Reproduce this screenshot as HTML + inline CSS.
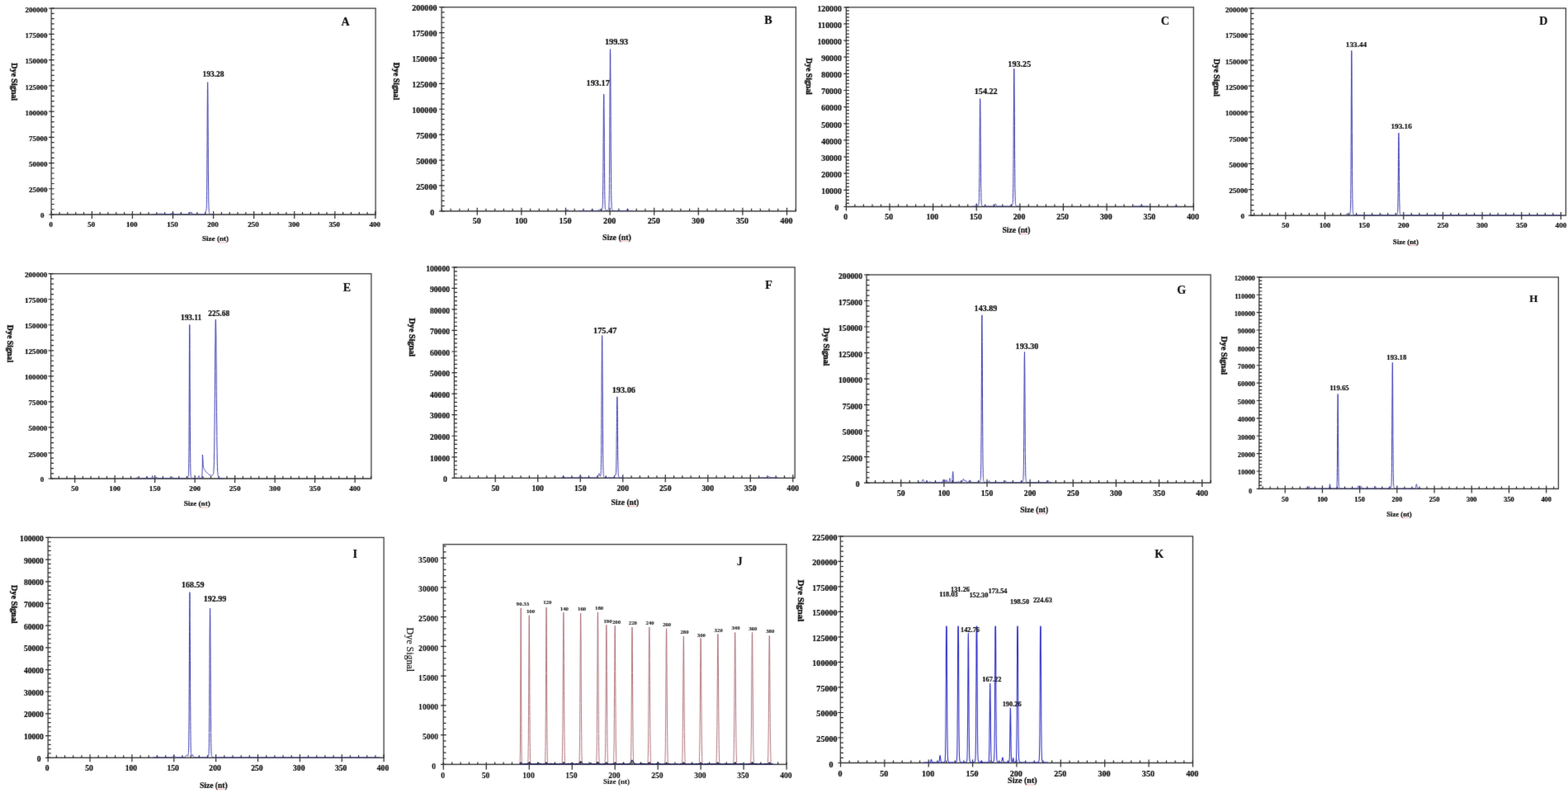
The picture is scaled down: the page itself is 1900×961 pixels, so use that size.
<!DOCTYPE html>
<html><head><meta charset="utf-8"><title>Electropherograms</title>
<style>html,body{margin:0;padding:0;background:#fff;width:1900px;height:961px;overflow:hidden;}svg{display:block;}</style></head>
<body><svg width="1900" height="961" viewBox="0 0 1900 961">
<defs><filter id="bl" x="0" y="0" width="1900" height="961" filterUnits="userSpaceOnUse"><feConvolveMatrix order="3" kernelMatrix="0.0219 0.0437 0.0219 0.0437 0.7375 0.0437 0.0219 0.0437 0.0219" divisor="1" preserveAlpha="false" edgeMode="duplicate"/></filter></defs>
<rect width="1900" height="961" fill="#fff"/>
<g filter="url(#bl)">
<g id="pA"><rect x="62.2" y="10.1" width="392.9" height="249.9" fill="none" stroke="#3a3a3a" stroke-width="1.3"/>
<path d="M62.3 256V265M72.11 257V260M81.93 257V260M91.74 257V260M101.56 257V260M111.38 256V265M121.19 257V260M131 257V260M140.82 257V260M150.63 257V260M160.45 256V265M170.26 257V260M180.08 257V260M189.89 257V260M199.71 257V260M209.52 256V265M219.34 257V260M229.15 257V260M238.97 257V260M248.78 257V260M258.6 256V265M268.41 257V260M278.23 257V260M288.04 257V260M297.86 257V260M307.67 256V265M317.49 257V260M327.31 257V260M337.12 257V260M346.94 257V260M356.75 256V265M366.56 257V260M376.38 257V260M386.19 257V260M396.01 257V260M405.82 256V265M415.64 257V260M425.45 257V260M435.27 257V260M445.08 257V260M454.9 256V265M59.2 260H65.7M62.2 253.75H65.7M62.2 247.5H65.7M62.2 241.26H65.7M62.2 235.01H65.7M59.2 228.76H65.7M62.2 222.51H65.7M62.2 216.27H65.7M62.2 210.02H65.7M62.2 203.77H65.7M59.2 197.53H65.7M62.2 191.28H65.7M62.2 185.03H65.7M62.2 178.78H65.7M62.2 172.53H65.7M59.2 166.29H65.7M62.2 160.04H65.7M62.2 153.79H65.7M62.2 147.55H65.7M62.2 141.3H65.7M59.2 135.05H65.7M62.2 128.8H65.7M62.2 122.56H65.7M62.2 116.31H65.7M62.2 110.06H65.7M59.2 103.81H65.7M62.2 97.56H65.7M62.2 91.32H65.7M62.2 85.07H65.7M62.2 78.82H65.7M59.2 72.58H65.7M62.2 66.33H65.7M62.2 60.08H65.7M62.2 53.83H65.7M62.2 47.59H65.7M59.2 41.34H65.7M62.2 35.09H65.7M62.2 28.84H65.7M62.2 22.59H65.7M62.2 16.35H65.7M59.2 10.1H65.7" stroke="#262626" stroke-width="1.2" fill="none"/>
<g font-family='"Liberation Serif", serif' font-weight="bold" font-size="9.0" fill="#111" stroke="#111" stroke-width="0.22"><text x="61.7" y="275.01" text-anchor="middle">0</text><text x="110.78" y="275.01" text-anchor="middle">50</text><text x="159.85" y="275.01" text-anchor="middle">100</text><text x="208.92" y="275.01" text-anchor="middle">150</text><text x="258" y="275.01" text-anchor="middle">200</text><text x="307.07" y="275.01" text-anchor="middle">250</text><text x="356.15" y="275.01" text-anchor="middle">300</text><text x="405.22" y="275.01" text-anchor="middle">350</text><text x="454.3" y="275.01" text-anchor="middle">400</text><text x="53.5" y="264.31" text-anchor="end" font-size="9.0">0</text><text x="57.6" y="233.48" text-anchor="end" font-size="9.0">25000</text><text x="57.6" y="202.24" text-anchor="end" font-size="9.0">50000</text><text x="57.6" y="171" text-anchor="end" font-size="9.0">75000</text><text x="57.6" y="139.76" text-anchor="end" font-size="9.0">100000</text><text x="57.6" y="108.53" text-anchor="end" font-size="9.0">125000</text><text x="57.6" y="77.29" text-anchor="end" font-size="9.0">150000</text><text x="57.6" y="46.05" text-anchor="end" font-size="9.0">175000</text><text x="57.6" y="14.81" text-anchor="end" font-size="9.0">200000</text></g>
<path d="M184.6 259.6L185.0 259.6L185.1 259.6L185.5 259.6L185.5 259.6L186.0 259.6L186.4 259.6L186.5 259.6L186.9 259.6L187.0 259.6L187.3 259.6L187.4 259.6L187.7 259.6L187.9 259.6L188.2 259.6L188.4 259.6L188.6 259.6L188.9 259.6L189.1 259.6L189.4 259.5L189.5 259.5L189.9 259.5L189.9 259.5L190.4 259.5L190.8 259.4L190.9 259.4L191.3 259.4L191.4 259.4L191.7 259.4L191.9 259.3L192.2 259.3L192.3 259.3L192.6 259.3L192.8 259.2L193.0 259.2L193.3 259.2L193.5 259.2L193.8 259.2L193.9 259.2L194.3 259.2L194.4 259.2L194.8 259.2L195.2 259.2L195.3 259.2L195.7 259.2L195.8 259.2L196.1 259.2L196.3 259.2L196.6 259.2L196.8 259.2L197.0 259.3L197.3 259.3L197.5 259.3L197.7 259.3L197.9 259.4L198.2 259.4L198.3 259.4L198.7 259.4L198.8 259.4L199.2 259.5L199.7 259.5L199.7 259.5L200.1 259.5L200.2 259.5L200.5 259.6L200.7 259.6L201.0 259.6L201.2 259.6L201.4 259.6L201.7 259.6L201.9 259.6L202.2 259.6L202.3 259.6L202.7 259.6L202.8 259.6L203.0 259.6L203.1 259.6L203.1 259.6L203.2 259.6L203.2 259.6L203.3 259.6L203.4 259.6L203.6 259.6L203.6 259.6L203.7 259.6L203.8 259.6L203.9 259.6L204.0 259.6L204.1 259.6L204.1 259.6L204.1 259.6L204.3 259.6L204.4 259.6L204.5 259.6L204.5 259.6L204.6 259.6L204.7 259.6L204.9 259.6L205.0 259.6L205.0 259.6L205.1 259.6L205.1 259.6L205.2 259.6L205.3 259.6L205.4 259.6L205.4 259.6L205.6 259.6L205.6 259.6L205.7 259.6L205.8 259.5L205.8 259.5L205.9 259.5L206.0 259.5L206.1 259.5L206.1 259.5L206.1 259.4L206.2 259.4L206.3 259.4L206.3 259.4L206.3 259.4L206.3 259.3L206.4 259.3L206.4 259.3L206.5 259.2L206.5 259.2L206.6 259.2L206.6 259.1L206.6 259.1L206.7 259.1L206.7 259.1L206.7 259.1L206.8 259.0L206.9 259.0L206.9 258.9L207.0 258.9L207.0 258.9L207.1 258.8L207.1 258.8L207.1 258.8L207.1 258.8L207.2 258.7L207.2 258.7L207.2 258.7L207.3 258.7L207.3 258.7L207.4 258.6L207.4 258.6L207.5 258.6L207.6 258.6L207.6 258.6L207.6 258.6L207.7 258.6L207.7 258.6L207.8 258.6L207.8 258.6L207.8 258.7L207.9 258.7L207.9 258.7L207.9 258.7L208.0 258.7L208.0 258.7L208.1 258.7L208.1 258.7L208.2 258.8L208.2 258.8L208.3 258.8L208.3 258.8L208.4 258.8L208.4 258.8L208.4 258.8L208.5 258.8L208.5 258.8L208.5 258.8L208.5 258.7L208.6 258.7L208.6 258.7L208.6 258.7L208.7 258.6L208.7 258.6L208.8 258.5L208.9 258.5L208.9 258.4L208.9 258.4L209.0 258.4L209.0 258.3L209.0 258.3L209.1 258.2L209.1 258.2L209.2 258.1L209.2 258.1L209.3 258.1L209.3 258.0L209.3 258.0L209.4 258.0L209.4 258.0L209.4 258.0L209.5 258.0L209.6 258.0L209.6 258.0L209.6 258.0L209.7 258.0L209.7 258.1L209.8 258.1L209.8 258.2L209.8 258.2L209.9 258.3L209.9 258.3L210.0 258.4L210.0 258.5L210.0 258.5L210.1 258.5L210.1 258.7L210.2 258.7L210.2 258.8L210.2 258.8L210.3 258.9L210.3 258.9L210.3 259.0L210.4 259.1L210.4 259.1L210.5 259.2L210.5 259.2L210.6 259.3L210.6 259.3L210.7 259.4L210.7 259.4L210.7 259.4L210.8 259.4L210.8 259.5L210.9 259.5L210.9 259.5L210.9 259.5L211.0 259.5L211.0 259.5L211.0 259.5L211.1 259.6L211.1 259.6L211.1 259.6L211.2 259.6L211.2 259.6L211.3 259.6L211.3 259.6L211.4 259.6L211.4 259.6L211.4 259.6L211.5 259.6L211.5 259.6L211.6 259.6L211.6 259.6L211.6 259.6L211.6 259.6L211.7 259.6L211.7 259.6L211.8 259.6L211.8 259.6L211.9 259.6L211.9 259.6L212.0 259.6L212.0 259.6L212.0 259.6L212.0 259.6L212.1 259.6L212.2 259.6L212.2 259.6L212.3 259.6L212.3 259.6L212.4 259.6L212.4 259.6L212.5 259.6L212.5 259.6L212.6 259.6L212.6 259.6L212.7 259.6L212.8 259.6L212.9 259.6L212.9 259.6L213.0 259.6L213.0 259.6L213.2 259.6L213.5 259.6L213.7 259.6L213.9 259.6L214.0 259.6L214.3 259.6L214.4 259.6L214.6 259.6L214.9 259.6L215.2 259.6L215.4 259.6L215.5 259.6L215.8 259.6L215.9 259.6L216.1 259.5L216.4 259.5L216.7 259.5L216.9 259.5L217.0 259.5L217.3 259.4L217.4 259.4L217.6 259.4L217.9 259.4L218.2 259.3L218.4 259.3L218.5 259.3L218.8 259.3L218.8 259.3L219.0 259.3L219.3 259.3L219.6 259.3L219.8 259.3L219.9 259.3L220.2 259.3L220.3 259.3L220.5 259.3L220.8 259.4L221.1 259.4L221.3 259.4L221.4 259.4L221.7 259.5L221.8 259.5L222.0 259.5L222.3 259.5L222.6 259.5L222.8 259.6L222.9 259.6L223.2 259.6L223.3 259.6L223.5 259.6L223.8 259.6L224.1 259.6L224.2 259.6L224.3 259.6L224.6 259.6L224.7 259.6L224.9 259.6L225.2 259.6L225.5 259.6L225.7 259.6L225.8 259.6L226.1 259.6L226.2 259.6L226.4 259.6L226.7 259.6L226.7 259.6L226.8 259.6L226.9 259.6L227.0 259.6L227.0 259.6L227.0 259.6L227.1 259.6L227.2 259.6L227.2 259.6L227.3 259.6L227.3 259.6L227.4 259.6L227.5 259.6L227.6 259.6L227.6 259.6L227.7 259.6L227.7 259.6L227.8 259.6L227.8 259.6L227.9 259.6L227.9 259.6L228.0 259.6L228.1 259.6L228.2 259.6L228.2 259.6L228.3 259.6L228.4 259.6L228.5 259.6L228.5 259.6L228.5 259.5L228.6 259.5L228.7 259.5L228.7 259.5L228.7 259.5L228.7 259.4L228.8 259.4L228.8 259.4L228.8 259.4L228.9 259.3L228.9 259.3L229.0 259.2L229.0 259.2L229.1 259.1L229.1 259.1L229.1 259.1L229.2 259.0L229.2 259.0L229.2 258.9L229.3 258.8L229.3 258.7L229.3 258.6L229.4 258.6L229.4 258.6L229.4 258.4L229.4 258.3L229.5 258.2L229.5 258.1L229.6 257.9L229.6 257.9L229.6 257.8L229.7 257.7L229.7 257.7L229.8 257.5L229.8 257.5L229.9 257.4L229.9 257.3L229.9 257.3L230.0 257.2L230.0 257.2L230.0 257.1L230.1 257.1L230.1 257.1L230.2 257.1L230.2 257.1L230.2 257.1L230.2 257.1L230.3 257.2L230.3 257.2L230.4 257.3L230.4 257.3L230.5 257.5L230.5 257.5L230.5 257.5L230.6 257.6L230.6 257.7L230.6 257.7L230.7 257.8L230.7 257.8L230.8 258.0L230.8 258.0L230.8 258.1L230.8 258.1L230.9 258.2L230.9 258.3L231.0 258.3L231.0 258.3L231.0 258.4L231.1 258.4L231.1 258.4L231.1 258.4L231.2 258.4L231.2 258.4L231.3 258.3L231.3 258.3L231.4 258.3L231.4 258.2L231.5 258.1L231.5 258.1L231.5 258.0L231.6 258.0L231.6 257.9L231.6 257.8L231.7 257.8L231.7 257.7L231.7 257.7L231.8 257.6L231.8 257.5L231.9 257.5L231.9 257.4L232.0 257.4L232.0 257.4L232.1 257.4L232.1 257.4L232.2 257.4L232.2 257.4L232.3 257.4L232.3 257.5L232.3 257.6L232.4 257.6L232.4 257.7L232.5 257.7L232.5 257.9L232.5 257.9L232.6 258.0L232.6 258.1L232.6 258.1L232.7 258.3L232.7 258.3L232.8 258.5L232.8 258.5L232.9 258.7L232.9 258.7L233.0 258.8L233.0 258.9L233.1 259.0L233.1 259.0L233.1 259.0L233.1 259.1L233.2 259.2L233.2 259.2L233.2 259.3L233.3 259.3L233.3 259.4L233.4 259.4L233.4 259.4L233.5 259.5L233.5 259.5L233.6 259.5L233.6 259.5L233.6 259.5L233.7 259.6L233.8 259.6L233.9 259.6L234.0 259.6L234.0 259.6L234.1 259.6L234.1 259.6L234.2 259.6L234.3 259.6L234.4 259.6L234.5 259.6L234.6 259.6L234.6 259.6L234.7 259.6L234.7 259.6L234.8 259.6L234.9 259.6L235.0 259.6L235.0 259.6L235.1 259.6L235.2 259.6L235.3 259.6L235.4 259.6L235.5 259.6L235.5 259.6L235.5 259.6L236.0 259.6L236.5 259.6L237.0 259.6L237.5 259.6L238.0 259.6L238.5 259.6L239.0 259.6L239.5 259.6L240.0 259.6L240.4 259.6L240.9 259.6L241.4 259.6L241.9 259.6L242.4 259.6L242.9 259.6L243.4 259.6L243.9 259.6L244.4 259.6L244.9 259.6L245.3 259.6L245.8 259.6L246.3 259.6L246.5 259.6L246.6 259.6L246.7 259.6L246.7 259.6L246.8 259.6L246.8 259.6L246.9 259.6L246.9 259.6L247.0 259.6L247.1 259.6L247.2 259.6L247.2 259.6L247.3 259.6L247.4 259.6L247.5 259.6L247.5 259.6L247.6 259.6L247.7 259.6L247.8 259.5L247.8 259.5L247.8 259.5L247.9 259.5L248.0 259.5L248.0 259.4L248.1 259.4L248.2 259.3L248.3 259.2L248.3 259.2L248.3 259.1L248.4 258.9L248.5 258.8L248.5 258.7L248.6 258.6L248.6 258.4L248.6 258.3L248.7 258.2L248.7 258.1L248.8 257.9L248.8 257.8L248.8 257.5L248.9 257.5L248.9 257.2L248.9 257.2L249.0 256.9L249.0 256.9L249.1 256.6L249.1 256.6L249.2 256.3L249.2 256.3L249.2 256.1L249.2 256.0L249.3 256.0L249.3 255.9L249.3 255.8L249.4 255.8L249.4 255.7L249.4 255.7L249.5 255.6L249.5 255.6L249.6 255.6L249.6 255.6L249.6 255.6L249.7 255.6L249.7 255.6L249.7 255.6L249.8 255.5L249.8 255.5L249.8 255.5L249.9 255.3L249.9 255.3L250.0 255.0L250.0 255.0L250.0 254.5L250.0 254.5L250.1 253.7L250.1 253.6L250.2 252.5L250.2 252.2L250.3 250.9L250.3 250.2L250.3 248.6L250.4 247.5L250.4 245.5L250.4 243.8L250.5 241.6L250.5 238.9L250.6 236.5L250.6 232.8L250.6 230.3L250.7 225.1L250.7 222.8L250.7 217.0L250.8 215.9L250.8 213.9L250.8 205.2L250.8 203.8L250.9 193.1L250.9 192.4L251.0 180.2L251.0 179.8L251.1 167.2L251.1 165.8L251.1 154.1L251.2 151.6L251.2 141.2L251.2 137.9L251.2 137.1L251.3 129.2L251.3 125.4L251.4 118.7L251.4 114.7L251.4 110.0L251.5 106.6L251.5 103.8L251.6 101.4L251.6 100.4L251.6 99.7L251.7 99.9L251.7 101.4L251.7 102.4L251.8 106.6L251.8 107.7L251.9 114.7L251.9 115.6L251.9 125.4L252.0 125.5L252.0 137.1L252.0 138.0L252.1 149.8L252.1 151.7L252.2 162.9L252.2 165.9L252.2 171.6L252.2 175.9L252.3 179.9L252.3 193.1L252.4 205.3L252.5 216.0L252.6 225.2L252.7 232.9L252.7 236.7L252.7 239.2L252.8 244.1L252.9 247.9L253.0 250.8L253.1 252.9L253.1 254.5L253.2 255.3L253.2 255.6L253.3 256.4L253.4 257.0L253.5 257.4L253.5 257.7L253.6 258.0L253.7 258.1L253.7 258.2L253.8 258.3L253.9 258.5L253.9 258.6L254.0 258.7L254.1 258.8L254.2 258.9L254.2 258.9L254.3 259.0L254.3 259.1L254.4 259.1L254.5 259.2L254.6 259.2L254.7 259.3L254.7 259.3L254.7 259.3L255.2 259.5L255.7 259.6L256.1 259.6L256.6 259.6L257.1 259.6L257.6 259.6L258.1 259.6L258.6 259.6L259.1 259.6" fill="none" stroke="#3a3ab0" stroke-width="1" stroke-linejoin="round"/>
<path d="M62.2 260H455.1" stroke="#3a3a3a" stroke-width="1.3" opacity="0.5"/>
<g font-family='"Liberation Serif", serif' font-weight="bold" font-size="9.5" fill="#111" stroke="#111" stroke-width="0.22"><text x="258.5" y="93.18" text-anchor="middle">193.28</text></g>
<text x="418.5" y="31.12" text-anchor="middle" font-family='"Liberation Serif", serif' font-weight="bold" font-size="14" fill="#111" stroke="#111" stroke-width="0.22">A</text>
<text transform="translate(14.1,99.1) rotate(90)" text-anchor="middle" font-family='"Liberation Serif", serif' font-weight="bold" font-size="10.0" fill="#111" stroke="#111" stroke-width="0.42">Dye Signal</text>
<text x="261" y="292.32" text-anchor="middle" font-family='"Liberation Serif", serif' font-weight="bold" font-size="9.1" fill="#111" stroke="#111" stroke-width="0.22">Size (nt)</text>
<polyline points="264.1,293.4 265.3,294.6 266.5,293.4 267.7,294.6 268.9,293.4 270.1,294.6 271.3,293.4 272.5,294.6 273.7,293.4" fill="none" stroke="#e05a5a" stroke-width="0.8" opacity="0.6"/></g>
<g id="pB"><rect x="535.1" y="8.7" width="429.3" height="247.1" fill="none" stroke="#3a3a3a" stroke-width="1.3"/>
<path d="M535.36 252.8V255.8M546.09 252.8V255.8M556.81 252.8V255.8M567.53 252.8V255.8M578.25 251.8V260.8M588.97 252.8V255.8M599.69 252.8V255.8M610.41 252.8V255.8M621.14 252.8V255.8M631.86 251.8V260.8M642.58 252.8V255.8M653.3 252.8V255.8M664.02 252.8V255.8M674.74 252.8V255.8M685.46 251.8V260.8M696.19 252.8V255.8M706.91 252.8V255.8M717.63 252.8V255.8M728.35 252.8V255.8M739.07 251.8V260.8M749.79 252.8V255.8M760.51 252.8V255.8M771.24 252.8V255.8M781.96 252.8V255.8M792.68 251.8V260.8M803.4 252.8V255.8M814.12 252.8V255.8M824.84 252.8V255.8M835.56 252.8V255.8M846.29 251.8V260.8M857.01 252.8V255.8M867.73 252.8V255.8M878.45 252.8V255.8M889.17 252.8V255.8M899.89 251.8V260.8M910.61 252.8V255.8M921.34 252.8V255.8M932.06 252.8V255.8M942.78 252.8V255.8M953.5 251.8V260.8M964.22 252.8V255.8M532.1 255.8H538.6M535.1 249.62H538.6M535.1 243.45H538.6M535.1 237.27H538.6M535.1 231.09H538.6M532.1 224.91H538.6M535.1 218.74H538.6M535.1 212.56H538.6M535.1 206.38H538.6M535.1 200.2H538.6M532.1 194.03H538.6M535.1 187.85H538.6M535.1 181.67H538.6M535.1 175.49H538.6M535.1 169.31H538.6M532.1 163.14H538.6M535.1 156.96H538.6M535.1 150.78H538.6M535.1 144.61H538.6M535.1 138.43H538.6M532.1 132.25H538.6M535.1 126.07H538.6M535.1 119.9H538.6M535.1 113.72H538.6M535.1 107.54H538.6M532.1 101.36H538.6M535.1 95.19H538.6M535.1 89.01H538.6M535.1 82.83H538.6M535.1 76.65H538.6M532.1 70.47H538.6M535.1 64.3H538.6M535.1 58.12H538.6M535.1 51.94H538.6M535.1 45.77H538.6M532.1 39.59H538.6M535.1 33.41H538.6M535.1 27.23H538.6M535.1 21.06H538.6M535.1 14.88H538.6M532.1 8.7H538.6" stroke="#262626" stroke-width="1.2" fill="none"/>
<g font-family='"Liberation Serif", serif' font-weight="bold" font-size="10.1" fill="#111" stroke="#111" stroke-width="0.22"><text x="577.85" y="271.38" text-anchor="middle">50</text><text x="631.46" y="271.38" text-anchor="middle">100</text><text x="685.06" y="271.38" text-anchor="middle">150</text><text x="738.67" y="271.38" text-anchor="middle">200</text><text x="792.28" y="271.38" text-anchor="middle">250</text><text x="845.89" y="271.38" text-anchor="middle">300</text><text x="899.49" y="271.38" text-anchor="middle">350</text><text x="953.1" y="271.38" text-anchor="middle">400</text><text x="526.2" y="261.28" text-anchor="end" font-size="10.1">0</text><text x="529.5" y="229.7" text-anchor="end" font-size="10.1">25000</text><text x="529.5" y="198.81" text-anchor="end" font-size="10.1">50000</text><text x="529.5" y="167.92" text-anchor="end" font-size="10.1">75000</text><text x="529.5" y="137.03" text-anchor="end" font-size="10.1">100000</text><text x="529.5" y="106.15" text-anchor="end" font-size="10.1">125000</text><text x="529.5" y="75.26" text-anchor="end" font-size="10.1">150000</text><text x="529.5" y="44.37" text-anchor="end" font-size="10.1">175000</text><text x="529.5" y="13.48" text-anchor="end" font-size="10.1">200000</text></g>
<path d="M686.2 255.1L686.3 255.0L686.5 255.0L686.5 254.9L686.6 254.9L686.7 254.8L686.9 254.7L687.0 254.6L687.1 254.6L687.2 254.6L687.3 254.5L687.5 254.5L687.6 254.5L687.8 254.5L687.9 254.5L688.0 254.6L688.1 254.6L688.2 254.6L688.3 254.7L688.5 254.8L688.6 254.9L688.7 254.9L688.8 255.0L688.9 255.0L689.1 255.1M701.0 255.4L701.5 255.4L702.1 255.4L702.6 255.4L703.2 255.4L703.7 255.4L704.2 255.4L704.8 255.4L705.3 255.4L705.8 255.4L706.4 255.4L706.9 255.4L707.4 255.4L708.0 255.4L708.5 255.4L709.1 255.4L709.6 255.4L710.1 255.4L710.7 255.4L711.2 255.4L711.7 255.4L712.0 255.4L712.1 255.4L712.3 255.4L712.3 255.4L712.4 255.4L712.6 255.4L712.7 255.4L712.8 255.4L712.9 255.4L713.0 255.4L713.1 255.4L713.3 255.4L713.3 255.4L713.4 255.4L713.6 255.4L713.7 255.4L713.9 255.4L713.9 255.4L714.0 255.4L714.2 255.4L714.3 255.4L714.4 255.4L714.4 255.4L714.6 255.4L714.7 255.4L714.9 255.4L714.9 255.4L715.0 255.4L715.2 255.4L715.3 255.4L715.5 255.3L715.5 255.3L715.6 255.3L715.7 255.2L715.9 255.2L716.0 255.1L716.0 255.1L716.2 255.0L716.3 254.9L716.5 254.8L716.6 254.8L716.6 254.7L716.8 254.6L716.9 254.5L717.0 254.4L717.1 254.4L717.2 254.3L717.3 254.3L717.5 254.2L717.6 254.2L717.8 254.2L717.9 254.3L718.1 254.3L718.2 254.4L718.2 254.4L718.4 254.5L718.5 254.6L718.6 254.7L718.7 254.8L718.8 254.8L718.9 254.9L719.1 255.0L719.2 255.1L719.2 255.1L719.4 255.2L719.5 255.2L719.7 255.3L719.8 255.3L719.8 255.3L719.9 255.4L720.1 255.4L720.2 255.4L720.3 255.4L720.4 255.4L720.5 255.4L720.6 255.4L720.7 255.4L720.7 255.4L720.8 255.4L720.8 255.4L720.9 255.4L721.0 255.4L721.0 255.4L721.1 255.4L721.1 255.4L721.2 255.4L721.3 255.4L721.4 255.4L721.4 255.4L721.4 255.4L721.5 255.4L721.6 255.4L721.7 255.4L721.7 255.4L721.8 255.4L721.9 255.4L721.9 255.4L722.0 255.4L722.0 255.4L722.1 255.4L722.2 255.4L722.3 255.4L722.3 255.4L722.4 255.4L722.4 255.4L722.5 255.4L722.5 255.4L722.6 255.4L722.7 255.4L722.7 255.4L722.8 255.4L722.9 255.4L723.0 255.4L723.0 255.4L723.0 255.4L723.1 255.4L723.2 255.4L723.3 255.4L723.3 255.4L723.5 255.4L723.5 255.4L723.6 255.4L723.7 255.4L723.9 255.3L724.0 255.3L724.1 255.3L724.2 255.3L724.3 255.2L724.5 255.1L724.6 255.1L724.6 255.0L724.8 254.9L724.9 254.8L725.0 254.7L725.1 254.6L725.2 254.6L725.3 254.4L725.5 254.3L725.6 254.2L725.7 254.2L725.8 254.1L725.9 254.0L726.1 254.0L726.2 254.0L726.4 254.0L726.5 254.0L726.6 254.1L726.7 254.2L726.8 254.2L726.9 254.3L727.1 254.4L727.2 254.6L727.3 254.6L727.4 254.7L727.5 254.8L727.7 254.9L727.8 255.0L727.8 255.0L727.9 255.0L728.1 255.1L728.2 255.1L728.4 255.1L728.4 255.1L728.5 255.1L728.5 255.0L728.6 255.0L728.6 255.0L728.7 255.0L728.7 255.0L728.8 254.9L728.8 254.9L728.9 254.9L728.9 254.9L729.0 254.8L729.0 254.8L729.0 254.7L729.1 254.7L729.1 254.7L729.2 254.6L729.2 254.5L729.3 254.5L729.4 254.4L729.4 254.4L729.4 254.3L729.5 254.2L729.5 254.1L729.5 254.1L729.6 253.9L729.7 253.8L729.7 253.7L729.8 253.4L729.8 253.3L729.9 253.1L730.0 252.6L730.0 252.5L730.0 252.4L730.0 251.8L730.1 250.9L730.1 250.9L730.2 249.5L730.3 248.1L730.3 247.6L730.4 245.1L730.4 243.5L730.4 241.7L730.5 239.1L730.5 237.3L730.5 236.0L730.6 231.8L730.7 225.0L730.7 224.7L730.8 216.9L730.8 209.4L730.9 207.4L730.9 196.7L731.0 190.1L731.0 184.9L731.0 183.0L731.1 172.6L731.1 168.4L731.2 160.0L731.3 147.8L731.3 146.8L731.3 136.8L731.4 128.5L731.4 127.4L731.5 120.2L731.6 117.0L731.6 116.7L731.6 115.7L731.7 114.1L731.7 114.3L731.8 115.7L731.8 120.2L731.9 121.1L731.9 127.3L732.0 136.8L732.1 147.8L732.1 150.6L732.2 160.0L732.2 172.6L732.3 184.9L732.4 196.6L732.5 207.4L732.6 216.8L732.6 223.2L732.7 225.0L732.7 231.8L732.8 237.4L732.9 241.7L733.0 245.1L733.1 247.6L733.1 249.5L733.2 250.0L733.2 250.9L733.3 251.9L733.4 252.6L733.5 253.1L733.6 253.5L733.6 253.7L733.7 253.9L733.7 253.9L733.8 254.1L733.9 254.3L734.0 254.4L734.1 254.5L734.1 254.6L734.2 254.7L734.2 254.7L734.3 254.8L734.4 254.8L734.5 254.9L734.5 255.0L734.6 255.0L734.7 255.1L734.8 255.1L734.8 255.1L734.9 255.2L735.3 255.3L735.9 255.2L736.3 255.1L736.4 255.0L736.4 255.0L736.5 254.9L736.5 254.9L736.6 254.8L736.7 254.7L736.8 254.6L736.9 254.5L736.9 254.4L737.0 254.4L737.0 254.3L737.1 254.1L737.2 254.0L737.3 253.8L737.4 253.6L737.5 253.4L737.5 253.3L737.5 253.1L737.6 252.7L737.7 252.2L737.8 251.5L737.9 250.5L737.9 249.1L738.0 247.8L738.0 247.2L738.1 244.6L738.2 241.1L738.3 236.5L738.4 230.4L738.4 222.7L738.5 213.3L738.5 210.8L738.6 202.0L738.7 188.9L738.8 173.9L738.8 157.8L738.9 140.7L739.0 123.3L739.1 110.2L739.1 106.3L739.2 91.1L739.3 77.9L739.3 68.0L739.4 61.8L739.5 59.6L739.6 61.8L739.6 63.3L739.7 68.0L739.7 78.1L739.8 91.1L739.9 106.3L740.0 123.3L740.1 140.7L740.1 155.1L740.2 157.8L740.2 174.1L740.3 188.9L740.4 202.1L740.5 213.3L740.6 222.7L740.6 230.4L740.7 232.8L740.7 236.5L740.8 241.1L740.9 244.6L741.0 247.2L741.1 249.1L741.1 250.5L741.2 251.4L741.2 251.5L741.3 252.2L741.4 252.7L741.5 253.1L741.6 253.4L741.6 253.6L741.7 253.8L741.8 253.9L741.8 254.0L741.9 254.1L742.0 254.3L742.0 254.4L742.1 254.5L742.2 254.6L742.3 254.7L742.3 254.7L742.4 254.8L742.5 254.9L742.5 255.0L742.6 255.0L742.7 255.1L742.8 255.1L743.4 255.3L743.9 255.4L744.4 255.4L745.0 255.4L745.5 255.4L746.0 255.4L746.6 255.4L747.1 255.4L747.6 255.4L748.2 255.4L748.7 255.4L749.3 255.4L749.8 255.4L750.3 255.4L750.9 255.4L751.4 255.4L751.9 255.4L752.5 255.4L753.0 255.4L753.5 255.4L754.1 255.4L754.6 255.4L755.2 255.4L755.7 255.4L756.2 255.4L756.8 255.4L756.8 255.4L756.8 255.4L756.9 255.4L757.0 255.4L757.1 255.4L757.2 255.4L757.3 255.4L757.3 255.4L757.4 255.4L757.5 255.4L757.6 255.4L757.7 255.4L757.8 255.4L757.8 255.4L757.9 255.4L758.0 255.4L758.1 255.4L758.2 255.4L758.3 255.4L758.4 255.4L758.4 255.4L758.5 255.4L758.6 255.4L758.7 255.4L758.8 255.4L758.9 255.3L758.9 255.3L759.0 255.3L759.1 255.2L759.2 255.2L759.3 255.1L759.4 255.0L759.4 254.9L759.5 254.8L759.5 254.7L759.6 254.5L759.7 254.3L759.8 254.1L759.9 253.9L760.0 253.9L760.0 253.8L760.1 253.6L760.2 253.4L760.3 253.3L760.4 253.3L760.5 253.2L760.6 253.3L760.7 253.3L760.8 253.4L760.9 253.6L761.0 253.8L761.1 253.9L761.1 253.9L761.2 254.1L761.3 254.3L761.4 254.5L761.5 254.7L761.6 254.8L761.6 254.9L761.7 255.0L761.8 255.1L761.9 255.2L762.0 255.2L762.1 255.3L762.1 255.3L762.2 255.3L762.3 255.4L762.3 255.4L762.4 255.4L762.5 255.4L762.6 255.4L762.7 255.4L762.7 255.4L762.8 255.4L762.9 255.4L763.0 255.4L763.1 255.4L763.2 255.4L763.2 255.4L763.3 255.4L763.4 255.4L763.5 255.4L763.6 255.4L763.7 255.4L763.7 255.4L763.8 255.4L763.9 255.4L764.0 255.4L764.1 255.4L764.2 255.4L764.3 255.4L764.3 255.4L764.8 255.4L765.3 255.4L765.9 255.4L766.4 255.4" fill="none" stroke="#3a3ab0" stroke-width="1" stroke-linejoin="round"/>
<path d="M535.1 255.8H964.4" stroke="#3a3a3a" stroke-width="1.3" opacity="0.5"/>
<g font-family='"Liberation Serif", serif' font-weight="bold" font-size="10.3" fill="#111" stroke="#111" stroke-width="0.22"><text x="724.7" y="103.95" text-anchor="middle">193.17</text><text x="747.1" y="54.35" text-anchor="middle">199.93</text></g>
<text x="931" y="28.62" text-anchor="middle" font-family='"Liberation Serif", serif' font-weight="bold" font-size="14" fill="#111" stroke="#111" stroke-width="0.22">B</text>
<text transform="translate(476.6,98.5) rotate(90)" text-anchor="middle" font-family='"Liberation Serif", serif' font-weight="bold" font-size="9.9" fill="#111" stroke="#111" stroke-width="0.42">Dye Signal</text>
<text x="747.4" y="290.52" text-anchor="middle" font-family='"Liberation Serif", serif' font-weight="bold" font-size="9.9" fill="#111" stroke="#111" stroke-width="0.22">Size (nt)</text>
<polyline points="750.8,291.6 752.0,292.8 753.2,291.6 754.4,292.8 755.6,291.6 756.8,292.8 758.0,291.6 759.2,292.8 760.4,291.6 761.6,292.8" fill="none" stroke="#e05a5a" stroke-width="0.8" opacity="0.6"/></g>
<g id="pC"><rect x="1025.4" y="8.8" width="420.9" height="241.7" fill="none" stroke="#3a3a3a" stroke-width="1.3"/>
<path d="M1025.4 246.5V255.5M1035.92 247.5V250.5M1046.45 247.5V250.5M1056.97 247.5V250.5M1067.49 247.5V250.5M1078.01 246.5V255.5M1088.54 247.5V250.5M1099.06 247.5V250.5M1109.58 247.5V250.5M1120.1 247.5V250.5M1130.62 246.5V255.5M1141.15 247.5V250.5M1151.67 247.5V250.5M1162.19 247.5V250.5M1172.72 247.5V250.5M1183.24 246.5V255.5M1193.76 247.5V250.5M1204.28 247.5V250.5M1214.81 247.5V250.5M1225.33 247.5V250.5M1235.85 246.5V255.5M1246.37 247.5V250.5M1256.89 247.5V250.5M1267.42 247.5V250.5M1277.94 247.5V250.5M1288.46 246.5V255.5M1298.99 247.5V250.5M1309.51 247.5V250.5M1320.03 247.5V250.5M1330.55 247.5V250.5M1341.08 246.5V255.5M1351.6 247.5V250.5M1362.12 247.5V250.5M1372.64 247.5V250.5M1383.16 247.5V250.5M1393.69 246.5V255.5M1404.21 247.5V250.5M1414.73 247.5V250.5M1425.26 247.5V250.5M1435.78 247.5V250.5M1446.3 246.5V255.5M1022.4 250.5H1028.9M1025.4 246.47H1028.9M1025.4 242.44H1028.9M1025.4 238.41H1028.9M1025.4 234.39H1028.9M1022.4 230.36H1028.9M1025.4 226.33H1028.9M1025.4 222.3H1028.9M1025.4 218.27H1028.9M1025.4 214.25H1028.9M1022.4 210.22H1028.9M1025.4 206.19H1028.9M1025.4 202.16H1028.9M1025.4 198.13H1028.9M1025.4 194.1H1028.9M1022.4 190.07H1028.9M1025.4 186.05H1028.9M1025.4 182.02H1028.9M1025.4 177.99H1028.9M1025.4 173.96H1028.9M1022.4 169.93H1028.9M1025.4 165.91H1028.9M1025.4 161.88H1028.9M1025.4 157.85H1028.9M1025.4 153.82H1028.9M1022.4 149.79H1028.9M1025.4 145.76H1028.9M1025.4 141.74H1028.9M1025.4 137.71H1028.9M1025.4 133.68H1028.9M1022.4 129.65H1028.9M1025.4 125.62H1028.9M1025.4 121.59H1028.9M1025.4 117.56H1028.9M1025.4 113.54H1028.9M1022.4 109.51H1028.9M1025.4 105.48H1028.9M1025.4 101.45H1028.9M1025.4 97.42H1028.9M1025.4 93.4H1028.9M1022.4 89.37H1028.9M1025.4 85.34H1028.9M1025.4 81.31H1028.9M1025.4 77.28H1028.9M1025.4 73.25H1028.9M1022.4 69.22H1028.9M1025.4 65.2H1028.9M1025.4 61.17H1028.9M1025.4 57.14H1028.9M1025.4 53.11H1028.9M1022.4 49.08H1028.9M1025.4 45.06H1028.9M1025.4 41.03H1028.9M1025.4 37H1028.9M1025.4 32.97H1028.9M1022.4 28.94H1028.9M1025.4 24.91H1028.9M1025.4 20.88H1028.9M1025.4 16.86H1028.9M1025.4 12.83H1028.9M1022.4 8.8H1028.9" stroke="#262626" stroke-width="1.2" fill="none"/>
<g font-family='"Liberation Serif", serif' font-weight="bold" font-size="9.8" fill="#111" stroke="#111" stroke-width="0.22"><text x="1024.6" y="265.68" text-anchor="middle">0</text><text x="1077.21" y="265.68" text-anchor="middle">50</text><text x="1129.83" y="265.68" text-anchor="middle">100</text><text x="1182.44" y="265.68" text-anchor="middle">150</text><text x="1235.05" y="265.68" text-anchor="middle">200</text><text x="1287.66" y="265.68" text-anchor="middle">250</text><text x="1340.28" y="265.68" text-anchor="middle">300</text><text x="1392.89" y="265.68" text-anchor="middle">350</text><text x="1445.5" y="265.68" text-anchor="middle">400</text><text x="1016.3" y="255.08" text-anchor="end" font-size="9.8">0</text><text x="1019.8" y="235.14" text-anchor="end" font-size="9.8">10000</text><text x="1019.8" y="215" text-anchor="end" font-size="9.8">20000</text><text x="1019.8" y="194.86" text-anchor="end" font-size="9.8">30000</text><text x="1019.8" y="174.72" text-anchor="end" font-size="9.8">40000</text><text x="1019.8" y="154.57" text-anchor="end" font-size="9.8">50000</text><text x="1019.8" y="134.43" text-anchor="end" font-size="9.8">60000</text><text x="1019.8" y="114.29" text-anchor="end" font-size="9.8">70000</text><text x="1019.8" y="94.15" text-anchor="end" font-size="9.8">80000</text><text x="1019.8" y="74.01" text-anchor="end" font-size="9.8">90000</text><text x="1019.8" y="53.87" text-anchor="end" font-size="9.8">100000</text><text x="1019.8" y="33.72" text-anchor="end" font-size="9.8">110000</text><text x="1019.8" y="13.58" text-anchor="end" font-size="9.8">120000</text></g>
<path d="M1177.8 250.1L1178.0 250.1L1178.0 250.1L1178.1 250.1L1178.3 250.1L1178.4 250.1L1178.5 250.1L1178.5 250.1L1178.7 250.1L1178.8 250.1L1179.0 250.1L1179.0 250.1L1179.1 250.1L1179.3 250.1L1179.4 250.1L1179.5 250.1L1179.6 250.1L1179.7 250.1L1179.8 250.1L1180.0 250.1L1180.1 250.1L1180.1 250.1L1180.3 250.1L1180.4 250.1L1180.5 250.1L1180.6 250.1L1180.7 250.1L1180.8 250.0L1181.0 250.0L1181.1 250.0L1181.1 249.9L1181.2 249.9L1181.4 249.8L1181.5 249.7L1181.7 249.6L1181.7 249.6L1181.8 249.5L1182.0 249.3L1182.1 249.1L1182.2 249.0L1182.2 249.0L1182.4 248.8L1182.5 248.6L1182.7 248.5L1182.7 248.4L1182.8 248.3L1183.0 248.2L1183.1 248.1L1183.2 248.1L1183.4 248.1L1183.5 248.2L1183.7 248.3L1183.8 248.4L1183.8 248.4L1183.9 248.5L1184.1 248.7L1184.2 248.8L1184.3 248.9L1184.4 248.9L1184.5 249.1L1184.5 249.1L1184.6 249.1L1184.7 249.1L1184.7 249.2L1184.8 249.2L1184.8 249.2L1184.8 249.2L1184.8 249.2L1184.9 249.2L1184.9 249.2L1185.0 249.2L1185.1 249.2L1185.1 249.2L1185.2 249.2L1185.2 249.1L1185.2 249.1L1185.3 249.1L1185.3 249.0L1185.4 249.0L1185.4 249.0L1185.5 248.9L1185.5 248.9L1185.6 248.8L1185.6 248.7L1185.7 248.6L1185.7 248.5L1185.8 248.3L1185.8 248.2L1185.9 248.0L1185.9 247.9L1185.9 247.6L1186.0 247.4L1186.0 246.8L1186.1 246.5L1186.1 245.9L1186.2 244.6L1186.2 244.4L1186.3 242.9L1186.4 240.7L1186.4 240.5L1186.4 239.7L1186.4 237.5L1186.5 234.8L1186.5 233.4L1186.6 228.3L1186.6 225.6L1186.7 222.1L1186.8 214.6L1186.8 212.7L1186.9 205.8L1186.9 197.4L1186.9 196.1L1186.9 195.9L1187.0 185.0L1187.1 176.5L1187.1 173.7L1187.2 162.0L1187.2 156.2L1187.3 150.9L1187.3 140.6L1187.4 138.0L1187.4 131.9L1187.4 129.0L1187.5 125.2L1187.5 125.0L1187.6 121.1L1187.6 119.7L1187.7 119.6L1187.7 121.0L1187.8 123.1L1187.8 125.2L1187.9 131.8L1187.9 134.6L1188.0 139.8L1188.0 140.6L1188.1 150.8L1188.1 151.9L1188.1 162.0L1188.2 172.0L1188.2 173.7L1188.3 185.0L1188.4 191.9L1188.4 195.8L1188.5 205.8L1188.5 209.4L1188.5 209.9L1188.5 214.5L1188.6 222.1L1188.6 223.1L1188.7 228.3L1188.8 233.1L1188.8 233.4L1188.9 237.4L1188.9 240.6L1189.0 242.9L1189.1 244.7L1189.2 245.9L1189.3 246.8L1189.3 247.5L1189.4 248.0L1189.5 248.3L1189.6 248.5L1189.6 248.6L1189.7 248.8L1189.7 248.9L1189.8 249.1L1189.9 249.2L1190.0 249.3L1190.1 249.4L1190.1 249.4L1190.2 249.5L1190.2 249.5L1190.3 249.6L1190.4 249.7L1190.5 249.7L1190.6 249.8L1190.6 249.8L1190.6 249.8L1190.7 249.9L1190.8 249.9L1191.1 250.0L1191.7 250.1L1192.2 250.1L1192.7 250.1L1193.2 250.1L1193.8 250.1L1194.3 250.1L1194.8 250.1L1195.3 250.1L1195.9 250.1L1196.4 250.1L1196.9 250.1L1197.4 250.1L1198.0 250.1L1198.5 250.1L1199.0 250.1L1199.5 250.1L1200.1 250.1L1200.6 250.1L1201.1 250.1L1201.7 250.1L1202.2 250.1L1202.7 250.1L1202.7 250.1L1202.8 250.1L1202.9 250.1L1203.0 250.1L1203.1 250.1L1203.2 250.1L1203.2 250.1L1203.3 250.1L1203.4 250.1L1203.5 250.1L1203.5 250.1L1203.6 250.1L1203.7 250.1L1203.8 250.1L1203.8 250.1L1203.9 250.1L1204.0 250.1L1204.1 250.1L1204.2 250.1L1204.3 250.1L1204.3 250.1L1204.4 250.1L1204.5 250.1L1204.6 250.1L1204.7 250.0L1204.8 250.0L1204.8 250.0L1204.9 249.9L1205.0 249.9L1205.1 249.8L1205.2 249.6L1205.3 249.5L1205.3 249.3L1205.3 249.3L1205.4 249.1L1205.5 248.9L1205.6 248.6L1205.7 248.4L1205.8 248.1L1205.9 248.0L1205.9 247.9L1206.0 247.6L1206.1 247.4L1206.2 247.3L1206.3 247.2L1206.4 247.1L1206.5 247.2L1206.6 247.3L1206.7 247.4L1206.8 247.6L1206.9 247.9L1206.9 248.0L1207.0 248.1L1207.0 248.4L1207.1 248.6L1207.2 248.9L1207.3 249.1L1207.4 249.3L1207.4 249.3L1207.5 249.5L1207.6 249.6L1207.7 249.8L1207.8 249.9L1207.9 249.9L1208.0 250.0L1208.0 250.0L1208.1 250.0L1208.2 250.1L1208.3 250.1L1208.4 250.1L1208.5 250.1L1208.5 250.1L1208.6 250.1L1208.7 250.1L1208.8 250.1L1208.8 250.1L1208.9 250.1L1209.0 250.1L1209.0 250.1L1209.1 250.1L1209.2 250.1L1209.3 250.1L1209.4 250.1L1209.5 250.1L1209.5 250.1L1209.6 250.1L1209.7 250.1L1209.8 250.1L1209.9 250.1L1210.0 250.1L1210.1 250.1L1210.1 250.1L1210.6 250.1L1211.1 250.1L1211.6 250.1L1212.2 250.1L1212.7 250.1L1213.2 250.1L1213.8 250.1L1214.3 250.1L1214.8 250.1L1215.3 250.1L1215.9 250.1L1216.4 250.1L1216.9 250.1L1217.4 250.1L1218.0 250.1L1218.5 250.1L1219.0 250.1L1219.5 250.1L1220.1 250.1L1220.6 250.1L1221.1 250.1L1221.6 250.1L1221.6 250.1L1221.7 250.1L1221.8 250.1L1221.9 250.1L1222.0 250.1L1222.1 250.1L1222.2 250.1L1222.2 250.1L1222.3 250.1L1222.4 250.1L1222.5 250.1L1222.6 250.1L1222.7 250.1L1222.7 250.1L1222.8 250.1L1222.9 250.1L1223.0 250.1L1223.1 250.1L1223.1 250.1L1223.2 250.1L1223.2 250.1L1223.3 250.1L1223.4 250.1L1223.5 250.1L1223.6 250.1L1223.7 250.0L1223.7 250.0L1223.8 250.0L1223.9 250.0L1224.0 249.9L1224.1 249.8L1224.2 249.7L1224.3 249.7L1224.3 249.6L1224.4 249.5L1224.5 249.4L1224.6 249.2L1224.7 249.0L1224.8 248.9L1224.8 248.8L1224.9 248.7L1224.9 248.5L1225.0 248.4L1225.1 248.3L1225.2 248.2L1225.3 248.2L1225.4 248.1L1225.5 248.2L1225.6 248.2L1225.7 248.2L1225.7 248.3L1225.7 248.3L1225.8 248.4L1225.8 248.4L1225.9 248.4L1225.9 248.4L1225.9 248.5L1226.0 248.5L1226.0 248.5L1226.1 248.6L1226.1 248.6L1226.1 248.6L1226.2 248.7L1226.2 248.7L1226.3 248.7L1226.3 248.7L1226.4 248.7L1226.4 248.7L1226.4 248.7L1226.5 248.6L1226.5 248.6L1226.5 248.6L1226.6 248.6L1226.6 248.5L1226.7 248.5L1226.7 248.4L1226.7 248.3L1226.8 248.2L1226.8 248.1L1226.9 248.0L1226.9 247.9L1226.9 247.7L1226.9 247.7L1227.0 247.3L1227.0 247.3L1227.1 246.7L1227.1 246.5L1227.2 245.9L1227.2 245.5L1227.3 244.7L1227.3 243.9L1227.4 243.1L1227.4 241.5L1227.4 240.9L1227.5 238.1L1227.5 237.9L1227.6 233.9L1227.6 233.5L1227.7 228.8L1227.7 227.1L1227.8 222.2L1227.8 218.8L1227.8 214.2L1227.9 208.4L1227.9 204.5L1228.0 198.7L1228.0 195.7L1228.0 193.4L1228.1 181.0L1228.1 180.6L1228.2 166.8L1228.2 164.6L1228.2 152.3L1228.3 147.3L1228.3 137.4L1228.4 130.0L1228.4 123.0L1228.5 113.9L1228.5 110.0L1228.5 109.0L1228.5 100.2L1228.6 98.8L1228.6 90.3L1228.6 90.1L1228.7 85.0L1228.7 84.3L1228.8 83.2L1228.8 83.5L1228.9 85.0L1228.9 87.6L1229.0 90.3L1229.0 95.2L1229.0 96.4L1229.0 98.9L1229.1 110.0L1229.2 123.2L1229.3 137.4L1229.4 152.3L1229.4 166.8L1229.5 180.8L1229.5 182.7L1229.6 193.4L1229.7 204.7L1229.8 214.2L1229.8 222.2L1229.9 228.8L1230.0 234.0L1230.1 236.8L1230.1 237.9L1230.2 240.9L1230.2 243.1L1230.3 244.8L1230.4 245.9L1230.5 246.8L1230.6 247.4L1230.6 247.5L1230.7 247.8L1230.7 248.1L1230.8 248.4L1230.9 248.6L1231.0 248.8L1231.1 248.9L1231.1 249.0L1231.1 249.0L1231.2 249.2L1231.3 249.3L1231.4 249.4L1231.5 249.4L1231.5 249.5L1231.6 249.6L1231.6 249.6L1231.7 249.7L1231.8 249.7L1231.9 249.8L1231.9 249.8L1232.2 249.9L1232.7 250.1L1233.2 250.1L1233.7 250.1L1234.3 250.1L1234.8 250.1L1235.3 250.1L1235.8 250.1L1236.4 250.1M1372.1 250.1L1372.6 250.1L1373.2 250.1L1373.7 250.1L1374.2 250.1L1374.7 250.1L1375.3 250.1L1375.8 250.1L1376.3 250.1L1376.9 250.1L1377.4 250.1L1377.6 250.1L1377.8 250.1L1377.9 250.1L1377.9 250.1L1378.1 250.1L1378.2 250.1L1378.3 250.1L1378.4 250.1L1378.5 250.1L1378.6 250.1L1378.8 250.1L1378.9 250.1L1379.0 250.1L1379.0 250.1L1379.2 250.1L1379.3 250.1L1379.5 250.1L1379.5 250.1L1379.6 250.1L1379.8 250.1L1379.9 250.1L1380.0 250.1L1380.0 250.1L1380.2 250.1L1380.3 250.1L1380.5 250.1L1380.5 250.1L1380.6 250.1L1380.8 250.0L1380.9 250.0L1381.0 250.0L1381.1 249.9L1381.2 249.9L1381.3 249.8L1381.5 249.7L1381.6 249.6L1381.6 249.6L1381.7 249.5L1381.9 249.3L1382.0 249.1L1382.1 249.0L1382.2 249.0L1382.3 248.8L1382.5 248.6L1382.6 248.5L1382.6 248.4L1382.7 248.3L1382.9 248.2L1383.0 248.2L1383.2 248.1L1383.3 248.2L1383.4 248.2L1383.6 248.3L1383.7 248.4L1383.7 248.5L1383.9 248.6L1384.0 248.8L1384.2 249.0L1384.2 249.0L1384.3 249.1L1384.4 249.3L1384.6 249.5L1384.7 249.6L1384.7 249.6L1384.9 249.7L1385.0 249.8L1385.2 249.9L1385.3 249.9L1385.3 250.0L1385.4 250.0L1385.6 250.0L1385.7 250.1L1385.8 250.1L1385.9 250.1L1386.0 250.1L1386.1 250.1L1386.3 250.1L1386.3 250.1L1386.4 250.1L1386.6 250.1L1386.7 250.1L1386.8 250.1L1386.9 250.1L1387.0 250.1L1387.1 250.1L1387.3 250.1L1387.4 250.1L1387.4 250.1L1387.6 250.1L1387.7 250.1L1387.9 250.1L1387.9 250.1L1388.0 250.1L1388.1 250.1L1388.3 250.1L1388.4 250.1L1388.4 250.1L1388.6 250.1L1388.7 250.1L1389.0 250.1L1389.5 250.1L1390.0 250.1L1390.5 250.1L1391.1 250.1L1391.6 250.1L1392.1 250.1M1423.7 249.8L1423.8 249.7L1424.0 249.6L1424.1 249.5L1424.2 249.5L1424.3 249.4L1424.4 249.3L1424.5 249.2L1424.7 249.1L1424.7 249.1L1424.8 249.1L1425.0 249.0L1425.1 249.0L1425.3 248.9L1425.4 249.0L1425.5 249.0L1425.7 249.1L1425.8 249.1L1425.8 249.1L1426.0 249.2L1426.1 249.3L1426.2 249.4L1426.3 249.5L1426.4 249.5L1426.5 249.6L1426.7 249.7L1426.8 249.8" fill="none" stroke="#3a3ab0" stroke-width="1" stroke-linejoin="round"/>
<path d="M1025.4 250.5H1446.3" stroke="#3a3a3a" stroke-width="1.3" opacity="0.5"/>
<g font-family='"Liberation Serif", serif' font-weight="bold" font-size="10.2" fill="#111" stroke="#111" stroke-width="0.22"><text x="1194.7" y="114.22" text-anchor="middle">154.22</text><text x="1235.3" y="80.82" text-anchor="middle">193.25</text></g>
<text x="1411.8" y="30.42" text-anchor="middle" font-family='"Liberation Serif", serif' font-weight="bold" font-size="14" fill="#111" stroke="#111" stroke-width="0.22">C</text>
<text transform="translate(977.2,92.5) rotate(90)" text-anchor="middle" font-family='"Liberation Serif", serif' font-weight="bold" font-size="9.7" fill="#111" stroke="#111" stroke-width="0.42">Dye Signal</text>
<text x="1231.5" y="281.77" text-anchor="middle" font-family='"Liberation Serif", serif' font-weight="bold" font-size="9.7" fill="#111" stroke="#111" stroke-width="0.22">Size (nt)</text>
<polyline points="1234.8,282.9 1236.0,284.1 1237.2,282.9 1238.4,284.1 1239.6,282.9 1240.8,284.1 1242.0,282.9 1243.2,284.1 1244.4,282.9" fill="none" stroke="#e05a5a" stroke-width="0.8" opacity="0.6"/></g>
<g id="pD"><rect x="1515.8" y="10" width="381.6" height="251.1" fill="none" stroke="#3a3a3a" stroke-width="1.3"/>
<path d="M1519.67 258.1V261.1M1529.21 258.1V261.1M1538.74 258.1V261.1M1548.27 258.1V261.1M1557.8 257.1V266.1M1567.33 258.1V261.1M1576.86 258.1V261.1M1586.39 258.1V261.1M1595.93 258.1V261.1M1605.46 257.1V266.1M1614.99 258.1V261.1M1624.52 258.1V261.1M1634.05 258.1V261.1M1643.58 258.1V261.1M1653.11 257.1V266.1M1662.65 258.1V261.1M1672.18 258.1V261.1M1681.71 258.1V261.1M1691.24 258.1V261.1M1700.77 257.1V266.1M1710.3 258.1V261.1M1719.83 258.1V261.1M1729.37 258.1V261.1M1738.9 258.1V261.1M1748.43 257.1V266.1M1757.96 258.1V261.1M1767.49 258.1V261.1M1777.02 258.1V261.1M1786.55 258.1V261.1M1796.09 257.1V266.1M1805.62 258.1V261.1M1815.15 258.1V261.1M1824.68 258.1V261.1M1834.21 258.1V261.1M1843.74 257.1V266.1M1853.27 258.1V261.1M1862.81 258.1V261.1M1872.34 258.1V261.1M1881.87 258.1V261.1M1891.4 257.1V266.1M1512.8 261.1H1519.3M1515.8 254.82H1519.3M1515.8 248.55H1519.3M1515.8 242.27H1519.3M1515.8 235.99H1519.3M1512.8 229.71H1519.3M1515.8 223.44H1519.3M1515.8 217.16H1519.3M1515.8 210.88H1519.3M1515.8 204.6H1519.3M1512.8 198.33H1519.3M1515.8 192.05H1519.3M1515.8 185.77H1519.3M1515.8 179.49H1519.3M1515.8 173.22H1519.3M1512.8 166.94H1519.3M1515.8 160.66H1519.3M1515.8 154.38H1519.3M1515.8 148.11H1519.3M1515.8 141.83H1519.3M1512.8 135.55H1519.3M1515.8 129.27H1519.3M1515.8 123H1519.3M1515.8 116.72H1519.3M1515.8 110.44H1519.3M1512.8 104.16H1519.3M1515.8 97.89H1519.3M1515.8 91.61H1519.3M1515.8 85.33H1519.3M1515.8 79.05H1519.3M1512.8 72.78H1519.3M1515.8 66.5H1519.3M1515.8 60.22H1519.3M1515.8 53.94H1519.3M1515.8 47.66H1519.3M1512.8 41.39H1519.3M1515.8 35.11H1519.3M1515.8 28.83H1519.3M1515.8 22.56H1519.3M1515.8 16.28H1519.3M1512.8 10H1519.3" stroke="#262626" stroke-width="1.2" fill="none"/>
<g font-family='"Liberation Serif", serif' font-weight="bold" font-size="9.1" fill="#111" stroke="#111" stroke-width="0.22"><text x="1557.8" y="276.15" text-anchor="middle">50</text><text x="1605.46" y="276.15" text-anchor="middle">100</text><text x="1653.11" y="276.15" text-anchor="middle">150</text><text x="1700.77" y="276.15" text-anchor="middle">200</text><text x="1748.43" y="276.15" text-anchor="middle">250</text><text x="1796.09" y="276.15" text-anchor="middle">300</text><text x="1843.74" y="276.15" text-anchor="middle">350</text><text x="1891.4" y="276.15" text-anchor="middle">400</text><text x="1508" y="265.35" text-anchor="end" font-size="9.1">0</text><text x="1512" y="234.46" text-anchor="end" font-size="9.1">25000</text><text x="1512" y="203.07" text-anchor="end" font-size="9.1">50000</text><text x="1512" y="171.69" text-anchor="end" font-size="9.1">75000</text><text x="1512" y="140.3" text-anchor="end" font-size="9.1">100000</text><text x="1512" y="108.91" text-anchor="end" font-size="9.1">125000</text><text x="1512" y="77.52" text-anchor="end" font-size="9.1">150000</text><text x="1512" y="46.14" text-anchor="end" font-size="9.1">175000</text><text x="1512" y="14.75" text-anchor="end" font-size="9.1">200000</text></g>
<path d="M1630.2 260.7L1630.2 260.7L1630.3 260.7L1630.3 260.7L1630.4 260.7L1630.5 260.7L1630.6 260.7L1630.7 260.6L1630.7 260.6L1630.8 260.6L1630.9 260.6L1630.9 260.5L1631.0 260.4L1631.1 260.3L1631.2 260.2L1631.2 260.2L1631.3 260.1L1631.4 260.0L1631.5 259.8L1631.5 259.6L1631.6 259.5L1631.7 259.4L1631.7 259.3L1631.8 259.2L1631.9 259.0L1632.0 258.9L1632.1 258.9L1632.1 258.9L1632.2 258.9L1632.3 258.9L1632.4 259.0L1632.5 259.2L1632.6 259.3L1632.6 259.4L1632.7 259.5L1632.7 259.6L1632.8 259.8L1632.9 260.0L1633.0 260.1L1633.1 260.2L1633.1 260.2L1633.2 260.3L1633.3 260.4L1633.3 260.5L1633.4 260.6L1633.5 260.6L1633.6 260.6L1633.6 260.6L1633.7 260.6L1633.8 260.7L1633.9 260.7L1633.9 260.7L1634.0 260.7L1634.1 260.7L1634.1 260.7L1634.2 260.6L1634.3 260.6L1634.4 260.6L1634.5 260.6L1634.5 260.6L1634.5 260.6L1634.6 260.5L1634.7 260.5L1634.8 260.4L1634.9 260.4L1634.9 260.4L1635.0 260.3L1635.0 260.3L1635.0 260.3L1635.1 260.2L1635.1 260.2L1635.1 260.2L1635.1 260.2L1635.2 260.1L1635.2 260.1L1635.3 260.0L1635.3 260.0L1635.4 259.9L1635.4 259.8L1635.4 259.8L1635.5 259.7L1635.5 259.7L1635.5 259.7L1635.6 259.6L1635.7 259.4L1635.7 259.3L1635.8 259.1L1635.9 258.9L1635.9 258.6L1636.0 258.6L1636.0 258.3L1636.1 257.9L1636.2 257.4L1636.2 256.7L1636.3 255.7L1636.4 254.3L1636.4 253.0L1636.5 252.4L1636.5 249.7L1636.6 246.1L1636.7 241.4L1636.7 235.2L1636.8 227.4L1636.9 217.9L1636.9 215.3L1637.0 206.3L1637.0 193.0L1637.1 177.7L1637.2 161.3L1637.3 144.0L1637.3 126.2L1637.4 112.9L1637.4 108.9L1637.5 93.4L1637.6 80.0L1637.6 69.9L1637.7 63.6L1637.8 61.4L1637.8 63.6L1637.9 65.1L1637.9 69.9L1638.0 80.2L1638.1 93.4L1638.1 108.9L1638.2 126.2L1638.3 143.9L1638.3 158.6L1638.4 161.3L1638.4 177.9L1638.5 193.0L1638.6 205.3L1638.6 206.4L1638.6 217.9L1638.7 224.6L1638.7 227.4L1638.8 235.2L1638.8 237.7L1638.8 238.1L1638.9 241.4L1638.9 246.1L1639.0 247.0L1639.0 249.7L1639.1 252.3L1639.1 252.4L1639.2 254.3L1639.2 255.4L1639.2 255.7L1639.3 256.6L1639.3 256.7L1639.3 257.1L1639.4 257.4L1639.4 257.9L1639.5 258.1L1639.5 258.3L1639.6 258.6L1639.6 258.6L1639.7 258.9L1639.7 259.0L1639.7 259.1L1639.8 259.2L1639.8 259.3L1639.9 259.3L1639.9 259.4L1640.0 259.6L1640.0 259.6L1640.0 259.7L1640.1 259.8L1640.1 259.8L1640.2 259.9L1640.2 260.0L1640.2 260.0L1640.2 260.0L1640.3 260.1L1640.4 260.1L1640.4 260.2L1640.5 260.2L1640.5 260.3L1640.5 260.3L1640.6 260.3L1640.6 260.4L1640.7 260.4L1640.8 260.4L1640.9 260.5L1641.0 260.6L1641.1 260.6L1641.2 260.6L1641.3 260.6L1641.4 260.6L1641.5 260.6L1641.7 260.6L1641.7 260.6L1641.8 260.6L1641.9 260.6L1642.0 260.5L1642.2 260.5L1642.2 260.5L1642.3 260.4L1642.4 260.3L1642.6 260.2L1642.6 260.2L1642.7 260.2L1642.8 260.1L1642.9 260.0L1643.1 259.9L1643.1 259.9L1643.2 259.8L1643.3 259.8L1643.5 259.8L1643.6 259.7L1643.7 259.8L1643.8 259.8L1644.0 259.8L1644.1 259.9L1644.1 259.9L1644.2 260.0L1644.4 260.1L1644.5 260.2L1644.5 260.2L1644.6 260.2L1644.7 260.3L1644.9 260.4L1645.0 260.5L1645.0 260.5L1645.1 260.5L1645.3 260.6L1645.4 260.6L1645.5 260.6L1645.5 260.7L1645.6 260.7L1645.8 260.7L1645.9 260.7L1646.0 260.7L1646.0 260.7L1646.2 260.7L1646.3 260.7L1646.4 260.7L1646.4 260.7L1646.5 260.7L1646.7 260.7L1646.8 260.7L1646.9 260.7L1646.9 260.7L1647.1 260.7L1647.2 260.7L1647.3 260.7L1647.4 260.7L1647.4 260.7L1647.6 260.7L1647.7 260.7L1647.8 260.7L1647.9 260.7L1648.0 260.7L1648.1 260.7L1648.2 260.7L1648.3 260.7L1648.3 260.7L1648.5 260.7L1648.6 260.7L1648.8 260.7L1649.3 260.7L1649.8 260.7L1650.3 260.7L1650.7 260.7L1651.2 260.7L1651.7 260.7L1652.2 260.7L1652.6 260.7L1653.1 260.7L1653.6 260.7L1654.1 260.7L1654.5 260.7L1655.0 260.7L1655.5 260.7L1656.0 260.7L1656.5 260.7L1656.9 260.7L1657.4 260.7L1657.9 260.7L1658.4 260.8L1658.8 260.8L1659.3 260.8L1659.8 260.8L1660.3 260.8L1660.7 260.8L1661.2 260.8L1661.7 260.8L1662.2 260.8L1662.6 260.7L1663.1 260.7L1663.6 260.7L1664.1 260.7L1664.6 260.7L1665.0 260.7L1665.5 260.7L1666.0 260.7L1666.5 260.7L1666.9 260.7L1667.4 260.7L1667.9 260.7L1668.4 260.7L1668.8 260.7L1669.3 260.7L1669.8 260.7L1670.1 260.7L1670.2 260.7L1670.3 260.7L1670.3 260.7L1670.4 260.7L1670.5 260.7L1670.6 260.7L1670.7 260.7L1670.7 260.7L1670.8 260.7L1670.9 260.7L1671.0 260.7L1671.1 260.7L1671.2 260.7L1671.2 260.7L1671.3 260.7L1671.4 260.7L1671.5 260.7L1671.6 260.7L1671.7 260.7L1671.7 260.7L1671.8 260.7L1671.9 260.7L1672.0 260.7L1672.1 260.7L1672.2 260.7L1672.2 260.7L1672.3 260.7L1672.4 260.7L1672.5 260.7L1672.6 260.6L1672.7 260.6L1672.7 260.6L1672.8 260.5L1673.0 260.5L1673.1 260.4L1673.1 260.4L1673.2 260.3L1673.3 260.2L1673.4 260.2L1673.5 260.1L1673.6 260.0L1673.6 260.0L1673.7 259.9L1673.8 259.8L1673.9 259.8L1674.0 259.8L1674.1 259.7L1674.2 259.8L1674.3 259.8L1674.4 259.8L1674.5 259.9L1674.6 260.0L1674.6 260.0L1674.7 260.1L1674.8 260.2L1674.9 260.2L1675.0 260.3L1675.0 260.4L1675.1 260.4L1675.2 260.5L1675.3 260.5L1675.4 260.6L1675.5 260.6L1675.5 260.6L1675.6 260.7L1675.7 260.7L1675.8 260.7L1675.9 260.7L1676.0 260.7L1676.0 260.7L1676.1 260.7L1676.2 260.7L1676.3 260.7L1676.5 260.7L1676.5 260.7L1676.6 260.7L1676.7 260.7L1676.8 260.7L1676.9 260.7L1676.9 260.7L1677.0 260.7L1677.1 260.7L1677.2 260.7L1677.3 260.7L1677.4 260.7L1677.4 260.7L1677.5 260.7L1677.6 260.7L1677.7 260.7L1677.8 260.7L1677.9 260.7L1677.9 260.7L1678.0 260.7L1678.1 260.7L1678.4 260.7L1678.8 260.7L1679.3 260.7L1679.8 260.7L1680.3 260.7L1680.8 260.7L1681.2 260.7L1681.7 260.7L1682.2 260.7L1682.7 260.7L1683.1 260.7L1683.6 260.7L1684.1 260.7L1684.6 260.7L1685.0 260.7L1685.5 260.7L1686.0 260.7L1686.5 260.7L1687.0 260.7L1687.4 260.7L1687.9 260.7L1688.4 260.7L1688.9 260.7L1689.3 260.7L1689.8 260.7L1690.3 260.7L1690.8 260.7L1691.2 260.7L1691.7 260.6L1692.0 260.6L1692.1 260.5L1692.2 260.5L1692.2 260.5L1692.2 260.5L1692.3 260.4L1692.4 260.4L1692.5 260.3L1692.5 260.3L1692.6 260.2L1692.7 260.2L1692.7 260.2L1692.7 260.1L1692.8 260.0L1692.9 259.9L1693.0 259.8L1693.0 259.7L1693.1 259.5L1693.1 259.5L1693.2 259.3L1693.3 259.1L1693.3 258.7L1693.4 258.2L1693.5 257.5L1693.5 256.6L1693.6 255.2L1693.7 253.4L1693.8 251.1L1693.8 248.0L1693.9 244.1L1694.0 239.3L1694.1 233.6L1694.1 230.1L1694.1 226.9L1694.2 219.3L1694.3 211.1L1694.4 202.4L1694.4 193.5L1694.5 184.9L1694.6 177.2L1694.6 176.6L1694.6 170.5L1694.7 165.5L1694.8 162.3L1694.9 161.2L1694.9 162.3L1695.0 165.5L1695.1 168.4L1695.1 170.6L1695.2 177.2L1695.2 185.1L1695.3 193.5L1695.4 202.4L1695.4 211.1L1695.5 219.4L1695.5 220.5L1695.6 226.9L1695.7 233.6L1695.7 239.3L1695.8 244.1L1695.9 248.0L1696.0 251.1L1696.0 252.8L1696.0 253.4L1696.1 255.2L1696.2 256.6L1696.2 257.5L1696.3 258.2L1696.4 258.7L1696.5 259.1L1696.5 259.1L1696.5 259.3L1696.6 259.5L1696.7 259.7L1696.8 259.8L1696.8 259.9L1696.9 260.0L1697.0 260.1L1697.0 260.1L1697.0 260.2L1697.1 260.2L1697.2 260.3L1697.3 260.3L1697.3 260.4L1697.4 260.4L1697.4 260.4L1697.5 260.5L1697.6 260.5L1697.6 260.5L1697.7 260.6L1697.9 260.6L1698.4 260.7L1698.9 260.7L1699.3 260.7L1699.8 260.7L1700.3 260.7L1700.8 260.7L1701.2 260.7L1701.7 260.7L1702.2 260.7L1702.7 260.7L1703.2 260.7L1703.6 260.7L1704.1 260.8L1704.6 260.8L1705.1 260.8L1705.5 260.8L1706.0 260.8L1706.5 260.8L1707.0 260.8L1707.4 260.8L1707.9 260.8L1708.4 260.8L1708.9 260.8L1709.3 260.8L1709.8 260.8L1710.3 260.8L1710.8 260.8L1711.3 260.8L1711.7 260.8L1712.2 260.8L1712.7 260.8L1713.2 260.8L1713.6 260.8L1714.1 260.8L1714.6 260.8L1715.1 260.8L1715.5 260.8L1716.0 260.8L1716.5 260.8L1717.0 260.8L1717.5 260.8L1717.9 260.8L1718.4 260.8L1718.9 260.8L1719.4 260.8L1719.8 260.8L1720.3 260.8L1720.8 260.8L1721.3 260.8L1721.7 260.8L1722.2 260.8L1722.7 260.8L1723.2 260.8L1723.6 260.8L1724.1 260.8L1724.6 260.8L1725.1 260.8L1725.6 260.8L1726.0 260.8L1726.5 260.8L1727.0 260.8L1727.5 260.8L1727.9 260.8L1728.4 260.8L1728.9 260.8L1729.4 260.8L1729.8 260.8L1730.3 260.8L1730.8 260.8L1731.3 260.8L1731.7 260.8L1732.2 260.8L1732.7 260.8L1733.2 260.8L1733.7 260.8L1734.1 260.8L1734.6 260.8L1735.1 260.8L1735.6 260.8L1736.0 260.8L1736.5 260.8L1737.0 260.8L1737.5 260.8L1737.9 260.8L1738.4 260.8L1738.9 260.8L1739.4 260.8L1739.9 260.8L1740.3 260.8L1740.8 260.8L1741.3 260.8L1741.8 260.8L1742.2 260.8L1742.7 260.8L1743.2 260.8L1743.7 260.8L1744.1 260.8L1744.6 260.8L1745.1 260.8L1745.6 260.8L1746.0 260.8L1746.5 260.8L1747.0 260.8L1747.5 260.8L1748.0 260.8L1748.4 260.8L1748.9 260.8L1749.4 260.8L1749.9 260.8L1750.3 260.8L1750.8 260.8L1751.3 260.8L1751.8 260.8L1752.2 260.8L1752.7 260.8L1753.2 260.8L1753.7 260.8L1754.1 260.8L1754.6 260.8L1755.1 260.8L1755.6 260.8L1756.1 260.8L1756.5 260.8L1757.0 260.8L1757.5 260.8L1758.0 260.8L1758.4 260.8L1758.9 260.8L1759.4 260.8L1759.9 260.8L1760.3 260.8L1760.8 260.8L1761.3 260.8L1761.8 260.8L1762.2 260.8L1762.7 260.8L1763.2 260.8L1763.7 260.8L1764.2 260.8L1764.6 260.8L1765.1 260.8L1765.6 260.8L1766.1 260.8L1766.5 260.8L1767.0 260.8L1767.5 260.8L1768.0 260.8L1768.4 260.8L1768.9 260.8L1769.4 260.8L1769.9 260.8L1770.4 260.8L1770.8 260.8L1771.3 260.8L1771.8 260.8L1772.3 260.8L1772.7 260.8L1773.2 260.8L1773.7 260.8L1774.2 260.8L1774.6 260.8L1775.1 260.8L1775.6 260.8L1776.1 260.8L1776.5 260.8L1777.0 260.8L1777.5 260.8L1778.0 260.8L1778.5 260.8L1778.9 260.8L1779.4 260.8L1779.9 260.8L1780.4 260.8L1780.8 260.8L1781.3 260.8L1781.8 260.8L1782.3 260.8L1782.7 260.8L1783.2 260.8L1783.7 260.8L1784.2 260.8L1784.6 260.8L1785.1 260.8L1785.6 260.8L1786.1 260.8L1786.6 260.8L1787.0 260.8L1787.5 260.8L1788.0 260.8L1788.5 260.8L1788.9 260.8L1789.4 260.8L1789.9 260.8L1790.4 260.8L1790.8 260.8L1791.3 260.8L1791.8 260.8L1792.3 260.8L1792.7 260.8L1793.2 260.8L1793.7 260.8L1794.2 260.8L1794.7 260.8L1795.1 260.8L1795.6 260.8L1796.1 260.8L1796.6 260.8L1797.0 260.8L1797.5 260.8L1798.0 260.8L1798.5 260.8L1798.9 260.8L1799.4 260.8L1799.9 260.8L1800.4 260.8L1800.9 260.8L1801.3 260.8L1801.8 260.8L1802.3 260.8L1802.8 260.8L1803.2 260.8L1803.7 260.8L1804.2 260.8L1804.7 260.8L1805.1 260.8L1805.6 260.8L1806.1 260.8L1806.6 260.8L1807.0 260.8L1807.5 260.8L1808.0 260.8L1808.5 260.8L1809.0 260.8L1809.4 260.8L1809.9 260.8L1810.4 260.8L1810.9 260.8L1811.3 260.8L1811.8 260.8L1812.3 260.8L1812.8 260.8L1813.2 260.8L1813.7 260.8L1814.2 260.8L1814.7 260.8L1815.1 260.8L1815.6 260.8L1816.1 260.8L1816.6 260.8L1817.1 260.8L1817.5 260.8L1818.0 260.8L1818.5 260.8L1819.0 260.8L1819.4 260.8L1819.9 260.8L1820.4 260.8L1820.9 260.8L1821.3 260.8L1821.8 260.8L1822.3 260.8L1822.8 260.8L1823.3 260.8L1823.7 260.8L1824.2 260.8L1824.7 260.8L1825.2 260.8L1825.6 260.8L1826.1 260.8L1826.6 260.8L1827.1 260.8L1827.5 260.8L1828.0 260.8L1828.5 260.8L1829.0 260.8L1829.4 260.8L1829.9 260.8L1830.4 260.8L1830.9 260.8L1831.4 260.8L1831.8 260.8L1832.3 260.8L1832.8 260.8L1833.3 260.8L1833.7 260.8L1834.2 260.8L1834.7 260.8L1835.2 260.8L1835.6 260.8L1836.1 260.8L1836.6 260.8L1837.1 260.8L1837.5 260.8L1838.0 260.8L1838.5 260.8L1839.0 260.8L1839.5 260.8L1839.9 260.8L1840.4 260.8L1840.9 260.8L1841.4 260.8L1841.8 260.8L1842.3 260.8L1842.8 260.8L1843.3 260.8L1843.7 260.8L1844.2 260.8L1844.7 260.8L1845.2 260.8L1845.6 260.8L1846.1 260.8L1846.6 260.8L1847.1 260.8L1847.6 260.8L1848.0 260.8L1848.5 260.8L1849.0 260.8L1849.5 260.8L1849.9 260.8L1850.4 260.8L1850.9 260.8L1851.4 260.8L1851.8 260.8L1852.3 260.8L1852.8 260.8L1853.3 260.8L1853.8 260.8L1854.2 260.8L1854.7 260.8L1855.2 260.8L1855.7 260.8L1856.1 260.8L1856.6 260.8L1857.1 260.8L1857.6 260.8L1858.0 260.8L1858.5 260.8L1859.0 260.8L1859.5 260.8L1859.9 260.8L1860.4 260.8L1860.9 260.8L1861.4 260.8L1861.9 260.8L1862.3 260.8L1862.8 260.8L1863.3 260.8L1863.8 260.8L1864.2 260.8L1864.7 260.8L1865.2 260.8L1865.7 260.8L1866.1 260.8L1866.6 260.8L1867.1 260.8L1867.6 260.8L1868.0 260.8L1868.5 260.8L1869.0 260.8L1869.5 260.8L1870.0 260.8L1870.4 260.8L1870.9 260.8L1871.4 260.8L1871.9 260.8L1872.3 260.8L1872.8 260.8L1873.3 260.8L1873.8 260.8L1874.2 260.8L1874.7 260.8L1875.2 260.8L1875.7 260.8L1876.1 260.8L1876.6 260.8L1877.1 260.8L1877.6 260.8L1878.1 260.8L1878.5 260.8L1879.0 260.8L1879.5 260.8L1880.0 260.8L1880.4 260.8L1880.9 260.8L1881.4 260.8L1881.9 260.8L1882.3 260.8L1882.8 260.8L1883.3 260.8L1883.8 260.8L1884.3 260.8L1884.7 260.8L1885.2 260.8L1885.7 260.8L1886.2 260.8L1886.6 260.8L1887.1 260.8L1887.6 260.8L1888.1 260.8L1888.5 260.8L1889.0 260.8L1889.5 260.8L1890.0 260.8L1890.4 260.8L1890.9 260.8L1891.4 260.8L1891.9 260.8" fill="none" stroke="#3a3ab0" stroke-width="1" stroke-linejoin="round"/>
<path d="M1515.8 261.1H1897.4" stroke="#3a3a3a" stroke-width="1.3" opacity="0.5"/>
<g font-family='"Liberation Serif", serif' font-weight="bold" font-size="9.2" fill="#111" stroke="#111" stroke-width="0.22"><text x="1643.5" y="56.78" text-anchor="middle">133.44</text><text x="1698.1" y="155.98" text-anchor="middle">193.16</text></g>
<text x="1870.4" y="29.92" text-anchor="middle" font-family='"Liberation Serif", serif' font-weight="bold" font-size="14" fill="#111" stroke="#111" stroke-width="0.22">D</text>
<text transform="translate(1471.1,94.1) rotate(90)" text-anchor="middle" font-family='"Liberation Serif", serif' font-weight="bold" font-size="10.0" fill="#111" stroke="#111" stroke-width="0.42">Dye Signal</text>
<text x="1703.4" y="295.67" text-anchor="middle" font-family='"Liberation Serif", serif' font-weight="bold" font-size="8.9" fill="#111" stroke="#111" stroke-width="0.22">Size (nt)</text>
<polyline points="1706.5,296.8 1707.7,298.0 1708.9,296.8 1710.1,298.0 1711.3,296.8 1712.5,298.0 1713.7,296.8 1714.9,298.0 1716.1,296.8" fill="none" stroke="#e05a5a" stroke-width="0.8" opacity="0.6"/></g>
<g id="pE"><rect x="61.6" y="331.7" width="388.3" height="248.3" fill="none" stroke="#3a3a3a" stroke-width="1.3"/>
<path d="M61.61 577V580M71.31 577V580M81 577V580M90.7 576V585M100.4 577V580M110.09 577V580M119.79 577V580M129.49 577V580M139.19 576V585M148.88 577V580M158.58 577V580M168.28 577V580M177.97 577V580M187.67 576V585M197.37 577V580M207.07 577V580M216.76 577V580M226.46 577V580M236.16 576V585M245.85 577V580M255.55 577V580M265.25 577V580M274.95 577V580M284.64 576V585M294.34 577V580M304.04 577V580M313.73 577V580M323.43 577V580M333.13 576V585M342.83 577V580M352.52 577V580M362.22 577V580M371.92 577V580M381.61 576V585M391.31 577V580M401.01 577V580M410.71 577V580M420.4 577V580M430.1 576V585M439.8 577V580M449.49 577V580M58.6 580H65.1M61.6 573.79H65.1M61.6 567.59H65.1M61.6 561.38H65.1M61.6 555.17H65.1M58.6 548.96H65.1M61.6 542.75H65.1M61.6 536.55H65.1M61.6 530.34H65.1M61.6 524.13H65.1M58.6 517.92H65.1M61.6 511.72H65.1M61.6 505.51H65.1M61.6 499.3H65.1M61.6 493.1H65.1M58.6 486.89H65.1M61.6 480.68H65.1M61.6 474.47H65.1M61.6 468.26H65.1M61.6 462.06H65.1M58.6 455.85H65.1M61.6 449.64H65.1M61.6 443.44H65.1M61.6 437.23H65.1M61.6 431.02H65.1M58.6 424.81H65.1M61.6 418.61H65.1M61.6 412.4H65.1M61.6 406.19H65.1M61.6 399.98H65.1M58.6 393.77H65.1M61.6 387.57H65.1M61.6 381.36H65.1M61.6 375.15H65.1M61.6 368.94H65.1M58.6 362.74H65.1M61.6 356.53H65.1M61.6 350.32H65.1M61.6 344.12H65.1M61.6 337.91H65.1M58.6 331.7H65.1" stroke="#262626" stroke-width="1.2" fill="none"/>
<g font-family='"Liberation Serif", serif' font-weight="bold" font-size="9.1" fill="#111" stroke="#111" stroke-width="0.22"><text x="90.7" y="594.75" text-anchor="middle">50</text><text x="139.19" y="594.75" text-anchor="middle">100</text><text x="187.67" y="594.75" text-anchor="middle">150</text><text x="236.16" y="594.75" text-anchor="middle">200</text><text x="284.64" y="594.75" text-anchor="middle">250</text><text x="333.13" y="594.75" text-anchor="middle">300</text><text x="381.61" y="594.75" text-anchor="middle">350</text><text x="430.1" y="594.75" text-anchor="middle">400</text><text x="53.3" y="584.25" text-anchor="end" font-size="9.1">0</text><text x="57.3" y="553.51" text-anchor="end" font-size="9.1">25000</text><text x="57.3" y="522.47" text-anchor="end" font-size="9.1">50000</text><text x="57.3" y="491.44" text-anchor="end" font-size="9.1">75000</text><text x="57.3" y="460.4" text-anchor="end" font-size="9.1">100000</text><text x="57.3" y="429.36" text-anchor="end" font-size="9.1">125000</text><text x="57.3" y="398.32" text-anchor="end" font-size="9.1">150000</text><text x="57.3" y="367.29" text-anchor="end" font-size="9.1">175000</text><text x="57.3" y="336.25" text-anchor="end" font-size="9.1">200000</text></g>
<path d="M163.3 579.6L163.4 579.6L163.5 579.6L163.6 579.6L163.7 579.6L163.9 579.6L163.9 579.6L164.0 579.6L164.1 579.6L164.2 579.6L164.4 579.6L164.4 579.5L164.5 579.5L164.6 579.5L164.8 579.4L164.9 579.4L164.9 579.4L165.0 579.3L165.2 579.2L165.3 579.2L165.4 579.1L165.4 579.1L165.6 579.0L165.7 578.9L165.8 578.8L165.9 578.8L165.9 578.8L166.1 578.7L166.2 578.7L166.3 578.7L166.5 578.7L166.6 578.7L166.7 578.8L166.8 578.8L166.9 578.8L167.0 578.9L167.1 579.0L167.3 579.1L167.3 579.1L167.4 579.2L167.5 579.2L167.6 579.3L167.8 579.4L167.8 579.4L167.9 579.4L168.0 579.5L168.2 579.5L168.3 579.5L168.3 579.6L168.4 579.6L168.6 579.6L168.7 579.6L168.8 579.6L168.8 579.6L169.0 579.6L169.1 579.6L169.2 579.6L169.2 579.6L169.3 579.6L169.5 579.6L169.6 579.6L169.7 579.6L169.7 579.6L169.9 579.6L170.0 579.6L170.1 579.6L170.2 579.6L170.3 579.6L170.4 579.6L170.5 579.6L170.7 579.6L170.7 579.6L170.8 579.6L170.9 579.6L171.1 579.6L171.2 579.6L171.2 579.6L171.3 579.6L171.4 579.6L171.7 579.6L172.2 579.6L172.6 579.6L173.1 579.6L173.6 579.6L174.1 579.6L174.6 579.6L174.6 579.6L174.7 579.6L174.7 579.6L174.8 579.6L174.9 579.6L175.0 579.6L175.1 579.6L175.1 579.6L175.2 579.6L175.3 579.6L175.4 579.6L175.4 579.6L175.5 579.6L175.6 579.6L175.6 579.6L175.7 579.6L175.8 579.6L175.9 579.6L176.0 579.6L176.0 579.6L176.1 579.6L176.1 579.6L176.2 579.6L176.3 579.6L176.4 579.6L176.5 579.5L176.5 579.5L176.6 579.5L176.7 579.5L176.8 579.4L176.8 579.3L176.9 579.2L177.0 579.2L177.0 579.1L177.1 579.0L177.2 578.9L177.3 578.7L177.4 578.6L177.5 578.4L177.5 578.3L177.5 578.2L177.6 578.1L177.7 578.0L177.8 577.9L177.9 577.8L178.0 577.8L178.1 577.8L178.1 577.9L178.2 578.0L178.3 578.1L178.4 578.2L178.5 578.3L178.5 578.4L178.6 578.6L178.7 578.7L178.8 578.9L178.8 579.0L178.9 579.1L178.9 579.2L179.0 579.2L179.1 579.3L179.2 579.4L179.3 579.5L179.4 579.5L179.4 579.5L179.5 579.5L179.5 579.6L179.6 579.6L179.7 579.6L179.8 579.6L179.9 579.6L179.9 579.6L180.0 579.6L180.1 579.6L180.2 579.6L180.2 579.6L180.3 579.6L180.4 579.6L180.4 579.6L180.5 579.6L180.6 579.6L180.7 579.6L180.8 579.6L180.9 579.6L180.9 579.6L180.9 579.6L181.0 579.6L181.1 579.6L181.2 579.6L181.3 579.6L181.4 579.6L181.4 579.6L181.9 579.6L182.3 579.6L182.4 579.6L182.4 579.6L182.5 579.6L182.6 579.6L182.6 579.6L182.7 579.6L182.7 579.6L182.8 579.6L182.8 579.6L182.9 579.6L182.9 579.6L183.0 579.6L183.1 579.6L183.1 579.6L183.2 579.6L183.2 579.6L183.3 579.6L183.3 579.6L183.4 579.6L183.4 579.6L183.5 579.6L183.5 579.6L183.6 579.5L183.7 579.5L183.7 579.5L183.8 579.4L183.8 579.4L183.8 579.3L183.9 579.3L184.0 579.1L184.0 579.0L184.1 578.8L184.2 578.6L184.2 578.4L184.3 578.1L184.3 578.1L184.3 577.8L184.4 577.6L184.5 577.3L184.5 577.0L184.6 576.8L184.6 576.7L184.7 576.6L184.8 576.5L184.8 576.6L184.9 576.7L184.9 576.8L185.0 577.0L185.1 577.3L185.1 577.6L185.2 577.8L185.2 578.1L185.3 578.1L185.3 578.4L185.4 578.6L185.4 578.8L185.5 579.0L185.6 579.1L185.6 579.3L185.7 579.3L185.7 579.4L185.7 579.4L185.8 579.5L185.9 579.5L185.9 579.5L186.0 579.6L186.0 579.6L186.1 579.6L186.2 579.6L186.2 579.6L186.2 579.6L186.2 579.6L186.3 579.6L186.3 579.6L186.4 579.6L186.4 579.6L186.4 579.6L186.5 579.6L186.5 579.6L186.5 579.6L186.6 579.6L186.6 579.6L186.6 579.6L186.7 579.6L186.7 579.6L186.7 579.6L186.7 579.6L186.8 579.6L186.8 579.6L186.8 579.6L186.9 579.6L186.9 579.6L187.0 579.6L187.0 579.6L187.0 579.6L187.1 579.6L187.1 579.6L187.1 579.6L187.2 579.6L187.2 579.6L187.3 579.6L187.3 579.6L187.4 579.6L187.5 579.6L187.6 579.6L187.7 579.6L187.7 579.6L187.8 579.6L187.9 579.6L188.0 579.6L188.0 579.6L188.1 579.6L188.2 579.6L188.2 579.5L188.3 579.5L188.4 579.5L188.5 579.4L188.6 579.3L188.6 579.3L188.7 579.2L188.7 579.1L188.8 579.0L188.9 578.9L189.0 578.8L189.1 578.6L189.1 578.6L189.2 578.5L189.3 578.4L189.3 578.3L189.4 578.2L189.5 578.2L189.6 578.2L189.7 578.2L189.8 578.2L189.9 578.3L190.0 578.4L190.0 578.5L190.1 578.6L190.1 578.6L190.2 578.8L190.3 578.9L190.4 579.0L190.5 579.1L190.6 579.2L190.6 579.3L190.7 579.3L190.7 579.4L190.8 579.5L190.9 579.5L191.0 579.5L191.1 579.6L191.1 579.6L191.2 579.6L191.3 579.6L191.4 579.6L191.4 579.6L191.5 579.6L191.6 579.6L191.6 579.6L191.7 579.6L191.8 579.6L191.9 579.6L192.0 579.6L192.0 579.6L192.1 579.6L192.1 579.6L192.2 579.6L192.3 579.6L192.4 579.6L192.5 579.6L192.5 579.6L192.6 579.6L192.7 579.6L192.8 579.6L192.8 579.6L192.9 579.6L193.0 579.6L193.0 579.6L193.5 579.6L194.0 579.6L194.5 579.6L194.9 579.6L195.4 579.6L195.9 579.6L196.4 579.6L196.9 579.6L197.4 579.6L197.9 579.6L198.3 579.6L198.8 579.6L199.3 579.6L199.8 579.6L200.3 579.6L200.8 579.6L201.2 579.6L201.7 579.6L202.2 579.6L202.7 579.6L203.2 579.6L203.7 579.6L204.2 579.6L204.6 579.6L205.1 579.6L205.6 579.6L205.6 579.6L205.7 579.6L205.8 579.6L205.9 579.6L206.0 579.6L206.0 579.6L206.1 579.6L206.1 579.6L206.2 579.6L206.3 579.6L206.4 579.6L206.5 579.6L206.6 579.6L206.6 579.6L206.6 579.6L206.7 579.6L206.8 579.6L206.9 579.6L207.0 579.6L207.1 579.6L207.1 579.6L207.2 579.6L207.3 579.6L207.3 579.6L207.4 579.6L207.5 579.6L207.6 579.6L207.6 579.5L207.7 579.5L207.8 579.5L207.9 579.4L208.0 579.3L208.0 579.3L208.0 579.2L208.1 579.1L208.2 579.0L208.3 578.9L208.4 578.8L208.5 578.6L208.5 578.6L208.6 578.5L208.7 578.4L208.7 578.3L208.8 578.2L208.9 578.2L209.0 578.2L209.1 578.2L209.2 578.2L209.3 578.3L209.4 578.4L209.4 578.5L209.5 578.6L209.5 578.6L209.6 578.8L209.7 578.9L209.8 579.0L209.9 579.1L210.0 579.2L210.0 579.3L210.1 579.3L210.1 579.4L210.2 579.5L210.3 579.5L210.4 579.5L210.5 579.6L210.5 579.6L210.6 579.6L210.7 579.6L210.8 579.6L210.8 579.6L210.9 579.6L210.9 579.6L211.0 579.6L211.1 579.6L211.2 579.6L211.3 579.6L211.4 579.6L211.4 579.6L211.4 579.6L211.5 579.6L211.6 579.6L211.7 579.6L211.8 579.6L211.9 579.6L211.9 579.6L212.0 579.6L212.1 579.6L212.1 579.6L212.2 579.6L212.3 579.6L212.4 579.6L212.4 579.6L212.9 579.6L213.4 579.6L213.9 579.6L214.3 579.6L214.8 579.6L215.3 579.6L215.8 579.6L216.3 579.6L216.8 579.6L217.2 579.6L217.7 579.6L218.2 579.6L218.7 579.6L219.2 579.6L219.7 579.6L220.2 579.6L220.6 579.6L221.1 579.6L221.6 579.6L222.1 579.6L222.6 579.6L223.1 579.6L223.6 579.6L224.0 579.6L224.5 579.6L225.0 579.6L225.5 579.6L226.0 579.6L226.5 579.6L226.9 579.4L227.2 579.3L227.3 579.2L227.3 579.2L227.4 579.1L227.4 579.1L227.5 579.0L227.5 579.0L227.6 578.9L227.7 578.8L227.7 578.7L227.8 578.5L227.9 578.4L227.9 578.3L227.9 578.3L228.0 578.1L228.1 577.9L228.1 577.7L228.2 577.4L228.3 577.0L228.3 576.5L228.4 575.9L228.4 575.6L228.4 574.9L228.5 573.6L228.6 571.8L228.6 569.4L228.7 566.0L228.8 561.5L228.8 555.8L228.9 551.2L228.9 548.5L229.0 539.6L229.0 529.0L229.1 516.4L229.2 502.1L229.2 486.8L229.3 470.4L229.4 454.0L229.4 452.8L229.4 438.2L229.5 423.4L229.6 410.9L229.6 401.5L229.7 395.5L229.8 393.5L229.8 395.6L229.9 398.0L229.9 401.5L230.0 410.9L230.0 423.4L230.1 438.2L230.1 454.0L230.2 470.6L230.3 486.8L230.3 500.6L230.3 502.1L230.4 516.4L230.5 529.0L230.5 539.6L230.6 548.6L230.7 555.8L230.7 561.5L230.8 566.0L230.8 567.1L230.9 569.4L230.9 571.8L231.0 573.6L231.1 574.9L231.1 575.9L231.2 576.5L231.3 577.0L231.3 577.3L231.3 577.4L231.4 577.7L231.5 577.9L231.5 578.1L231.6 578.3L231.7 578.4L231.7 578.5L231.8 578.7L231.8 578.7L231.9 578.8L231.9 578.9L232.0 579.0L232.0 579.0L232.1 579.1L232.2 579.2L232.2 579.2L232.3 579.3L232.3 579.3L232.8 579.5L233.2 579.6L233.7 579.6L234.2 579.6L234.7 579.6L235.2 579.6L235.7 579.6L236.2 579.6L236.6 579.6L237.1 579.6L237.6 579.6L237.6 579.6L237.7 579.6L237.8 579.6L237.9 579.6L238.0 579.6L238.0 579.6L238.1 579.6L238.1 579.6L238.2 579.6L238.3 579.6L238.4 579.6L238.5 579.6L238.6 579.6L238.6 579.6L238.6 579.6L238.7 579.6L238.8 579.6L238.9 579.6L239.0 579.6L239.1 579.6L239.1 579.6L239.2 579.6L239.3 579.6L239.3 579.5L239.4 579.5L239.5 579.5L239.6 579.5L239.6 579.4L239.7 579.3L239.8 579.3L239.9 579.1L240.0 579.0L240.0 578.8L240.0 578.8L240.1 578.6L240.2 578.4L240.3 578.1L240.4 577.8L240.5 577.6L240.5 577.4L240.6 577.3L240.7 577.0L240.7 576.8L240.8 576.7L240.9 576.6L241.0 576.5L241.1 576.6L241.2 576.7L241.3 576.8L241.4 577.0L241.4 577.3L241.5 577.4L241.5 577.6L241.6 577.8L241.7 578.1L241.8 578.4L241.9 578.6L242.0 578.8L242.0 578.8L242.1 579.0L242.1 579.1L242.2 579.3L242.3 579.3L242.4 579.4L242.5 579.5L242.5 579.5L242.6 579.5L242.7 579.5L242.8 579.6L242.8 579.6L242.9 579.6L242.9 579.6L243.0 579.6L243.1 579.6L243.2 579.6L243.3 579.6L243.3 579.6L243.4 579.6L243.4 579.6L243.4 579.6L243.4 579.6L243.4 579.6L243.5 579.6L243.5 579.6L243.6 579.6L243.6 579.6L243.6 579.6L243.7 579.6L243.7 579.6L243.7 579.6L243.8 579.6L243.9 579.5L243.9 579.5L243.9 579.5L243.9 579.5L244.0 579.5L244.0 579.5L244.0 579.5L244.1 579.5L244.1 579.5L244.1 579.5L244.2 579.4L244.2 579.4L244.2 579.4L244.3 579.4L244.3 579.3L244.4 579.2L244.4 579.1L244.4 579.1L244.4 579.1L244.5 578.9L244.5 578.6L244.6 578.3L244.6 577.9L244.7 577.4L244.7 576.7L244.8 575.9L244.8 575.0L244.9 574.2L244.9 574.0L245.0 572.8L245.0 571.6L245.1 570.4L245.1 569.3L245.2 568.2L245.2 567.3L245.3 566.6L245.3 566.1L245.4 551.1L245.4 551.4L245.5 552.0L245.6 552.8L245.6 553.9L245.7 555.1L245.8 556.4L245.9 557.7L245.9 557.8L245.9 559.1L246.0 560.4L246.1 561.6L246.1 562.6L246.2 563.5L246.3 564.3L246.3 564.9L246.3 565.0L246.4 565.6L246.5 566.0L246.6 566.4L246.6 566.7L246.7 567.0L246.8 567.2L246.8 567.3L246.8 567.4L246.9 567.5L247.0 567.7L247.0 567.8L247.1 568.0L247.2 568.1L247.3 568.3L247.3 568.4L247.3 568.4L247.4 568.5L247.5 568.6L247.5 568.7L247.6 568.9L247.7 569.0L247.7 569.1L247.8 569.2L247.8 569.2L247.9 569.3L248.0 569.4L248.0 569.5L248.1 569.6L248.3 569.9L248.8 570.6L249.2 571.2L249.7 571.8L250.2 572.4L250.7 572.9L251.2 573.3L251.7 573.8L252.2 574.2L252.6 574.5L253.1 574.9L253.6 575.2L254.1 575.5L254.6 575.8L255.1 576.0L255.6 576.2L256.0 576.3L256.3 576.3L256.4 576.3L256.5 576.3L256.5 576.3L256.7 576.3L256.8 576.2L256.9 576.2L257.0 576.2L257.0 576.2L257.2 576.1L257.3 576.1L257.4 576.0L257.5 576.0L257.6 575.9L257.7 575.8L257.8 575.7L258.0 575.5L258.0 575.5L258.1 575.3L258.2 575.1L258.4 574.7L258.5 574.4L258.5 574.3L258.6 573.6L258.8 572.7L258.9 571.4L258.9 570.6L259.0 569.6L259.1 567.0L259.3 563.9L259.4 559.7L259.4 558.8L259.5 554.1L259.7 546.9L259.8 538.0L259.9 528.5L259.9 527.2L260.1 514.2L260.2 499.6L260.3 483.6L260.4 473.7L260.5 466.8L260.6 449.7L260.7 433.2L260.8 418.1L260.9 414.1L261.0 405.3L261.1 395.5L261.2 389.3L261.4 387.2L261.5 389.3L261.6 395.5L261.8 405.3L261.9 414.1L261.9 418.1L262.0 433.2L262.2 449.7L262.3 466.8L262.3 473.7L262.4 483.6L262.5 499.6L262.7 514.2L262.8 527.2L262.8 528.5L262.9 538.3L263.1 547.5L263.2 555.0L263.3 560.0L263.3 560.9L263.5 565.5L263.6 569.0L263.7 571.6L263.8 572.6L263.9 573.4L264.0 574.8L264.1 575.7L264.2 576.4L264.3 576.6L264.4 576.9L264.5 577.3L264.6 577.6L264.8 577.8L264.8 577.8L264.9 578.0L265.0 578.2L265.2 578.4L265.2 578.5L265.3 578.5L265.4 578.6L265.6 578.7L265.7 578.8L265.7 578.9L265.8 578.9L266.0 579.0L266.1 579.1L266.2 579.2L266.2 579.2L266.3 579.2L266.5 579.3L266.7 579.4L267.2 579.5L267.7 579.6L268.2 579.6L268.6 579.6L269.1 579.6L269.6 579.6L270.1 579.6L270.6 579.6" fill="none" stroke="#3a3ab0" stroke-width="1" stroke-linejoin="round"/>
<path d="M61.6 580H449.9" stroke="#3a3a3a" stroke-width="1.3" opacity="0.5"/>
<g font-family='"Liberation Serif", serif' font-weight="bold" font-size="9.4" fill="#111" stroke="#111" stroke-width="0.22"><text x="231.6" y="388.45" text-anchor="middle">193.11</text><text x="265.2" y="383.35" text-anchor="middle">225.68</text></g>
<text x="420.3" y="352.82" text-anchor="middle" font-family='"Liberation Serif", serif' font-weight="bold" font-size="14" fill="#111" stroke="#111" stroke-width="0.22">E</text>
<text transform="translate(9.2,416.5) rotate(90)" text-anchor="middle" font-family='"Liberation Serif", serif' font-weight="bold" font-size="9.9" fill="#111" stroke="#111" stroke-width="0.42">Dye Signal</text>
<text x="238.7" y="613.42" text-anchor="middle" font-family='"Liberation Serif", serif' font-weight="bold" font-size="9.1" fill="#111" stroke="#111" stroke-width="0.22">Size (nt)</text>
<polyline points="241.8,614.5 243.0,615.7 244.2,614.5 245.4,615.7 246.6,614.5 247.8,615.7 249.0,614.5 250.2,615.7 251.4,614.5" fill="none" stroke="#e05a5a" stroke-width="0.8" opacity="0.6"/></g>
<g id="pF"><rect x="550.45" y="323.9" width="412.75" height="255.45" fill="none" stroke="#3a3a3a" stroke-width="1.3"/>
<path d="M558.99 576.35V579.35M569.29 576.35V579.35M579.59 576.35V579.35M589.9 576.35V579.35M600.2 575.35V584.35M610.5 576.35V579.35M620.81 576.35V579.35M631.11 576.35V579.35M641.41 576.35V579.35M651.71 575.35V584.35M662.02 576.35V579.35M672.32 576.35V579.35M682.62 576.35V579.35M692.93 576.35V579.35M703.23 575.35V584.35M713.53 576.35V579.35M723.83 576.35V579.35M734.14 576.35V579.35M744.44 576.35V579.35M754.74 575.35V584.35M765.05 576.35V579.35M775.35 576.35V579.35M785.65 576.35V579.35M795.95 576.35V579.35M806.26 575.35V584.35M816.56 576.35V579.35M826.86 576.35V579.35M837.17 576.35V579.35M847.47 576.35V579.35M857.77 575.35V584.35M868.07 576.35V579.35M878.38 576.35V579.35M888.68 576.35V579.35M898.98 576.35V579.35M909.29 575.35V584.35M919.59 576.35V579.35M929.89 576.35V579.35M940.19 576.35V579.35M950.5 576.35V579.35M960.8 575.35V584.35M547.45 579.35H553.95M550.45 574.24H553.95M550.45 569.13H553.95M550.45 564.02H553.95M550.45 558.91H553.95M547.45 553.8H553.95M550.45 548.68H553.95M550.45 543.57H553.95M550.45 538.46H553.95M550.45 533.35H553.95M547.45 528.24H553.95M550.45 523.13H553.95M550.45 518.02H553.95M550.45 512.91H553.95M550.45 507.8H553.95M547.45 502.69H553.95M550.45 497.57H553.95M550.45 492.46H553.95M550.45 487.35H553.95M550.45 482.24H553.95M547.45 477.13H553.95M550.45 472.02H553.95M550.45 466.91H553.95M550.45 461.8H553.95M550.45 456.69H553.95M547.45 451.58H553.95M550.45 446.46H553.95M550.45 441.35H553.95M550.45 436.24H553.95M550.45 431.13H553.95M547.45 426.02H553.95M550.45 420.91H553.95M550.45 415.8H553.95M550.45 410.69H553.95M550.45 405.58H553.95M547.45 400.47H553.95M550.45 395.35H553.95M550.45 390.24H553.95M550.45 385.13H553.95M550.45 380.02H553.95M547.45 374.91H553.95M550.45 369.8H553.95M550.45 364.69H553.95M550.45 359.58H553.95M550.45 354.47H553.95M547.45 349.36H553.95M550.45 344.24H553.95M550.45 339.13H553.95M550.45 334.02H553.95M550.45 328.91H553.95M547.45 323.8H553.95" stroke="#262626" stroke-width="1.2" fill="none"/>
<g font-family='"Liberation Serif", serif' font-weight="bold" font-size="9.65" fill="#111" stroke="#111" stroke-width="0.22"><text x="600.2" y="595.13" text-anchor="middle">50</text><text x="651.71" y="595.13" text-anchor="middle">100</text><text x="703.23" y="595.13" text-anchor="middle">150</text><text x="754.74" y="595.13" text-anchor="middle">200</text><text x="806.26" y="595.13" text-anchor="middle">250</text><text x="857.77" y="595.13" text-anchor="middle">300</text><text x="909.29" y="595.13" text-anchor="middle">350</text><text x="960.8" y="595.13" text-anchor="middle">400</text><text x="541.9" y="584.18" text-anchor="end" font-size="9.65">0</text><text x="545" y="558.53" text-anchor="end" font-size="9.65">10000</text><text x="545" y="532.97" text-anchor="end" font-size="9.65">20000</text><text x="545" y="507.42" text-anchor="end" font-size="9.65">30000</text><text x="545" y="481.86" text-anchor="end" font-size="9.65">40000</text><text x="545" y="456.31" text-anchor="end" font-size="9.65">50000</text><text x="545" y="430.75" text-anchor="end" font-size="9.65">60000</text><text x="545" y="405.2" text-anchor="end" font-size="9.65">70000</text><text x="545" y="379.64" text-anchor="end" font-size="9.65">80000</text><text x="545" y="354.09" text-anchor="end" font-size="9.65">90000</text><text x="545" y="328.53" text-anchor="end" font-size="9.65">100000</text></g>
<path d="M680.5 579.0L680.6 579.0L680.6 579.0L680.7 579.0L680.8 578.9L680.9 578.9L681.0 578.9L681.0 578.9L681.1 578.9L681.1 578.8L681.2 578.8L681.3 578.7L681.4 578.7L681.5 578.6L681.6 578.5L681.6 578.4L681.7 578.3L681.8 578.1L681.9 578.0L682.0 577.8L682.1 577.6L682.1 577.5L682.2 577.4L682.3 577.3L682.3 577.1L682.4 577.0L682.5 577.0L682.6 577.0L682.7 577.0L682.8 577.0L682.9 577.1L683.0 577.3L683.1 577.4L683.1 577.5L683.2 577.6L683.3 577.8L683.4 578.0L683.5 578.1L683.6 578.3L683.6 578.4L683.7 578.5L683.7 578.6L683.8 578.7L683.9 578.7L684.0 578.8L684.1 578.8L684.2 578.9L684.2 578.9L684.3 578.9L684.4 578.9L684.5 578.9L684.6 579.0L684.7 579.0L684.7 579.0L684.8 579.0L684.8 579.0L684.9 579.0L685.0 579.0L685.1 579.0L685.2 579.0L685.2 579.0L685.3 579.0L685.4 579.0L685.5 579.0L685.6 579.0L685.7 579.0L685.7 579.0L685.8 579.0L685.9 579.0L686.0 579.0L686.1 579.0L686.1 579.0L686.2 579.0L686.2 579.0L686.7 579.0L687.3 579.0L687.8 579.0L688.3 579.0L688.8 579.0L689.3 579.0L689.8 579.0L690.4 579.0L690.9 579.0L691.4 579.0L691.9 579.0L692.4 579.0L692.9 579.0L693.4 579.0L694.0 579.0L694.5 579.0L695.0 579.0L695.5 579.0L696.0 579.0L696.5 579.0L697.0 579.0L697.6 579.0L697.8 579.0L697.9 579.0L698.1 579.0L698.1 579.0L698.2 579.0L698.4 579.0L698.5 579.0L698.6 579.0L698.6 579.0L698.8 579.0L698.9 579.0L699.1 579.0L699.1 579.0L699.2 579.0L699.3 579.0L699.5 579.0L699.6 579.0L699.6 579.0L699.8 579.0L699.9 579.0L700.0 579.0L700.1 579.0L700.2 579.0L700.3 578.9L700.4 578.9L700.6 578.9L700.7 578.9L700.7 578.9L700.9 578.9L701.0 578.8L701.1 578.8L701.2 578.7L701.3 578.7L701.4 578.6L701.6 578.5L701.7 578.3L701.7 578.3L701.8 578.1L702.0 577.9L702.1 577.7L702.2 577.6L702.3 577.5L702.4 577.3L702.5 577.1L702.7 576.9L702.7 576.8L702.8 576.7L703.0 576.6L703.1 576.5L703.2 576.4L703.4 576.5L703.5 576.6L703.6 576.7L703.7 576.8L703.8 576.9L703.9 577.1L704.1 577.3L704.2 577.5L704.3 577.6L704.3 577.7L704.5 577.9L704.6 578.1L704.8 578.3L704.8 578.3L704.9 578.5L705.0 578.6L705.2 578.7L705.3 578.7L705.3 578.8L705.5 578.8L705.6 578.9L705.7 578.9L705.8 578.9L705.9 578.9L706.0 578.9L706.1 578.9L706.3 579.0L706.3 579.0L706.4 579.0L706.6 579.0L706.7 579.0L706.8 579.0L706.8 579.0L707.0 579.0L707.1 579.0L707.3 579.0L707.3 579.0L707.4 579.0L707.5 579.0L707.7 579.0L707.8 579.0L707.9 579.0L708.0 579.0L708.1 579.0L708.2 579.0L708.4 579.0L708.4 579.0L708.5 579.0L708.7 579.0L708.9 579.0L709.4 579.0L709.9 579.0L710.4 579.0L711.0 579.0L711.5 579.0L712.0 579.0L712.5 579.0L713.0 579.0L713.5 579.0L714.0 579.0L714.6 579.0L715.1 579.0L715.6 579.0L716.1 579.0L716.6 579.0L717.1 579.0L717.7 579.0L718.2 579.0L718.7 579.0L719.2 579.0L719.7 579.0L720.2 579.0L720.7 579.0L721.3 579.0L721.6 579.0L721.7 579.0L721.8 579.0L721.8 579.0L721.9 579.0L722.0 579.0L722.1 579.0L722.2 579.0L722.3 579.0L722.3 579.0L722.4 579.0L722.6 579.0L722.7 579.0L722.8 579.0L722.8 579.0L722.9 579.0L723.0 579.0L723.1 578.9L723.2 578.9L723.3 578.9L723.3 578.9L723.4 578.9L723.6 578.9L723.7 578.9L723.8 578.8L723.8 578.8L723.9 578.8L724.0 578.7L724.1 578.6L724.2 578.5L724.3 578.3L724.3 578.3L724.4 578.1L724.6 577.9L724.7 577.6L724.8 577.3L724.9 577.0L724.9 576.9L725.0 576.4L725.1 576.0L725.2 575.5L725.3 575.1L725.4 574.9L725.4 574.7L725.6 574.3L725.7 574.0L725.8 573.9L725.9 573.8L726.0 573.8L726.1 574.0L726.2 574.2L726.3 574.5L726.4 574.7L726.5 574.8L726.5 575.1L726.6 575.2L726.6 575.4L726.7 575.6L726.7 575.6L726.8 575.9L726.8 575.9L726.8 576.1L726.9 576.3L726.9 576.3L726.9 576.3L727.0 576.5L727.0 576.5L727.1 576.7L727.1 576.7L727.2 576.8L727.2 576.9L727.2 576.9L727.3 576.9L727.3 577.0L727.4 577.0L727.4 577.0L727.5 577.0L727.5 576.9L727.6 576.9L727.6 576.9L727.6 576.8L727.7 576.7L727.7 576.6L727.8 576.3L727.8 576.3L727.9 575.9L727.9 575.7L727.9 575.3L728.0 575.2L728.0 574.7L728.0 574.5L728.1 573.3L728.1 573.0L728.2 571.6L728.2 570.4L728.3 569.4L728.3 566.3L728.4 562.2L728.5 560.1L728.5 559.0L728.5 556.8L728.6 551.4L728.6 550.1L728.7 541.8L728.7 539.6L728.7 532.0L728.8 524.6L728.8 520.3L728.9 507.3L728.9 506.4L729.0 492.9L729.0 490.6L729.0 485.9L729.1 477.9L729.1 464.3L729.1 462.5L729.2 447.6L729.2 443.6L729.3 434.2L729.3 425.8L729.4 422.7L729.4 413.9L729.5 413.1L729.5 409.7L729.5 408.4L729.6 406.9L729.6 406.5L729.7 408.2L729.7 408.4L729.8 413.9L729.8 416.6L729.8 422.6L729.9 431.3L729.9 434.2L730.0 447.6L730.0 450.3L730.0 451.0L730.1 462.5L730.1 471.5L730.2 477.9L730.2 492.9L730.3 507.2L730.4 520.3L730.5 531.9L730.5 539.7L730.5 541.9L730.6 550.1L730.7 556.9L730.8 562.3L730.9 566.3L730.9 569.4L731.0 571.7L731.0 572.3L731.1 573.4L731.2 574.6L731.3 575.5L731.3 576.1L731.4 576.6L731.5 576.9L731.6 577.1L731.6 577.2L731.7 577.4L731.7 577.6L731.8 577.7L731.9 577.8L732.0 578.0L732.0 578.1L732.1 578.1L732.1 578.2L732.2 578.3L732.3 578.4L732.4 578.4L732.4 578.5L732.5 578.6L732.6 578.6L732.6 578.6L732.7 578.7L733.1 578.9L733.6 579.0L734.1 579.0L734.7 579.0L735.2 579.0L735.7 579.0L736.2 579.0L736.7 579.0L737.2 579.0L737.7 579.0L738.3 579.0L738.8 579.0L739.3 579.0L739.8 579.0L740.3 579.0L740.8 579.0L741.3 579.0L741.9 579.0L741.9 579.0L741.9 579.0L742.0 579.0L742.1 579.0L742.2 579.0L742.3 579.0L742.4 579.0L742.4 579.0L742.5 579.0L742.6 579.0L742.7 579.0L742.8 579.0L742.9 579.0L742.9 579.0L743.0 579.0L743.1 579.0L743.2 579.0L743.2 579.0L743.3 578.9L743.4 578.9L743.4 578.9L743.5 578.9L743.6 578.9L743.7 578.9L743.8 578.8L743.9 578.8L743.9 578.8L744.0 578.7L744.1 578.7L744.2 578.5L744.3 578.4L744.4 578.3L744.4 578.1L744.5 578.1L744.5 577.8L744.6 577.6L744.7 577.3L744.8 577.2L744.8 577.0L744.8 576.9L744.9 576.7L744.9 576.6L745.0 576.5L745.0 576.4L745.0 576.4L745.1 576.1L745.1 576.1L745.2 575.9L745.2 575.8L745.2 575.7L745.3 575.6L745.3 575.6L745.4 575.5L745.4 575.4L745.5 575.4L745.5 575.3L745.6 575.3L745.6 575.3L745.6 575.3L745.7 575.3L745.7 575.3L745.7 575.4L745.8 575.4L745.8 575.4L745.9 575.5L745.9 575.5L745.9 575.5L746.0 575.5L746.0 575.5L746.0 575.5L746.1 575.5L746.1 575.5L746.2 575.4L746.2 575.3L746.3 575.1L746.3 574.9L746.3 574.6L746.4 574.1L746.4 573.9L746.5 572.9L746.5 572.7L746.6 571.1L746.6 571.0L746.7 568.9L746.7 568.3L746.7 566.0L746.8 564.6L746.8 562.2L746.9 559.7L746.9 557.6L747.0 553.5L747.0 552.0L747.0 548.6L747.0 545.9L747.1 545.5L747.1 538.0L747.1 537.2L747.2 529.9L747.2 527.5L747.3 521.4L747.3 517.3L747.4 512.7L747.4 507.2L747.4 504.2L747.5 497.9L747.5 496.6L747.5 496.0L747.6 490.1L747.6 490.0L747.7 485.0L747.7 484.4L747.8 481.9L747.8 481.3L747.8 480.8L747.9 481.1L747.9 481.9L748.0 483.9L748.0 485.1L748.0 487.9L748.1 489.3L748.1 490.1L748.2 496.6L748.2 497.0L748.2 504.4L748.3 506.2L748.3 512.7L748.3 516.3L748.4 521.5L748.4 526.5L748.5 530.0L748.5 536.3L748.5 538.2L748.6 539.3L748.6 545.2L748.6 545.6L748.7 552.3L748.7 552.9L748.8 557.9L748.8 559.3L748.9 562.6L748.9 564.5L748.9 566.4L749.0 568.5L749.0 569.5L749.1 571.1L749.1 571.4L749.1 571.8L749.2 573.6L749.3 574.9L749.3 575.8L749.4 576.5L749.5 577.0L749.6 577.4L749.6 577.4L749.7 577.6L749.7 577.8L749.8 578.0L749.9 578.1L750.0 578.2L750.0 578.3L750.1 578.3L750.1 578.3L750.2 578.4L750.3 578.5L750.4 578.5L750.4 578.6L750.5 578.6L750.6 578.7L750.6 578.7L750.7 578.7L750.8 578.7L750.8 578.8L750.9 578.8L751.1 578.9L751.7 579.0L752.2 579.0L752.7 579.0L753.2 579.0L753.7 579.0L754.2 579.0L754.7 579.0L755.3 579.0M921.1 579.0L921.6 579.0L922.2 579.0L922.7 579.0L923.2 579.0L923.7 579.0L924.2 579.0L924.7 579.0L924.7 579.0L924.9 579.0L925.1 579.0L925.3 579.0L925.3 579.0L925.5 579.0L925.6 579.0L925.8 579.0L925.8 579.0L926.0 579.0L926.2 579.0L926.3 579.0L926.4 579.0L926.6 579.0L926.8 579.0L926.8 579.0L926.9 579.0L927.1 579.0L927.3 579.0L927.5 579.0L927.7 579.0L927.8 579.0L927.9 579.0L928.1 579.0L928.2 579.0L928.3 579.0L928.4 579.0L928.6 578.9L928.8 578.9L928.9 578.9L929.0 578.9L929.2 578.9L929.4 578.8L929.4 578.8L929.5 578.8L929.7 578.7L929.9 578.7L929.9 578.7L930.1 578.6L930.3 578.5L930.4 578.4L930.5 578.4L930.7 578.3L930.8 578.1L930.9 578.1L931.0 578.0L931.2 577.9L931.4 577.8L931.4 577.8L931.6 577.8L931.8 577.7L932.0 577.7L932.1 577.7L932.3 577.8L932.5 577.8L932.5 577.8L932.7 577.9L932.9 578.0L933.0 578.1L933.1 578.1L933.3 578.3L933.4 578.4L933.5 578.4L933.6 578.5L933.8 578.6L934.0 578.7L934.0 578.7L934.2 578.7L934.4 578.8L934.5 578.8L934.5 578.8L934.7 578.9L934.9 578.9L935.0 578.9L935.1 578.9L935.3 578.9L935.5 579.0L935.6 579.0L935.7 579.0L935.8 579.0L936.0 579.0L936.1 579.0L936.2 579.0L936.4 579.0L936.6 579.0L936.8 579.0L937.0 579.0L937.1 579.0L937.1 579.0L937.3 579.0L937.5 579.0L937.6 579.0L937.7 579.0L937.9 579.0L938.1 579.0L938.1 579.0L938.3 579.0L938.4 579.0L938.6 579.0L938.6 579.0L938.8 579.0L939.0 579.0L939.2 579.0L939.2 579.0L939.7 579.0L940.2 579.0L940.7 579.0L941.2 579.0L941.7 579.0L942.3 579.0L942.8 579.0" fill="none" stroke="#3a3ab0" stroke-width="1" stroke-linejoin="round"/>
<path d="M550.45 579.35H963.2" stroke="#3a3a3a" stroke-width="1.3" opacity="0.5"/>
<g font-family='"Liberation Serif", serif' font-weight="bold" font-size="10.3" fill="#111" stroke="#111" stroke-width="0.22"><text x="733.2" y="403.95" text-anchor="middle">175.47</text><text x="755.8" y="475.55" text-anchor="middle">193.06</text></g>
<text x="931.6" y="350.22" text-anchor="middle" font-family='"Liberation Serif", serif' font-weight="bold" font-size="14" fill="#111" stroke="#111" stroke-width="0.22">F</text>
<text transform="translate(496.3,408.8) rotate(90)" text-anchor="middle" font-family='"Liberation Serif", serif' font-weight="bold" font-size="10.2" fill="#111" stroke="#111" stroke-width="0.42">Dye Signal</text>
<text x="757.4" y="611.95" text-anchor="middle" font-family='"Liberation Serif", serif' font-weight="bold" font-size="9.6" fill="#111" stroke="#111" stroke-width="0.22">Size (nt)</text>
<polyline points="760.7,613.0 761.9,614.2 763.1,613.0 764.3,614.2 765.5,613.0 766.7,614.2 767.9,613.0 769.1,614.2 770.3,613.0" fill="none" stroke="#e05a5a" stroke-width="0.8" opacity="0.6"/></g>
<g id="pG"><rect x="1050" y="333" width="417" height="252.1" fill="none" stroke="#3a3a3a" stroke-width="1.3"/>
<path d="M1050.11 582.1V585.1M1060.53 582.1V585.1M1070.95 582.1V585.1M1081.38 582.1V585.1M1091.8 581.1V590.1M1102.22 582.1V585.1M1112.65 582.1V585.1M1123.07 582.1V585.1M1133.49 582.1V585.1M1143.91 581.1V590.1M1154.34 582.1V585.1M1164.76 582.1V585.1M1175.18 582.1V585.1M1185.61 582.1V585.1M1196.03 581.1V590.1M1206.45 582.1V585.1M1216.87 582.1V585.1M1227.3 582.1V585.1M1237.72 582.1V585.1M1248.14 581.1V590.1M1258.57 582.1V585.1M1268.99 582.1V585.1M1279.41 582.1V585.1M1289.83 582.1V585.1M1300.26 581.1V590.1M1310.68 582.1V585.1M1321.1 582.1V585.1M1331.53 582.1V585.1M1341.95 582.1V585.1M1352.37 581.1V590.1M1362.79 582.1V585.1M1373.22 582.1V585.1M1383.64 582.1V585.1M1394.06 582.1V585.1M1404.49 581.1V590.1M1414.91 582.1V585.1M1425.33 582.1V585.1M1435.75 582.1V585.1M1446.18 582.1V585.1M1456.6 581.1V590.1M1467.02 582.1V585.1M1047 585.1H1053.5M1050 578.8H1053.5M1050 572.5H1053.5M1050 566.19H1053.5M1050 559.89H1053.5M1047 553.59H1053.5M1050 547.28H1053.5M1050 540.98H1053.5M1050 534.68H1053.5M1050 528.38H1053.5M1047 522.08H1053.5M1050 515.77H1053.5M1050 509.47H1053.5M1050 503.17H1053.5M1050 496.87H1053.5M1047 490.56H1053.5M1050 484.26H1053.5M1050 477.96H1053.5M1050 471.66H1053.5M1050 465.35H1053.5M1047 459.05H1053.5M1050 452.75H1053.5M1050 446.45H1053.5M1050 440.14H1053.5M1050 433.84H1053.5M1047 427.54H1053.5M1050 421.24H1053.5M1050 414.93H1053.5M1050 408.63H1053.5M1050 402.33H1053.5M1047 396.02H1053.5M1050 389.72H1053.5M1050 383.42H1053.5M1050 377.12H1053.5M1050 370.81H1053.5M1047 364.51H1053.5M1050 358.21H1053.5M1050 351.91H1053.5M1050 345.61H1053.5M1050 339.3H1053.5M1047 333H1053.5" stroke="#262626" stroke-width="1.2" fill="none"/>
<g font-family='"Liberation Serif", serif' font-weight="bold" font-size="9.7" fill="#111" stroke="#111" stroke-width="0.22"><text x="1091.8" y="600.65" text-anchor="middle">50</text><text x="1143.91" y="600.65" text-anchor="middle">100</text><text x="1196.03" y="600.65" text-anchor="middle">150</text><text x="1248.14" y="600.65" text-anchor="middle">200</text><text x="1300.26" y="600.65" text-anchor="middle">250</text><text x="1352.37" y="600.65" text-anchor="middle">300</text><text x="1404.49" y="600.65" text-anchor="middle">350</text><text x="1456.6" y="600.65" text-anchor="middle">400</text><text x="1041.7" y="589.95" text-anchor="end" font-size="9.7">0</text><text x="1045" y="558.84" text-anchor="end" font-size="9.7">25000</text><text x="1045" y="527.32" text-anchor="end" font-size="9.7">50000</text><text x="1045" y="495.81" text-anchor="end" font-size="9.7">75000</text><text x="1045" y="464.3" text-anchor="end" font-size="9.7">100000</text><text x="1045" y="432.79" text-anchor="end" font-size="9.7">125000</text><text x="1045" y="401.27" text-anchor="end" font-size="9.7">150000</text><text x="1045" y="369.76" text-anchor="end" font-size="9.7">175000</text><text x="1045" y="338.25" text-anchor="end" font-size="9.7">200000</text></g>
<path d="M1112.1 584.7L1112.6 584.7L1113.2 584.7L1113.7 584.7L1114.1 584.7L1114.2 584.7L1114.2 584.7L1114.3 584.7L1114.4 584.7L1114.5 584.7L1114.7 584.7L1114.7 584.7L1114.8 584.7L1114.9 584.7L1115.0 584.7L1115.1 584.7L1115.2 584.7L1115.3 584.7L1115.3 584.7L1115.4 584.7L1115.5 584.7L1115.6 584.7L1115.8 584.7L1115.8 584.7L1115.9 584.7L1116.0 584.7L1116.1 584.7L1116.2 584.7L1116.3 584.6L1116.3 584.6L1116.4 584.6L1116.5 584.5L1116.6 584.5L1116.7 584.4L1116.8 584.3L1116.8 584.3L1117.0 584.1L1117.1 584.0L1117.2 583.8L1117.3 583.5L1117.3 583.4L1117.4 583.2L1117.5 582.9L1117.6 582.6L1117.7 582.3L1117.8 582.0L1117.9 581.9L1117.9 581.7L1118.0 581.4L1118.2 581.3L1118.3 581.1L1118.4 581.1L1118.5 581.1L1118.6 581.3L1118.7 581.4L1118.8 581.7L1118.9 581.9L1118.9 582.0L1119.0 582.3L1119.1 582.6L1119.3 582.9L1119.4 583.2L1119.4 583.3L1119.4 583.4L1119.5 583.5L1119.5 583.6L1119.6 583.7L1119.6 583.8L1119.7 584.0L1119.8 584.1L1119.8 584.1L1119.9 584.2L1119.9 584.3L1119.9 584.3L1120.0 584.3L1120.0 584.4L1120.1 584.4L1120.1 584.5L1120.2 584.5L1120.2 584.5L1120.3 584.5L1120.3 584.6L1120.4 584.6L1120.5 584.6L1120.5 584.6L1120.5 584.6L1120.6 584.6L1120.6 584.7L1120.7 584.7L1120.7 584.7L1120.8 584.7L1120.8 584.7L1120.9 584.7L1120.9 584.7L1121.0 584.7L1121.0 584.7L1121.1 584.7L1121.1 584.7L1121.2 584.7L1121.2 584.7L1121.3 584.7L1121.3 584.7L1121.4 584.7L1121.4 584.6L1121.5 584.6L1121.5 584.6L1121.6 584.6L1121.6 584.6L1121.7 584.6L1121.8 584.5L1121.8 584.5L1121.8 584.5L1121.9 584.5L1121.9 584.4L1122.0 584.4L1122.0 584.3L1122.0 584.3L1122.1 584.3L1122.1 584.2L1122.2 584.1L1122.2 584.1L1122.3 584.0L1122.4 583.9L1122.4 583.8L1122.5 583.7L1122.5 583.7L1122.5 583.7L1122.6 583.6L1122.6 583.5L1122.7 583.5L1122.8 583.4L1122.9 583.3L1123.0 583.2L1123.1 583.2L1123.2 583.2L1123.3 583.3L1123.3 583.4L1123.4 583.5L1123.5 583.6L1123.6 583.7L1123.6 583.7L1123.7 583.9L1123.8 584.0L1123.9 584.1L1124.0 584.2L1124.1 584.3L1124.1 584.3L1124.2 584.4L1124.3 584.5L1124.4 584.5L1124.5 584.6L1124.6 584.6L1124.6 584.6L1124.7 584.7L1124.8 584.7L1124.9 584.7L1124.9 584.7L1125.0 584.7L1125.1 584.7L1125.2 584.7L1125.2 584.7L1125.3 584.7L1125.4 584.6L1125.5 584.6L1125.6 584.6L1125.7 584.5L1125.7 584.5L1125.8 584.5L1125.9 584.4L1126.0 584.3L1126.1 584.2L1126.2 584.2L1126.2 584.1L1126.3 584.1L1126.4 584.0L1126.4 583.9L1126.5 583.8L1126.6 583.8L1126.7 583.8L1126.7 583.7L1126.8 583.7L1126.9 583.8L1127.0 583.8L1127.1 583.8L1127.2 583.9L1127.2 583.9L1127.3 584.0L1127.4 584.1L1127.5 584.2L1127.6 584.2L1127.7 584.3L1127.8 584.4L1127.9 584.5L1127.9 584.5L1128.0 584.6L1128.1 584.6L1128.2 584.7L1128.3 584.7L1128.3 584.7L1128.4 584.7L1128.5 584.7L1128.6 584.7L1128.7 584.7L1128.8 584.7L1128.8 584.7L1128.9 584.7L1129.0 584.7L1129.1 584.7L1129.2 584.7L1129.3 584.7L1129.3 584.7L1129.4 584.7L1129.4 584.7L1129.5 584.7L1129.6 584.7L1129.7 584.7L1129.8 584.7L1129.8 584.7L1129.9 584.7L1130.0 584.7L1130.1 584.7L1130.2 584.7L1130.3 584.7L1130.4 584.7L1130.4 584.7L1130.5 584.7L1130.9 584.7L1131.4 584.7L1131.9 584.7L1132.4 584.7L1133.0 584.7L1133.5 584.7L1134.0 584.7L1134.5 584.7L1135.1 584.7L1135.6 584.7L1136.1 584.7L1136.6 584.7L1137.1 584.7L1137.7 584.7L1138.2 584.7L1138.7 584.7L1139.2 584.7L1139.7 584.7L1139.7 584.7L1139.8 584.7L1139.9 584.7L1140.0 584.7L1140.0 584.7L1140.1 584.7L1140.2 584.7L1140.3 584.7L1140.3 584.7L1140.4 584.7L1140.5 584.7L1140.6 584.7L1140.7 584.7L1140.7 584.7L1140.8 584.7L1140.8 584.7L1140.9 584.7L1141.0 584.7L1141.0 584.7L1141.1 584.7L1141.2 584.7L1141.3 584.7L1141.3 584.6L1141.4 584.6L1141.4 584.6L1141.5 584.5L1141.6 584.5L1141.7 584.4L1141.8 584.2L1141.8 584.1L1141.9 583.9L1142.0 583.7L1142.1 583.5L1142.1 583.2L1142.2 583.0L1142.3 582.7L1142.4 582.5L1142.4 582.4L1142.5 582.2L1142.5 582.0L1142.6 581.8L1142.7 581.7L1142.8 581.7L1142.8 581.7L1142.9 581.8L1142.9 581.8L1143.0 582.0L1143.1 582.2L1143.2 582.4L1143.2 582.7L1143.3 582.9L1143.4 583.2L1143.5 583.4L1143.5 583.6L1143.6 583.8L1143.7 583.9L1143.8 583.9L1143.9 584.0L1143.9 584.0L1143.9 583.9L1144.0 583.9L1144.1 583.8L1144.2 583.6L1144.3 583.4L1144.3 583.2L1144.4 582.9L1144.4 582.8L1144.5 582.6L1144.6 582.4L1144.6 582.2L1144.7 582.0L1144.8 581.8L1144.9 581.7L1145.0 581.7L1145.0 581.7L1145.1 581.8L1145.2 582.0L1145.3 582.2L1145.3 582.4L1145.4 582.6L1145.5 582.8L1145.5 582.9L1145.6 583.2L1145.7 583.4L1145.7 583.6L1145.8 583.8L1145.9 583.9L1146.0 583.9L1146.0 584.0L1146.1 584.0L1146.1 583.9L1146.2 583.9L1146.3 583.8L1146.4 583.6L1146.4 583.4L1146.5 583.2L1146.6 582.9L1146.7 582.7L1146.8 582.4L1146.8 582.2L1146.9 582.0L1147.0 581.8L1147.0 581.8L1147.1 581.7L1147.1 581.7L1147.2 581.7L1147.3 581.8L1147.4 582.0L1147.5 582.2L1147.5 582.4L1147.6 582.5L1147.6 582.7L1147.7 583.0L1147.8 583.2L1147.8 583.5L1147.9 583.7L1148.0 583.9L1148.1 584.1L1148.2 584.2L1148.2 584.2L1148.2 584.3L1148.2 584.3L1148.3 584.4L1148.3 584.4L1148.4 584.5L1148.4 584.5L1148.4 584.5L1148.5 584.6L1148.5 584.6L1148.6 584.6L1148.6 584.6L1148.6 584.6L1148.6 584.6L1148.6 584.6L1148.7 584.6L1148.7 584.6L1148.8 584.7L1148.9 584.7L1148.9 584.7L1148.9 584.7L1148.9 584.7L1149.0 584.7L1149.0 584.7L1149.1 584.7L1149.1 584.7L1149.1 584.7L1149.1 584.7L1149.2 584.7L1149.2 584.7L1149.3 584.7L1149.3 584.7L1149.3 584.6L1149.3 584.6L1149.4 584.6L1149.4 584.6L1149.4 584.6L1149.5 584.6L1149.6 584.6L1149.6 584.6L1149.6 584.5L1149.6 584.5L1149.7 584.4L1149.7 584.4L1149.8 584.4L1149.8 584.4L1149.8 584.3L1149.8 584.2L1149.9 584.2L1149.9 584.1L1150.0 583.9L1150.0 583.9L1150.0 583.7L1150.1 583.6L1150.1 583.6L1150.1 583.4L1150.1 583.3L1150.2 583.1L1150.2 583.0L1150.3 582.6L1150.3 582.2L1150.4 581.9L1150.4 581.7L1150.5 581.3L1150.5 580.8L1150.6 580.4L1150.7 580.1L1150.7 580.1L1150.8 579.8L1150.8 579.6L1150.9 579.6L1151.0 579.6L1151.0 579.7L1151.0 579.8L1151.1 580.1L1151.2 580.4L1151.2 580.6L1151.2 580.8L1151.3 581.2L1151.3 581.3L1151.4 581.7L1151.5 582.2L1151.5 582.6L1151.6 583.0L1151.6 583.1L1151.7 583.3L1151.7 583.6L1151.7 583.6L1151.8 583.9L1151.9 584.1L1151.9 584.2L1152.0 584.2L1152.0 584.3L1152.1 584.4L1152.2 584.5L1152.2 584.5L1152.2 584.6L1152.3 584.6L1152.3 584.6L1152.3 584.6L1152.3 584.6L1152.4 584.6L1152.4 584.6L1152.4 584.6L1152.5 584.6L1152.5 584.6L1152.5 584.6L1152.6 584.6L1152.6 584.6L1152.6 584.6L1152.7 584.6L1152.7 584.6L1152.7 584.6L1152.8 584.6L1152.8 584.6L1152.8 584.6L1152.9 584.6L1152.9 584.6L1152.9 584.6L1152.9 584.6L1153.0 584.6L1153.0 584.6L1153.0 584.6L1153.1 584.6L1153.1 584.6L1153.1 584.6L1153.2 584.5L1153.2 584.5L1153.2 584.5L1153.3 584.5L1153.3 584.5L1153.3 584.5L1153.3 584.5L1153.4 584.4L1153.4 584.4L1153.4 584.3L1153.5 584.3L1153.5 584.2L1153.5 584.2L1153.5 584.2L1153.6 584.0L1153.6 584.0L1153.6 583.8L1153.6 583.8L1153.7 583.4L1153.8 583.0L1153.8 582.7L1153.8 582.5L1153.9 581.9L1154.0 581.1L1154.0 580.2L1154.1 579.2L1154.1 578.5L1154.1 578.1L1154.2 577.0L1154.3 575.8L1154.3 574.7L1154.4 573.6L1154.4 573.0L1154.5 572.7L1154.5 572.1L1154.6 571.6L1154.6 571.5L1154.7 571.6L1154.8 571.9L1154.8 572.1L1154.8 572.7L1154.9 573.0L1154.9 573.6L1155.0 574.7L1155.0 575.8L1155.1 576.6L1155.1 577.0L1155.2 578.1L1155.2 579.2L1155.3 580.2L1155.3 581.1L1155.4 581.6L1155.4 581.9L1155.5 582.5L1155.5 583.0L1155.6 583.4L1155.7 583.8L1155.7 583.9L1155.7 584.0L1155.8 584.2L1155.8 584.3L1155.9 584.4L1156.0 584.4L1156.0 584.5L1156.0 584.5L1156.1 584.5L1156.2 584.6L1156.2 584.6L1156.3 584.6L1156.3 584.6L1156.3 584.6L1156.4 584.6L1156.4 584.6L1156.5 584.6L1156.5 584.6L1156.6 584.6L1156.6 584.6L1156.7 584.6L1156.7 584.6L1156.8 584.6L1156.8 584.6L1156.9 584.6L1156.9 584.6L1157.0 584.6L1157.0 584.6L1157.1 584.6L1157.3 584.6L1157.5 584.6L1157.6 584.6L1157.9 584.6L1158.0 584.6L1158.2 584.5L1158.5 584.5L1158.8 584.4L1159.0 584.4L1159.1 584.4L1159.4 584.3L1159.5 584.3L1159.8 584.2L1160.1 584.2L1160.4 584.1L1160.6 584.1L1160.7 584.1L1161.0 584.0L1161.1 584.0L1161.3 584.0L1161.6 584.0L1161.9 584.0L1162.2 584.0L1162.3 584.0L1162.5 584.0L1162.6 584.1L1162.6 584.1L1162.7 584.1L1162.7 584.1L1162.9 584.1L1162.9 584.1L1163.0 584.1L1163.1 584.1L1163.2 584.2L1163.2 584.2L1163.4 584.2L1163.5 584.2L1163.5 584.2L1163.6 584.2L1163.7 584.3L1163.7 584.3L1163.8 584.3L1163.9 584.3L1164.0 584.3L1164.1 584.3L1164.1 584.3L1164.2 584.3L1164.4 584.4L1164.4 584.4L1164.5 584.4L1164.6 584.4L1164.7 584.4L1164.8 584.4L1164.9 584.4L1165.0 584.4L1165.1 584.4L1165.1 584.4L1165.1 584.4L1165.2 584.3L1165.2 584.3L1165.3 584.3L1165.3 584.3L1165.4 584.3L1165.4 584.3L1165.5 584.2L1165.5 584.2L1165.6 584.1L1165.6 584.1L1165.7 584.0L1165.7 584.0L1165.7 583.9L1165.8 583.9L1165.8 583.8L1165.9 583.8L1166.0 583.6L1166.0 583.5L1166.0 583.5L1166.1 583.3L1166.1 583.3L1166.2 583.0L1166.2 583.0L1166.3 582.8L1166.3 582.7L1166.4 582.6L1166.5 582.4L1166.5 582.3L1166.6 582.0L1166.6 581.9L1166.6 581.9L1166.7 581.7L1166.7 581.6L1166.8 581.3L1166.9 581.3L1166.9 581.1L1167.0 581.1L1167.0 581.0L1167.1 580.8L1167.1 580.8L1167.2 580.7L1167.2 580.7L1167.3 580.7L1167.3 580.6L1167.4 580.6L1167.5 580.7L1167.5 580.7L1167.6 580.7L1167.6 580.8L1167.6 580.8L1167.7 580.9L1167.7 581.0L1167.8 581.2L1167.9 581.2L1167.9 581.2L1168.0 581.4L1168.0 581.5L1168.1 581.7L1168.1 581.8L1168.2 581.9L1168.2 582.0L1168.2 582.0L1168.3 582.2L1168.4 582.3L1168.4 582.4L1168.5 582.5L1168.5 582.5L1168.5 582.5L1168.6 582.6L1168.6 582.6L1168.7 582.7L1168.7 582.7L1168.8 582.8L1168.8 582.8L1168.9 582.8L1168.9 582.8L1169.0 582.8L1169.0 582.8L1169.1 582.7L1169.1 582.7L1169.1 582.7L1169.1 582.7L1169.2 582.6L1169.2 582.6L1169.3 582.5L1169.4 582.5L1169.4 582.5L1169.5 582.4L1169.5 582.4L1169.5 582.4L1169.6 582.3L1169.6 582.3L1169.6 582.3L1169.7 582.2L1169.7 582.2L1169.7 582.2L1169.8 582.2L1169.8 582.1L1169.9 582.1L1170.0 582.1L1170.0 582.1L1170.0 582.1L1170.1 582.2L1170.1 582.2L1170.1 582.2L1170.2 582.2L1170.2 582.3L1170.2 582.3L1170.3 582.4L1170.3 582.4L1170.4 582.4L1170.4 582.4L1170.5 582.6L1170.5 582.6L1170.6 582.8L1170.6 582.8L1170.6 582.9L1170.7 583.0L1170.7 583.0L1170.7 583.0L1170.8 583.1L1170.8 583.2L1170.9 583.3L1171.0 583.4L1171.0 583.4L1171.0 583.5L1171.0 583.5L1171.1 583.6L1171.1 583.7L1171.2 583.8L1171.2 583.9L1171.3 583.9L1171.3 584.0L1171.3 584.0L1171.4 584.0L1171.4 584.1L1171.5 584.2L1171.5 584.2L1171.5 584.2L1171.6 584.3L1171.6 584.3L1171.6 584.3L1171.6 584.3L1171.7 584.4L1171.7 584.4L1171.8 584.4L1171.9 584.4L1171.9 584.5L1172.0 584.5L1172.0 584.5L1172.0 584.5L1172.1 584.5L1172.1 584.5L1172.1 584.5L1172.2 584.5L1172.2 584.5L1172.2 584.5L1172.3 584.5L1172.3 584.6L1172.4 584.6L1172.5 584.5L1172.5 584.5L1172.6 584.5L1172.6 584.5L1172.7 584.5L1172.7 584.5L1172.8 584.5L1172.8 584.4L1172.9 584.4L1173.0 584.4L1173.0 584.4L1173.1 584.3L1173.2 584.3L1173.2 584.2L1173.2 584.2L1173.3 584.2L1173.3 584.1L1173.5 584.0L1173.5 584.0L1173.5 584.0L1173.6 583.9L1173.6 583.8L1173.7 583.7L1173.8 583.6L1173.8 583.6L1173.8 583.5L1173.9 583.4L1174.0 583.4L1174.1 583.2L1174.1 583.2L1174.1 583.1L1174.2 583.0L1174.2 583.0L1174.3 582.8L1174.4 582.7L1174.5 582.6L1174.6 582.5L1174.6 582.5L1174.7 582.4L1174.7 582.3L1174.7 582.3L1174.8 582.2L1174.9 582.2L1175.0 582.1L1175.2 582.1L1175.3 582.1L1175.5 582.2L1175.7 582.3L1175.7 582.4L1175.8 582.5L1176.0 582.7L1176.1 583.0L1176.2 583.1L1176.3 583.2L1176.4 583.4L1176.6 583.6L1176.7 583.8L1176.9 584.0L1177.1 584.2L1177.2 584.3L1177.3 584.3L1177.4 584.4L1177.5 584.5L1177.7 584.6L1177.8 584.6L1177.8 584.6L1178.0 584.6L1178.2 584.7L1178.3 584.7L1178.3 584.7L1178.5 584.7L1178.5 584.7L1178.6 584.7L1178.7 584.7L1178.8 584.7L1178.8 584.7L1178.9 584.7L1178.9 584.7L1179.0 584.7L1179.1 584.7L1179.2 584.7L1179.2 584.7L1179.4 584.7L1179.4 584.7L1179.4 584.7L1179.6 584.7L1179.6 584.7L1179.7 584.7L1179.8 584.7L1179.9 584.7L1180.0 584.7L1180.0 584.7L1180.2 584.7L1180.2 584.7L1180.3 584.7L1180.4 584.7L1180.4 584.7L1180.5 584.7L1180.5 584.7L1180.7 584.7L1180.7 584.7L1180.8 584.7L1180.9 584.7L1181.0 584.7L1181.1 584.7L1181.1 584.7L1181.3 584.7L1181.3 584.7L1181.4 584.7L1181.5 584.7L1181.7 584.7L1181.9 584.7L1182.0 584.7L1182.0 584.7L1182.2 584.7L1182.4 584.7L1182.5 584.7L1182.6 584.7L1182.8 584.7L1183.0 584.6L1183.0 584.6L1183.2 584.6L1183.4 584.5L1183.5 584.5L1183.5 584.5L1183.7 584.4L1183.9 584.3L1184.0 584.3L1184.1 584.2L1184.3 584.2L1184.5 584.1L1184.6 584.0L1184.7 584.0L1184.9 583.9L1185.0 583.8L1185.1 583.8L1185.2 583.8L1185.4 583.7L1185.6 583.7L1185.8 583.7L1186.0 583.7L1186.1 583.7L1186.2 583.7L1186.4 583.7L1186.5 583.7L1186.6 583.7L1186.7 583.7L1186.8 583.7L1186.8 583.7L1186.9 583.6L1186.9 583.6L1187.0 583.6L1187.1 583.6L1187.1 583.6L1187.2 583.5L1187.2 583.5L1187.2 583.5L1187.3 583.4L1187.3 583.4L1187.4 583.3L1187.5 583.2L1187.5 583.2L1187.6 583.1L1187.6 583.0L1187.7 582.9L1187.7 582.9L1187.7 582.8L1187.8 582.6L1187.9 582.5L1187.9 582.4L1188.0 582.1L1188.0 581.7L1188.1 581.2L1188.2 580.5L1188.2 580.4L1188.2 580.2L1188.3 579.5L1188.4 578.1L1188.4 576.8L1188.4 576.1L1188.5 573.4L1188.6 569.8L1188.6 569.6L1188.7 565.0L1188.7 561.3L1188.8 558.7L1188.8 555.7L1188.8 550.7L1188.9 541.0L1189.0 532.4L1189.0 529.4L1189.1 515.7L1189.2 500.4L1189.2 498.5L1189.2 483.5L1189.3 480.7L1189.3 465.8L1189.4 457.3L1189.4 447.7L1189.5 430.2L1189.5 417.2L1189.6 414.4L1189.6 400.9L1189.7 390.5L1189.7 389.1L1189.8 385.6L1189.8 384.0L1189.9 381.8L1189.9 382.4L1190.0 384.0L1190.0 390.5L1190.1 399.4L1190.1 400.8L1190.2 414.4L1190.3 430.2L1190.3 434.2L1190.4 447.7L1190.4 465.9L1190.5 476.1L1190.5 483.5L1190.6 500.2L1190.7 514.8L1190.7 515.7L1190.8 529.3L1190.8 538.5L1190.8 541.1L1190.9 544.1L1190.9 550.8L1191.0 558.8L1191.0 562.9L1191.1 565.1L1191.2 569.9L1191.2 573.5L1191.3 576.2L1191.3 576.9L1191.4 578.2L1191.4 578.7L1191.5 579.6L1191.6 580.6L1191.6 581.2L1191.6 581.3L1191.7 581.9L1191.8 582.3L1191.8 582.3L1191.9 582.5L1191.9 582.6L1192.0 582.8L1192.0 582.9L1192.0 583.1L1192.1 583.2L1192.2 583.4L1192.2 583.4L1192.3 583.5L1192.4 583.7L1192.4 583.7L1192.4 583.7L1192.4 583.8L1192.5 583.9L1192.5 583.9L1192.6 584.0L1192.7 584.1L1192.7 584.1L1192.7 584.2L1192.8 584.2L1192.9 584.3L1192.9 584.3L1192.9 584.3L1193.0 584.4L1193.4 584.6L1193.9 584.7L1194.4 584.7L1194.5 584.7L1194.5 584.7L1194.6 584.7L1194.7 584.7L1194.8 584.7L1194.9 584.7L1195.0 584.7L1195.0 584.7L1195.1 584.7L1195.2 584.7L1195.4 584.7L1195.5 584.7L1195.5 584.7L1195.6 584.7L1195.7 584.7L1195.8 584.7L1195.9 584.7L1196.0 584.7L1196.0 584.7L1196.1 584.7L1196.2 584.7L1196.3 584.7L1196.4 584.7L1196.5 584.7L1196.6 584.7L1196.7 584.7L1196.8 584.6L1196.9 584.6L1197.0 584.6L1197.1 584.5L1197.1 584.5L1197.2 584.4L1197.3 584.3L1197.4 584.2L1197.5 584.1L1197.6 584.0L1197.6 583.9L1197.8 583.7L1197.9 583.6L1198.0 583.4L1198.1 583.2L1198.1 583.2L1198.2 583.1L1198.3 582.9L1198.4 582.8L1198.5 582.8L1198.6 582.7L1198.7 582.8L1198.9 582.8L1199.0 582.9L1199.1 583.1L1199.2 583.2L1199.2 583.2L1199.3 583.4L1199.4 583.6L1199.5 583.7L1199.6 583.9L1199.7 584.0L1199.7 584.1L1199.8 584.2L1199.9 584.3L1200.1 584.4L1200.2 584.5L1200.2 584.5L1200.3 584.6L1200.4 584.6L1200.5 584.6L1200.6 584.7L1200.7 584.7L1200.7 584.7L1200.8 584.7L1200.9 584.7L1201.0 584.7L1201.2 584.7L1201.2 584.7L1201.3 584.7L1201.4 584.7L1201.5 584.7L1201.6 584.7L1201.7 584.7L1201.8 584.7L1201.8 584.7L1201.9 584.7L1202.0 584.7L1202.1 584.7L1202.2 584.7L1202.3 584.7L1202.4 584.7L1202.5 584.7L1202.6 584.7L1202.7 584.7L1202.8 584.7L1202.8 584.7L1202.9 584.7L1203.3 584.7L1203.8 584.7L1204.4 584.7L1204.9 584.7L1205.4 584.7L1205.9 584.7L1206.5 584.7L1207.0 584.7L1207.5 584.7L1208.0 584.7L1208.5 584.7L1209.1 584.7L1209.6 584.7L1210.1 584.7L1210.6 584.7L1211.1 584.7L1211.7 584.7L1212.2 584.7L1212.7 584.7L1213.2 584.7L1213.6 584.7L1213.7 584.7L1213.7 584.7L1213.8 584.7L1213.9 584.7L1214.1 584.7L1214.2 584.7L1214.3 584.7L1214.3 584.7L1214.4 584.7L1214.6 584.7L1214.7 584.7L1214.8 584.7L1214.8 584.7L1214.9 584.7L1215.1 584.7L1215.2 584.7L1215.3 584.7L1215.4 584.7L1215.6 584.7L1215.7 584.7L1215.8 584.7L1215.8 584.7L1215.9 584.7L1216.1 584.7L1216.2 584.7L1216.3 584.6L1216.4 584.6L1216.4 584.6L1216.6 584.6L1216.7 584.5L1216.8 584.4L1216.9 584.4L1216.9 584.3L1217.1 584.2L1217.2 584.1L1217.3 583.9L1217.4 583.8L1217.4 583.7L1217.6 583.6L1217.7 583.4L1217.8 583.2L1217.9 583.1L1217.9 583.1L1218.1 582.9L1218.2 582.8L1218.3 582.8L1218.4 582.7L1218.6 582.8L1218.7 582.8L1218.8 582.9L1218.9 583.1L1219.0 583.1L1219.1 583.2L1219.2 583.4L1219.3 583.6L1219.4 583.7L1219.5 583.8L1219.6 583.9L1219.7 584.1L1219.8 584.2L1219.9 584.3L1220.0 584.4L1220.1 584.4L1220.2 584.5L1220.3 584.6L1220.4 584.6L1220.5 584.6L1220.6 584.6L1220.7 584.7L1220.8 584.7L1220.9 584.7L1221.0 584.7L1221.1 584.7L1221.2 584.7L1221.3 584.7L1221.4 584.7L1221.6 584.7L1221.7 584.7L1221.8 584.7L1221.9 584.7L1222.1 584.7L1222.1 584.7L1222.2 584.7L1222.3 584.7L1222.4 584.7L1222.6 584.7L1222.6 584.7L1222.7 584.7L1222.8 584.7L1222.9 584.7L1223.1 584.7L1223.1 584.7L1223.2 584.7L1223.3 584.7L1223.6 584.7L1224.2 584.7L1224.7 584.7L1225.2 584.7L1225.7 584.7L1226.3 584.7L1226.8 584.7L1227.3 584.7L1227.8 584.7L1228.3 584.7L1228.9 584.7L1229.4 584.7L1229.9 584.7L1230.4 584.7L1230.9 584.7L1231.5 584.7L1231.6 584.7L1231.8 584.7L1231.9 584.7L1232.0 584.7L1232.1 584.7L1232.2 584.7L1232.4 584.7L1232.5 584.7L1232.6 584.7L1232.7 584.7L1232.9 584.7L1233.0 584.7L1233.2 584.7L1233.3 584.7L1233.5 584.7L1233.6 584.7L1233.7 584.7L1233.8 584.7L1234.0 584.7L1234.1 584.7L1234.1 584.7L1234.3 584.7L1234.4 584.7L1234.6 584.7L1234.7 584.7L1234.9 584.7L1235.1 584.7L1235.1 584.7L1235.2 584.7L1235.4 584.7L1235.5 584.6L1235.6 584.6L1235.7 584.6L1235.8 584.5L1236.0 584.5L1236.2 584.4L1236.3 584.3L1236.5 584.2L1236.6 584.2L1236.7 584.1L1236.8 584.1L1236.9 584.0L1237.1 583.9L1237.2 583.8L1237.3 583.8L1237.4 583.7L1237.6 583.7L1237.7 583.7L1237.9 583.6L1238.0 583.6L1238.2 583.6L1238.2 583.6L1238.3 583.6L1238.4 583.6L1238.4 583.6L1238.5 583.6L1238.5 583.6L1238.6 583.6L1238.7 583.6L1238.7 583.6L1238.8 583.5L1238.8 583.5L1238.8 583.5L1238.8 583.5L1238.9 583.5L1239.0 583.4L1239.0 583.4L1239.1 583.4L1239.1 583.3L1239.2 583.3L1239.2 583.2L1239.3 583.2L1239.3 583.1L1239.4 583.0L1239.4 582.9L1239.5 582.8L1239.6 582.6L1239.6 582.5L1239.6 582.3L1239.7 581.9L1239.8 581.7L1239.8 581.4L1239.8 581.3L1239.9 580.6L1239.9 580.2L1240.0 579.5L1240.0 578.0L1240.1 577.3L1240.1 575.9L1240.2 573.1L1240.2 572.0L1240.3 569.3L1240.3 566.4L1240.4 564.4L1240.4 562.9L1240.4 558.2L1240.5 550.6L1240.5 548.6L1240.6 541.6L1240.7 530.9L1240.7 528.6L1240.8 519.0L1240.8 505.7L1240.8 503.6L1240.9 492.0L1241.0 477.9L1241.0 476.2L1241.1 464.2L1241.2 451.8L1241.2 450.9L1241.2 441.3L1241.3 433.2L1241.3 433.0L1241.4 429.4L1241.4 428.2L1241.5 426.4L1241.6 428.2L1241.6 433.0L1241.6 433.2L1241.7 441.2L1241.8 450.9L1241.8 451.9L1241.9 464.2L1241.9 467.3L1241.9 476.2L1242.0 477.9L1242.0 492.0L1242.1 503.6L1242.1 505.8L1242.2 518.8L1242.3 528.7L1242.3 530.9L1242.3 541.5L1242.4 548.7L1242.4 550.7L1242.5 558.3L1242.6 562.9L1242.6 564.5L1242.7 569.4L1242.7 572.1L1242.7 573.1L1242.8 576.0L1242.9 577.4L1242.9 578.1L1242.9 578.6L1243.0 579.6L1243.0 580.3L1243.1 580.7L1243.1 581.5L1243.2 581.9L1243.2 582.1L1243.3 582.5L1243.3 582.7L1243.4 582.8L1243.5 583.0L1243.5 583.1L1243.5 583.2L1243.5 583.3L1243.6 583.4L1243.7 583.5L1243.7 583.6L1243.8 583.7L1243.8 583.7L1243.9 583.8L1243.9 583.9L1244.0 583.9L1244.0 584.0L1244.1 584.1L1244.2 584.2L1244.3 584.2L1244.3 584.3L1244.4 584.3L1244.5 584.4L1244.5 584.4L1244.6 584.4L1245.0 584.6L1245.5 584.7L1246.1 584.7L1246.6 584.7L1247.1 584.7L1247.6 584.7L1248.1 584.7L1248.7 584.7L1249.2 584.7L1249.7 584.7L1250.2 584.7L1250.7 584.7L1251.3 584.7L1251.8 584.7L1252.3 584.7L1252.8 584.7L1253.4 584.7L1253.9 584.7L1254.4 584.7L1254.9 584.7L1255.4 584.7L1256.0 584.7L1256.5 584.7L1257.0 584.7L1257.5 584.7L1258.0 584.7L1258.6 584.7L1259.1 584.7L1259.6 584.7L1260.1 584.7L1260.7 584.7L1261.2 584.7L1261.7 584.7L1262.2 584.7L1262.7 584.7L1263.3 584.7L1263.8 584.7L1263.9 584.7L1264.1 584.7L1264.2 584.7L1264.3 584.7L1264.4 584.7L1264.6 584.7L1264.7 584.7L1264.8 584.7L1264.9 584.7L1265.0 584.7L1265.2 584.7L1265.3 584.7L1265.5 584.7L1265.7 584.7L1265.8 584.7L1265.9 584.7L1266.0 584.7L1266.1 584.7L1266.3 584.7L1266.4 584.7L1266.4 584.7L1266.6 584.7L1266.7 584.7L1266.9 584.7L1267.1 584.7L1267.2 584.7L1267.4 584.6L1267.4 584.6L1267.5 584.6L1267.7 584.6L1267.8 584.5L1267.9 584.5L1268.0 584.4L1268.2 584.3L1268.3 584.2L1268.5 584.1L1268.6 584.0L1268.8 583.8L1268.9 583.6L1269.0 583.6L1269.1 583.5L1269.2 583.3L1269.4 583.2L1269.5 583.1L1269.6 583.0L1269.7 582.9L1269.9 582.9L1270.0 582.9L1270.2 582.9L1270.3 582.9L1270.5 583.0L1270.6 583.1L1270.7 583.2L1270.8 583.3L1271.0 583.5L1271.1 583.6L1271.1 583.6L1271.3 583.8L1271.4 584.0L1271.6 584.1L1271.8 584.2L1271.9 584.3L1272.1 584.4L1272.1 584.5L1272.2 584.5L1272.4 584.6L1272.5 584.6L1272.6 584.6L1272.7 584.6L1272.8 584.7L1273.0 584.7L1273.2 584.7L1273.3 584.7L1273.5 584.7L1273.6 584.7L1273.7 584.7L1273.8 584.7L1273.9 584.7L1274.1 584.7L1274.2 584.7L1274.3 584.7" fill="none" stroke="#3a3ab0" stroke-width="1" stroke-linejoin="round"/>
<path d="M1050 585.1H1467" stroke="#3a3a3a" stroke-width="1.3" opacity="0.5"/>
<g font-family='"Liberation Serif", serif' font-weight="bold" font-size="10.1" fill="#111" stroke="#111" stroke-width="0.22"><text x="1194.5" y="376.58" text-anchor="middle">143.89</text><text x="1244.5" y="423.38" text-anchor="middle">193.30</text></g>
<text x="1431.6" y="355.92" text-anchor="middle" font-family='"Liberation Serif", serif' font-weight="bold" font-size="14" fill="#111" stroke="#111" stroke-width="0.22">G</text>
<text transform="translate(997.8,420.4) rotate(90)" text-anchor="middle" font-family='"Liberation Serif", serif' font-weight="bold" font-size="10.1" fill="#111" stroke="#111" stroke-width="0.42">Dye Signal</text>
<text x="1253.2" y="620.85" text-anchor="middle" font-family='"Liberation Serif", serif' font-weight="bold" font-size="9.6" fill="#111" stroke="#111" stroke-width="0.22">Size (nt)</text>
<polyline points="1256.5,621.9 1257.7,623.1 1258.9,621.9 1260.1,623.1 1261.3,621.9 1262.5,623.1 1263.7,621.9 1264.9,623.1 1266.1,621.9" fill="none" stroke="#e05a5a" stroke-width="0.8" opacity="0.6"/></g>
<g id="pH"><rect x="1525.7" y="335.9" width="362.7" height="256.5" fill="none" stroke="#3a3a3a" stroke-width="1.3"/>
<path d="M1530.07 589.4V592.4M1539.11 589.4V592.4M1548.16 589.4V592.4M1557.2 588.4V597.4M1566.24 589.4V592.4M1575.29 589.4V592.4M1584.33 589.4V592.4M1593.37 589.4V592.4M1602.41 588.4V597.4M1611.46 589.4V592.4M1620.5 589.4V592.4M1629.54 589.4V592.4M1638.59 589.4V592.4M1647.63 588.4V597.4M1656.67 589.4V592.4M1665.71 589.4V592.4M1674.76 589.4V592.4M1683.8 589.4V592.4M1692.84 588.4V597.4M1701.89 589.4V592.4M1710.93 589.4V592.4M1719.97 589.4V592.4M1729.01 589.4V592.4M1738.06 588.4V597.4M1747.1 589.4V592.4M1756.14 589.4V592.4M1765.19 589.4V592.4M1774.23 589.4V592.4M1783.27 588.4V597.4M1792.31 589.4V592.4M1801.36 589.4V592.4M1810.4 589.4V592.4M1819.44 589.4V592.4M1828.49 588.4V597.4M1837.53 589.4V592.4M1846.57 589.4V592.4M1855.61 589.4V592.4M1864.66 589.4V592.4M1873.7 588.4V597.4M1882.74 589.4V592.4M1522.7 592.4H1529.2M1525.7 588.12H1529.2M1525.7 583.85H1529.2M1525.7 579.57H1529.2M1525.7 575.3H1529.2M1522.7 571.02H1529.2M1525.7 566.75H1529.2M1525.7 562.48H1529.2M1525.7 558.2H1529.2M1525.7 553.92H1529.2M1522.7 549.65H1529.2M1525.7 545.38H1529.2M1525.7 541.1H1529.2M1525.7 536.82H1529.2M1525.7 532.55H1529.2M1522.7 528.27H1529.2M1525.7 524H1529.2M1525.7 519.73H1529.2M1525.7 515.45H1529.2M1525.7 511.17H1529.2M1522.7 506.9H1529.2M1525.7 502.62H1529.2M1525.7 498.35H1529.2M1525.7 494.07H1529.2M1525.7 489.8H1529.2M1522.7 485.52H1529.2M1525.7 481.25H1529.2M1525.7 476.97H1529.2M1525.7 472.7H1529.2M1525.7 468.42H1529.2M1522.7 464.15H1529.2M1525.7 459.88H1529.2M1525.7 455.6H1529.2M1525.7 451.32H1529.2M1525.7 447.05H1529.2M1522.7 442.77H1529.2M1525.7 438.5H1529.2M1525.7 434.22H1529.2M1525.7 429.95H1529.2M1525.7 425.67H1529.2M1522.7 421.4H1529.2M1525.7 417.12H1529.2M1525.7 412.85H1529.2M1525.7 408.57H1529.2M1525.7 404.3H1529.2M1522.7 400.02H1529.2M1525.7 395.75H1529.2M1525.7 391.47H1529.2M1525.7 387.2H1529.2M1525.7 382.92H1529.2M1522.7 378.65H1529.2M1525.7 374.38H1529.2M1525.7 370.1H1529.2M1525.7 365.82H1529.2M1525.7 361.55H1529.2M1522.7 357.27H1529.2M1525.7 353H1529.2M1525.7 348.72H1529.2M1525.7 344.45H1529.2M1525.7 340.17H1529.2M1522.7 335.9H1529.2" stroke="#262626" stroke-width="1.2" fill="none"/>
<g font-family='"Liberation Serif", serif' font-weight="bold" font-size="8.4" fill="#111" stroke="#111" stroke-width="0.22"><text x="1557.2" y="608.01" text-anchor="middle">50</text><text x="1602.41" y="608.01" text-anchor="middle">100</text><text x="1647.63" y="608.01" text-anchor="middle">150</text><text x="1692.84" y="608.01" text-anchor="middle">200</text><text x="1738.06" y="608.01" text-anchor="middle">250</text><text x="1783.27" y="608.01" text-anchor="middle">300</text><text x="1828.49" y="608.01" text-anchor="middle">350</text><text x="1873.7" y="608.01" text-anchor="middle">400</text><text x="1517.1" y="597.61" text-anchor="end" font-size="8.4">0</text><text x="1520.8" y="575.34" text-anchor="end" font-size="8.4">10000</text><text x="1520.8" y="553.96" text-anchor="end" font-size="8.4">20000</text><text x="1520.8" y="532.59" text-anchor="end" font-size="8.4">30000</text><text x="1520.8" y="511.21" text-anchor="end" font-size="8.4">40000</text><text x="1520.8" y="489.84" text-anchor="end" font-size="8.4">50000</text><text x="1520.8" y="468.46" text-anchor="end" font-size="8.4">60000</text><text x="1520.8" y="447.09" text-anchor="end" font-size="8.4">70000</text><text x="1520.8" y="425.71" text-anchor="end" font-size="8.4">80000</text><text x="1520.8" y="404.34" text-anchor="end" font-size="8.4">90000</text><text x="1520.8" y="382.96" text-anchor="end" font-size="8.4">100000</text><text x="1520.8" y="361.59" text-anchor="end" font-size="8.4">110000</text><text x="1520.8" y="340.21" text-anchor="end" font-size="8.4">120000</text></g>
<path d="M1582.1 592.0L1582.5 592.0L1583.0 592.0L1583.0 592.0L1583.0 592.0L1583.1 592.0L1583.2 592.0L1583.3 592.0L1583.4 592.0L1583.4 592.0L1583.5 592.0L1583.5 592.0L1583.6 592.0L1583.7 592.0L1583.8 592.0L1583.9 592.0L1583.9 592.0L1583.9 592.0L1584.0 592.0L1584.1 592.0L1584.2 592.0L1584.3 592.0L1584.3 592.0L1584.3 592.0L1584.4 592.0L1584.5 592.0L1584.6 592.0L1584.7 591.9L1584.8 591.9L1584.8 591.9L1584.8 591.9L1584.9 591.8L1585.0 591.7L1585.1 591.6L1585.2 591.5L1585.2 591.4L1585.2 591.4L1585.3 591.2L1585.4 591.0L1585.5 590.8L1585.6 590.5L1585.6 590.3L1585.7 590.2L1585.7 590.1L1585.8 589.9L1585.9 589.7L1586.0 589.6L1586.1 589.5L1586.1 589.5L1586.2 589.5L1586.3 589.6L1586.4 589.7L1586.5 589.9L1586.5 590.1L1586.6 590.2L1586.6 590.3L1586.7 590.5L1586.8 590.8L1586.9 591.0L1587.0 591.2L1587.0 591.4L1587.0 591.4L1587.1 591.5L1587.2 591.6L1587.3 591.7L1587.4 591.8L1587.4 591.9L1587.5 591.9L1587.5 591.9L1587.6 591.9L1587.7 592.0L1587.8 592.0L1587.8 592.0L1587.9 592.0L1587.9 592.0L1588.0 592.0L1588.1 592.0L1588.2 592.0L1588.3 592.0L1588.3 592.0L1588.4 592.0L1588.4 592.0L1588.5 592.0L1588.6 592.0L1588.7 592.0L1588.7 592.0L1588.8 592.0L1588.9 592.0L1588.9 592.0L1589.0 592.0L1589.1 592.0L1589.1 592.0L1589.2 592.0L1589.3 592.0L1589.3 592.0L1589.8 592.0L1590.2 592.0L1590.7 592.0L1591.1 592.0L1591.6 592.0L1592.0 592.0L1592.5 592.0L1592.9 592.0L1593.4 592.0L1593.8 592.0L1594.3 592.0L1594.7 592.0L1595.2 592.0L1595.6 592.0L1596.1 592.1L1596.5 592.1L1597.0 592.1L1597.4 592.1L1597.9 592.1L1598.3 592.1L1598.8 592.1L1599.2 592.1L1599.7 592.1L1600.2 592.1L1600.6 592.1L1601.1 592.1L1601.5 592.1L1602.0 592.1L1602.4 592.1L1602.9 592.1L1603.3 592.1L1603.8 592.1L1604.2 592.1L1604.7 592.0L1605.1 592.0L1605.6 592.0L1606.0 592.0L1606.5 592.0L1606.9 592.0L1607.4 592.0L1607.8 592.0L1608.3 592.0L1608.7 592.0L1609.2 592.0L1609.2 592.0L1609.3 592.0L1609.3 592.0L1609.4 592.0L1609.5 592.0L1609.5 592.0L1609.6 592.0L1609.6 592.0L1609.6 592.0L1609.7 592.0L1609.7 592.0L1609.8 592.0L1609.9 592.0L1609.9 592.0L1610.0 592.0L1610.0 592.0L1610.1 592.0L1610.1 592.0L1610.1 592.0L1610.2 592.0L1610.3 591.9L1610.3 591.9L1610.4 591.9L1610.4 591.8L1610.5 591.8L1610.5 591.7L1610.6 591.6L1610.6 591.5L1610.7 591.4L1610.7 591.2L1610.8 590.9L1610.8 590.6L1610.9 590.2L1610.9 589.8L1611.0 589.4L1611.0 589.4L1611.1 588.9L1611.1 588.4L1611.2 588.0L1611.2 587.6L1611.3 587.2L1611.3 586.9L1611.4 586.8L1611.5 586.7L1611.5 586.8L1611.6 586.9L1611.6 587.2L1611.7 587.6L1611.7 588.0L1611.8 588.4L1611.9 588.9L1611.9 589.4L1611.9 589.4L1612.0 589.8L1612.0 590.2L1612.1 590.6L1612.1 590.9L1612.2 591.2L1612.3 591.4L1612.3 591.5L1612.4 591.6L1612.4 591.7L1612.4 591.8L1612.5 591.8L1612.5 591.9L1612.6 591.9L1612.7 591.9L1612.7 592.0L1612.8 592.0L1612.8 592.0L1612.8 592.0L1612.9 592.0L1612.9 592.0L1613.0 592.0L1613.1 592.0L1613.1 592.0L1613.2 592.0L1613.2 592.0L1613.3 592.0L1613.3 592.0L1613.3 592.0L1613.4 592.0L1613.5 592.0L1613.5 592.0L1613.6 592.0L1613.6 592.0L1613.7 592.0L1613.7 592.0L1614.2 592.0L1614.6 592.0L1615.1 592.0L1615.5 592.0L1616.0 592.0L1616.4 592.0L1616.9 592.0L1617.3 592.0L1617.8 592.0L1618.2 592.0L1618.7 591.9L1618.8 591.8L1618.8 591.8L1618.9 591.8L1618.9 591.7L1619.0 591.7L1619.1 591.6L1619.1 591.6L1619.1 591.5L1619.2 591.5L1619.2 591.4L1619.3 591.4L1619.4 591.3L1619.4 591.2L1619.5 591.1L1619.5 591.0L1619.6 590.9L1619.6 590.8L1619.7 590.7L1619.7 590.4L1619.8 590.1L1619.9 589.7L1619.9 589.1L1620.0 588.3L1620.0 587.2L1620.0 586.9L1620.1 585.7L1620.2 583.6L1620.2 580.9L1620.3 577.4L1620.3 572.9L1620.4 567.4L1620.5 560.9L1620.5 556.1L1620.5 553.1L1620.6 544.3L1620.6 534.9L1620.7 524.8L1620.8 514.7L1620.8 504.9L1620.9 495.9L1621.0 488.2L1621.0 488.0L1621.0 482.4L1621.1 478.7L1621.1 477.5L1621.2 478.7L1621.3 482.4L1621.3 488.3L1621.4 495.9L1621.4 499.7L1621.4 504.9L1621.5 514.7L1621.6 524.8L1621.6 534.9L1621.7 544.5L1621.7 553.1L1621.8 560.9L1621.9 566.5L1621.9 567.4L1621.9 572.9L1622.0 577.4L1622.0 580.9L1622.1 583.6L1622.2 585.7L1622.2 587.2L1622.3 588.3L1622.3 588.6L1622.4 589.1L1622.4 589.7L1622.5 590.1L1622.5 590.4L1622.6 590.7L1622.7 590.8L1622.7 591.0L1622.8 591.1L1622.8 591.1L1622.8 591.2L1622.9 591.3L1623.0 591.4L1623.0 591.4L1623.1 591.5L1623.1 591.6L1623.2 591.6L1623.2 591.6L1623.3 591.7L1623.3 591.7L1623.4 591.8L1623.5 591.8L1623.5 591.8L1623.7 591.9L1624.1 592.0L1624.6 592.0L1625.0 592.0L1625.5 592.0L1625.9 592.0L1626.4 592.0L1626.8 592.0L1627.3 592.0L1627.7 592.0L1628.2 592.0L1628.6 592.0L1629.1 592.1L1629.5 592.1L1630.0 592.1L1630.4 592.1L1630.9 592.1L1631.4 592.1L1631.8 592.1L1632.3 592.1L1632.7 592.1L1633.2 592.1L1633.6 592.1L1634.1 592.1L1634.5 592.1L1635.0 592.1L1635.4 592.1L1635.9 592.1L1636.3 592.0L1636.8 592.0L1637.2 592.0L1637.7 592.0L1638.1 592.0L1638.6 592.0L1639.0 592.0L1639.5 592.0L1639.9 592.0L1640.4 592.0L1640.8 592.0L1641.3 592.0L1641.8 592.0L1642.2 592.0L1642.6 592.0L1642.7 592.0L1642.7 592.0L1642.8 592.0L1642.9 592.0L1643.0 592.0L1643.1 592.0L1643.1 592.0L1643.1 592.0L1643.2 592.0L1643.3 592.0L1643.4 592.0L1643.5 592.0L1643.5 592.0L1643.6 592.0L1643.6 592.0L1643.7 592.0L1643.8 592.0L1643.9 592.0L1643.9 592.0L1644.0 592.0L1644.0 592.0L1644.1 592.0L1644.2 592.0L1644.3 591.9L1644.4 591.9L1644.4 591.9L1644.5 591.9L1644.5 591.8L1644.6 591.7L1644.7 591.6L1644.8 591.5L1644.8 591.4L1644.9 591.2L1644.9 591.2L1645.0 591.0L1645.1 590.7L1645.2 590.4L1645.3 590.2L1645.3 589.9L1645.4 589.8L1645.4 589.6L1645.5 589.4L1645.6 589.1L1645.7 589.0L1645.7 588.9L1645.8 588.8L1645.9 588.9L1646.0 589.0L1646.1 589.1L1646.1 589.4L1646.2 589.6L1646.3 589.7L1646.3 589.8L1646.3 589.9L1646.3 590.0L1646.4 590.2L1646.4 590.3L1646.5 590.4L1646.5 590.6L1646.6 590.7L1646.6 590.8L1646.6 591.0L1646.7 591.0L1646.7 591.2L1646.7 591.2L1646.8 591.3L1646.8 591.3L1646.8 591.4L1646.9 591.5L1646.9 591.6L1647.0 591.6L1647.0 591.7L1647.0 591.7L1647.1 591.8L1647.1 591.8L1647.2 591.8L1647.2 591.8L1647.2 591.9L1647.2 591.9L1647.3 591.9L1647.3 591.9L1647.4 591.9L1647.4 591.9L1647.4 591.9L1647.5 591.9L1647.5 592.0L1647.6 592.0L1647.6 592.0L1647.6 592.0L1647.6 592.0L1647.7 592.0L1647.7 592.0L1647.8 592.0L1647.8 591.9L1647.9 591.9L1647.9 591.9L1647.9 591.9L1648.0 591.9L1648.0 591.9L1648.1 591.9L1648.1 591.9L1648.1 591.9L1648.1 591.8L1648.2 591.8L1648.2 591.8L1648.3 591.7L1648.3 591.7L1648.3 591.7L1648.4 591.6L1648.4 591.5L1648.5 591.5L1648.5 591.4L1648.5 591.4L1648.5 591.3L1648.6 591.2L1648.6 591.2L1648.7 591.1L1648.7 591.0L1648.7 590.9L1648.8 590.8L1648.8 590.6L1648.9 590.5L1648.9 590.4L1648.9 590.3L1649.0 590.2L1649.0 590.2L1649.0 590.1L1649.1 589.9L1649.2 589.7L1649.3 589.6L1649.4 589.5L1649.4 589.5L1649.5 589.5L1649.6 589.6L1649.7 589.7L1649.8 589.9L1649.8 590.1L1649.9 590.2L1649.9 590.3L1650.0 590.5L1650.1 590.8L1650.2 591.0L1650.3 591.2L1650.3 591.3L1650.3 591.4L1650.4 591.5L1650.5 591.6L1650.6 591.7L1650.7 591.8L1650.7 591.9L1650.8 591.9L1650.8 591.9L1650.9 591.9L1651.0 592.0L1651.1 592.0L1651.1 592.0L1651.2 592.0L1651.2 592.0L1651.3 592.0L1651.4 592.0L1651.5 592.0L1651.6 592.0L1651.6 592.0L1651.7 592.0L1651.7 592.0L1651.8 592.0L1651.9 592.0L1652.0 592.0L1652.0 592.0L1652.1 592.0L1652.2 592.0L1652.2 592.0L1652.3 592.0L1652.4 592.0L1652.4 592.0L1652.5 592.0L1652.6 592.0L1652.6 592.0L1653.1 592.0L1653.5 592.0L1654.0 592.0L1654.4 592.0L1654.9 592.0L1655.3 592.0L1655.8 592.0L1656.2 592.0L1656.7 592.0L1657.1 592.0L1657.6 592.0L1658.0 592.0L1658.5 592.0L1658.9 592.0L1659.4 592.0L1659.8 592.0L1660.3 592.0L1660.7 592.0L1661.2 592.0L1661.6 592.0L1662.1 592.0L1662.5 592.0L1663.0 592.0L1663.4 592.0L1663.5 592.0L1663.5 592.0L1663.6 592.0L1663.7 592.0L1663.8 592.0L1663.9 592.0L1663.9 592.0L1663.9 592.0L1664.0 592.0L1664.1 592.0L1664.2 592.0L1664.3 592.0L1664.3 592.0L1664.4 592.0L1664.4 592.0L1664.5 592.0L1664.6 592.0L1664.7 592.0L1664.7 592.0L1664.8 592.0L1664.8 592.0L1664.9 592.0L1665.0 592.0L1665.1 592.0L1665.2 591.9L1665.2 591.9L1665.3 591.9L1665.3 591.9L1665.4 591.8L1665.5 591.7L1665.6 591.6L1665.6 591.5L1665.7 591.4L1665.7 591.4L1665.8 591.2L1665.9 591.0L1666.0 590.8L1666.0 590.5L1666.1 590.3L1666.2 590.2L1666.2 590.1L1666.3 589.9L1666.4 589.7L1666.5 589.6L1666.5 589.5L1666.6 589.5L1666.7 589.5L1666.8 589.6L1666.9 589.7L1666.9 589.9L1667.0 590.1L1667.1 590.2L1667.1 590.3L1667.2 590.5L1667.3 590.8L1667.4 591.0L1667.4 591.2L1667.5 591.4L1667.5 591.4L1667.6 591.5L1667.7 591.6L1667.8 591.7L1667.8 591.8L1667.9 591.9L1668.0 591.9L1668.0 591.9L1668.1 591.9L1668.2 592.0L1668.2 592.0L1668.3 592.0L1668.4 592.0L1668.4 592.0L1668.5 592.0L1668.6 592.0L1668.7 592.0L1668.7 592.0L1668.8 592.0L1668.9 592.0L1668.9 592.0L1669.0 592.0L1669.1 592.0L1669.1 592.0L1669.2 592.0L1669.3 592.0L1669.3 592.0L1669.4 592.0L1669.5 592.0L1669.5 592.0L1669.6 592.0L1669.7 592.0L1669.8 592.0L1669.8 592.0L1670.2 592.0L1670.7 592.0L1671.1 592.0L1671.6 592.0L1672.0 592.0L1672.5 592.0L1672.9 592.0L1673.4 592.0L1673.9 592.0L1674.3 592.0L1674.8 592.0L1675.2 592.0L1675.7 592.0L1676.1 592.0L1676.6 592.0L1677.0 592.0L1677.5 592.0L1677.9 592.0L1678.4 592.0L1678.8 592.0L1679.3 592.0L1679.7 592.0L1680.2 592.0L1680.6 592.0L1680.6 592.0L1680.7 592.0L1680.8 592.0L1680.9 592.0L1681.0 592.0L1681.0 592.0L1681.1 592.0L1681.1 592.0L1681.2 592.0L1681.3 592.0L1681.4 592.0L1681.4 592.0L1681.5 592.0L1681.5 592.0L1681.6 592.0L1681.7 592.0L1681.8 592.0L1681.8 592.0L1681.9 592.0L1682.0 592.0L1682.0 592.0L1682.1 592.0L1682.2 592.0L1682.3 592.0L1682.3 592.0L1682.4 591.9L1682.4 591.9L1682.5 591.9L1682.6 591.8L1682.7 591.8L1682.7 591.7L1682.8 591.6L1682.9 591.5L1682.9 591.5L1683.0 591.3L1683.1 591.2L1683.1 591.0L1683.2 590.8L1683.3 590.6L1683.3 590.5L1683.4 590.4L1683.5 590.2L1683.6 590.1L1683.6 590.0L1683.7 589.9L1683.8 589.9L1683.9 589.9L1684.0 589.9L1684.0 590.0L1684.1 590.2L1684.2 590.3L1684.3 590.4L1684.3 590.5L1684.4 590.6L1684.5 590.8L1684.5 590.9L1684.6 591.0L1684.6 591.1L1684.7 591.1L1684.7 591.1L1684.7 591.1L1684.8 591.2L1684.8 591.2L1684.8 591.2L1684.9 591.2L1684.9 591.2L1684.9 591.2L1685.0 591.2L1685.0 591.2L1685.0 591.2L1685.1 591.2L1685.1 591.2L1685.2 591.1L1685.2 591.1L1685.2 591.1L1685.3 591.0L1685.3 591.0L1685.3 591.0L1685.3 590.9L1685.4 590.9L1685.4 590.8L1685.5 590.7L1685.5 590.6L1685.5 590.6L1685.6 590.4L1685.6 590.4L1685.6 590.4L1685.7 590.2L1685.7 590.1L1685.7 589.9L1685.8 589.8L1685.8 589.5L1685.8 589.3L1685.9 588.9L1685.9 588.5L1685.9 588.2L1686.0 587.4L1686.0 587.1L1686.1 586.1L1686.1 585.7L1686.1 585.6L1686.2 583.6L1686.2 583.3L1686.2 580.8L1686.2 579.8L1686.3 577.2L1686.3 575.0L1686.4 572.5L1686.4 568.7L1686.4 566.5L1686.5 560.5L1686.5 559.2L1686.5 557.3L1686.6 550.3L1686.6 550.2L1686.6 540.2L1686.6 538.0L1686.7 528.5L1686.7 524.0L1686.8 515.9L1686.8 508.6L1686.8 502.6L1686.9 492.7L1686.9 489.0L1687.0 478.8L1687.0 477.2L1687.0 475.8L1687.1 463.9L1687.1 453.7L1687.2 446.0L1687.3 441.1L1687.3 439.4L1687.4 441.1L1687.4 442.3L1687.5 446.0L1687.5 453.8L1687.6 463.9L1687.7 475.8L1687.7 489.0L1687.8 502.6L1687.9 513.8L1687.9 515.9L1687.9 528.7L1688.0 540.2L1688.1 550.5L1688.2 559.2L1688.2 566.5L1688.3 572.5L1688.3 574.4L1688.4 577.2L1688.4 580.9L1688.5 583.6L1688.6 585.6L1688.6 587.1L1688.7 588.2L1688.8 588.9L1688.8 588.9L1688.8 589.5L1688.9 589.9L1689.0 590.2L1689.1 590.4L1689.1 590.6L1689.2 590.8L1689.2 590.8L1689.3 590.9L1689.3 591.0L1689.4 591.1L1689.5 591.2L1689.5 591.3L1689.6 591.4L1689.7 591.5L1689.7 591.5L1689.7 591.5L1689.8 591.6L1689.9 591.7L1690.0 591.7L1690.0 591.8L1690.1 591.8L1690.6 592.0L1691.0 592.0L1691.5 592.0L1691.9 592.0L1692.4 592.0L1692.8 592.0L1693.3 592.0L1693.7 592.0L1694.2 592.0L1694.7 592.0L1695.1 592.0L1695.6 592.0L1696.0 592.0L1696.5 592.1L1696.9 592.1L1697.4 592.1L1697.8 592.1L1698.3 592.1L1698.7 592.1L1699.2 592.1L1699.6 592.1L1700.1 592.1L1700.5 592.1L1701.0 592.1L1701.4 592.1L1701.9 592.1L1702.3 592.1L1702.8 592.1L1703.2 592.1L1703.7 592.1L1704.1 592.1L1704.6 592.1L1705.1 592.1L1705.5 592.1L1706.0 592.1L1706.4 592.1L1706.9 592.0L1707.3 592.0L1707.8 592.0L1708.2 592.0L1708.7 592.0L1709.1 592.0L1709.6 592.0L1710.0 592.0L1710.5 592.0L1710.9 592.0L1711.4 592.0L1711.8 592.0L1712.3 592.0L1712.7 592.0L1713.2 592.0L1713.2 592.0L1713.3 592.0L1713.3 592.0L1713.4 592.0L1713.5 592.0L1713.6 592.0L1713.6 592.0L1713.7 592.0L1713.7 592.0L1713.8 592.0L1713.9 592.0L1714.0 592.0L1714.1 592.0L1714.1 592.0L1714.2 592.0L1714.2 592.0L1714.3 592.0L1714.4 592.0L1714.5 592.0L1714.5 592.0L1714.6 592.0L1714.6 591.9L1714.7 591.9L1714.8 591.9L1714.9 591.8L1715.0 591.8L1715.0 591.7L1715.1 591.7L1715.1 591.5L1715.2 591.4L1715.3 591.2L1715.4 590.9L1715.5 590.6L1715.5 590.6L1715.5 590.2L1715.6 589.8L1715.7 589.4L1715.8 588.9L1715.9 588.4L1715.9 588.2L1715.9 588.0L1716.0 587.6L1716.1 587.2L1716.2 586.9L1716.3 586.8L1716.4 586.7L1716.4 586.8L1716.5 586.9L1716.6 587.2L1716.7 587.6L1716.8 588.0L1716.8 588.2L1716.8 588.4L1716.9 588.9L1717.0 589.4L1717.1 589.8L1717.2 590.2L1717.2 590.6L1717.3 590.6L1717.3 590.9L1717.4 591.2L1717.5 591.4L1717.6 591.5L1717.7 591.7L1717.7 591.7L1717.7 591.8L1717.8 591.8L1717.9 591.9L1718.0 591.9L1718.1 591.9L1718.1 592.0L1718.2 592.0L1718.2 592.0L1718.3 592.0L1718.4 592.0L1718.5 592.0L1718.6 592.0L1718.6 592.0L1718.6 592.0L1718.7 592.0L1718.8 592.0L1718.9 592.0L1719.0 592.0L1719.0 592.0L1719.1 592.0L1719.1 592.0L1719.2 592.0L1719.3 592.0L1719.4 592.0L1719.4 592.0L1719.5 592.0L1719.5 592.0L1720.0 592.0L1720.4 592.0L1720.9 592.0L1721.3 592.0L1721.8 592.0L1722.2 592.0" fill="none" stroke="#3a3ab0" stroke-width="1" stroke-linejoin="round"/>
<path d="M1525.7 592.4H1888.4" stroke="#3a3a3a" stroke-width="1.3" opacity="0.5"/>
<g font-family='"Liberation Serif", serif' font-weight="bold" font-size="8.7" fill="#111" stroke="#111" stroke-width="0.22"><text x="1622.9" y="472.61" text-anchor="middle">119.65</text><text x="1692.3" y="435.51" text-anchor="middle">193.18</text></g>
<text x="1858.4" y="365.59" text-anchor="middle" font-family='"Liberation Serif", serif' font-weight="bold" font-size="13" fill="#111" stroke="#111" stroke-width="0.22">H</text>
<text transform="translate(1479.8,430.8) rotate(90)" text-anchor="middle" font-family='"Liberation Serif", serif' font-weight="bold" font-size="10.2" fill="#111" stroke="#111" stroke-width="0.42">Dye Signal</text>
<text x="1695.5" y="625.69" text-anchor="middle" font-family='"Liberation Serif", serif' font-weight="bold" font-size="8.6" fill="#111" stroke="#111" stroke-width="0.22">Size (nt)</text>
<polyline points="1698.5,626.8 1699.7,628.0 1700.9,626.8 1702.1,628.0 1703.3,626.8 1704.5,628.0 1705.7,626.8 1706.9,628.0" fill="none" stroke="#e05a5a" stroke-width="0.8" opacity="0.6"/></g>
<g id="pI"><rect x="58.15" y="651.4" width="406.95" height="266.9" fill="none" stroke="#3a3a3a" stroke-width="1.3"/>
<path d="M58.2 914.3V923.3M68.37 915.3V918.3M78.55 915.3V918.3M88.72 915.3V918.3M98.89 915.3V918.3M109.06 914.3V923.3M119.23 915.3V918.3M129.41 915.3V918.3M139.58 915.3V918.3M149.75 915.3V918.3M159.93 914.3V923.3M170.1 915.3V918.3M180.27 915.3V918.3M190.44 915.3V918.3M200.62 915.3V918.3M210.79 914.3V923.3M220.96 915.3V918.3M231.13 915.3V918.3M241.31 915.3V918.3M251.48 915.3V918.3M261.65 914.3V923.3M271.82 915.3V918.3M282 915.3V918.3M292.17 915.3V918.3M302.34 915.3V918.3M312.51 914.3V923.3M322.69 915.3V918.3M332.86 915.3V918.3M343.03 915.3V918.3M353.2 915.3V918.3M363.38 914.3V923.3M373.55 915.3V918.3M383.72 915.3V918.3M393.89 915.3V918.3M404.06 915.3V918.3M414.24 914.3V923.3M424.41 915.3V918.3M434.58 915.3V918.3M444.75 915.3V918.3M454.93 915.3V918.3M465.1 914.3V923.3M55.15 918.3H61.65M58.15 912.96H61.65M58.15 907.62H61.65M58.15 902.29H61.65M58.15 896.95H61.65M55.15 891.61H61.65M58.15 886.27H61.65M58.15 880.93H61.65M58.15 875.6H61.65M58.15 870.26H61.65M55.15 864.92H61.65M58.15 859.58H61.65M58.15 854.24H61.65M58.15 848.91H61.65M58.15 843.57H61.65M55.15 838.23H61.65M58.15 832.89H61.65M58.15 827.55H61.65M58.15 822.22H61.65M58.15 816.88H61.65M55.15 811.54H61.65M58.15 806.2H61.65M58.15 800.86H61.65M58.15 795.53H61.65M58.15 790.19H61.65M55.15 784.85H61.65M58.15 779.51H61.65M58.15 774.17H61.65M58.15 768.84H61.65M58.15 763.5H61.65M55.15 758.16H61.65M58.15 752.82H61.65M58.15 747.48H61.65M58.15 742.15H61.65M58.15 736.81H61.65M55.15 731.47H61.65M58.15 726.13H61.65M58.15 720.79H61.65M58.15 715.46H61.65M58.15 710.12H61.65M55.15 704.78H61.65M58.15 699.44H61.65M58.15 694.1H61.65M58.15 688.77H61.65M58.15 683.43H61.65M55.15 678.09H61.65M58.15 672.75H61.65M58.15 667.41H61.65M58.15 662.08H61.65M58.15 656.74H61.65M55.15 651.4H61.65" stroke="#262626" stroke-width="1.2" fill="none"/>
<g font-family='"Liberation Serif", serif' font-weight="bold" font-size="9.6" fill="#111" stroke="#111" stroke-width="0.22"><text x="57.1" y="934.42" text-anchor="middle">0</text><text x="107.96" y="934.42" text-anchor="middle">50</text><text x="158.83" y="934.42" text-anchor="middle">100</text><text x="209.69" y="934.42" text-anchor="middle">150</text><text x="260.55" y="934.42" text-anchor="middle">200</text><text x="311.41" y="934.42" text-anchor="middle">250</text><text x="362.27" y="934.42" text-anchor="middle">300</text><text x="413.14" y="934.42" text-anchor="middle">350</text><text x="464" y="934.42" text-anchor="middle">400</text><text x="49.5" y="922.72" text-anchor="end" font-size="9.6">0</text><text x="52.9" y="896.13" text-anchor="end" font-size="9.6">10000</text><text x="52.9" y="869.44" text-anchor="end" font-size="9.6">20000</text><text x="52.9" y="842.75" text-anchor="end" font-size="9.6">30000</text><text x="52.9" y="816.06" text-anchor="end" font-size="9.6">40000</text><text x="52.9" y="789.37" text-anchor="end" font-size="9.6">50000</text><text x="52.9" y="762.68" text-anchor="end" font-size="9.6">60000</text><text x="52.9" y="735.99" text-anchor="end" font-size="9.6">70000</text><text x="52.9" y="709.3" text-anchor="end" font-size="9.6">80000</text><text x="52.9" y="682.61" text-anchor="end" font-size="9.6">90000</text><text x="52.9" y="655.92" text-anchor="end" font-size="9.6">100000</text></g>
<path d="M185.3 917.9L185.4 917.9L185.5 917.9L185.7 917.9L185.9 917.9L186.0 917.9L186.2 917.9L186.4 917.9L186.4 917.9L186.6 917.9L186.8 917.9L186.9 917.9L187.0 917.9L187.1 917.9L187.3 917.9L187.4 917.9L187.5 917.9L187.7 917.8L187.9 917.8L187.9 917.8L188.1 917.7L188.2 917.7L188.4 917.6L188.4 917.6L188.6 917.5L188.8 917.4L188.9 917.3L189.0 917.3L189.2 917.2L189.3 917.0L189.4 917.0L189.5 916.9L189.7 916.8L189.9 916.7L189.9 916.7L190.1 916.7L190.3 916.6L190.4 916.6L190.6 916.6L190.8 916.7L191.0 916.7L191.0 916.7L191.2 916.8L191.4 916.9L191.5 917.0L191.5 917.0L191.7 917.2L191.9 917.3L192.0 917.3L192.1 917.4L192.3 917.5L192.5 917.6L192.5 917.6L192.6 917.7L192.8 917.7L193.0 917.8L193.0 917.8L193.2 917.8L193.4 917.9L193.5 917.9L193.6 917.9L193.7 917.9L193.9 917.9L194.0 917.9L194.1 917.9L194.3 917.9L194.5 917.9L194.5 917.9L194.7 917.9L194.8 917.9L195.0 917.9L195.2 917.9L195.4 917.9L195.5 917.9L195.6 917.9L195.8 917.9L195.9 917.9L196.0 917.9L196.1 917.9L196.3 917.9L196.5 917.9L196.5 917.9L196.7 917.9L196.9 917.9L197.0 917.9L197.1 917.9L197.2 917.9L197.4 917.9L197.6 917.9L197.6 917.9L198.1 917.9L198.6 917.9L199.1 917.9L199.6 917.9L200.1 917.9L200.6 917.9L201.1 917.9L201.6 917.9L202.1 917.9L202.6 917.9L203.2 917.9L203.6 917.9L203.7 917.9L203.8 917.9L204.0 917.9L204.2 917.9L204.2 917.9L204.4 917.9L204.6 917.9L204.7 917.9L204.7 917.9L204.9 917.9L205.1 917.9L205.2 917.9L205.3 917.9L205.5 917.9L205.7 917.9L205.7 917.9L205.8 917.9L206.0 917.9L206.2 917.9L206.4 917.9L206.6 917.9L206.7 917.9L206.8 917.9L206.9 917.9L207.1 917.9L207.2 917.9L207.3 917.9L207.5 917.9L207.7 917.8L207.7 917.8L207.9 917.8L208.0 917.7L208.2 917.7L208.2 917.7L208.4 917.6L208.6 917.5L208.8 917.4L208.8 917.4L209.0 917.2L209.1 917.1L209.3 916.9L209.3 916.9L209.5 916.7L209.7 916.5L209.8 916.4L209.9 916.3L210.1 916.2L210.2 916.0L210.3 916.0L210.4 915.9L210.6 915.8L210.8 915.8L211.0 915.8L211.2 915.9L211.3 916.0L211.3 916.0L211.5 916.2L211.7 916.3L211.8 916.4L211.9 916.5L212.1 916.7L212.3 916.9L212.3 916.9L212.4 917.1L212.6 917.2L212.8 917.4L212.8 917.4L213.0 917.5L213.2 917.6L213.3 917.7L213.4 917.7L213.5 917.7L213.7 917.8L213.8 917.8L213.9 917.8L214.1 917.9L214.3 917.9L214.3 917.9L214.4 917.9L214.6 917.9L214.8 917.9L214.9 917.9L215.0 917.9L215.2 917.9L215.4 917.9L215.5 917.9L215.7 917.9L215.9 917.9L215.9 917.9L216.1 917.9L216.3 917.9L216.4 917.9L216.5 917.9L216.6 917.9L216.8 917.9L216.9 917.9L217.0 917.9L217.2 917.9L217.4 917.9L217.4 917.9L217.6 917.9L217.7 917.9L217.9 917.9L217.9 917.9L218.4 917.9L218.9 917.9L219.4 917.9L219.9 917.9L220.5 917.9L220.7 917.9L220.8 917.9L221.0 917.9L221.0 917.9L221.1 917.9L221.2 917.9L221.4 917.9L221.5 917.9L221.5 917.9L221.7 917.9L221.8 917.9L221.9 917.9L222.0 917.9L222.1 917.9L222.2 917.9L222.3 917.9L222.5 917.9L222.5 917.9L222.6 917.9L222.8 917.9L222.9 917.9L223.0 917.9L223.0 917.9L223.2 917.9L223.3 917.9L223.4 917.9L223.5 917.9L223.6 917.8L223.7 917.8L223.8 917.8L224.0 917.7L224.0 917.7L224.1 917.6L224.3 917.5L224.4 917.4L224.5 917.2L224.5 917.2L224.7 917.0L224.8 916.8L224.9 916.6L225.0 916.5L225.1 916.4L225.2 916.1L225.4 915.9L225.5 915.7L225.5 915.6L225.6 915.5L225.8 915.4L225.9 915.3L226.0 915.2L226.2 915.2L226.3 915.3L226.5 915.4L226.6 915.4L226.6 915.5L226.7 915.6L226.9 915.8L226.9 915.8L227.0 915.8L227.0 915.9L227.0 915.9L227.1 915.9L227.1 916.0L227.1 916.0L227.2 916.0L227.3 916.1L227.3 916.1L227.3 916.1L227.4 916.1L227.4 916.1L227.5 916.1L227.6 916.1L227.6 916.1L227.6 916.1L227.7 916.0L227.7 916.0L227.7 915.9L227.8 915.8L227.8 915.8L227.9 915.7L228.0 915.5L228.0 915.5L228.0 915.2L228.1 915.1L228.1 915.0L228.1 914.9L228.2 914.4L228.2 914.0L228.3 913.7L228.4 912.7L228.4 912.3L228.4 911.3L228.5 909.4L228.5 909.2L228.6 906.7L228.7 903.8L228.7 903.2L228.7 898.4L228.8 894.8L228.8 892.3L228.9 884.4L228.9 881.0L229.0 874.8L229.1 863.2L229.1 861.4L229.1 856.2L229.1 849.9L229.2 836.0L229.2 834.6L229.3 818.0L229.3 806.2L229.4 800.6L229.4 782.8L229.5 775.0L229.5 765.5L229.6 750.7L229.6 749.9L229.6 748.8L229.6 746.9L229.7 736.5L229.7 735.1L229.8 726.6L229.8 726.3L229.8 724.0L229.8 719.9L229.9 718.3L229.9 717.9L229.9 717.7L230.0 718.7L230.0 720.0L230.0 722.6L230.1 725.0L230.1 726.3L230.1 732.2L230.1 736.6L230.2 739.8L230.2 749.9L230.2 752.6L230.3 765.7L230.3 766.2L230.3 771.7L230.4 782.8L230.4 792.3L230.4 796.9L230.5 800.6L230.5 813.1L230.5 818.1L230.6 827.5L230.6 832.9L230.6 834.8L230.6 837.0L230.7 849.9L230.7 850.8L230.7 854.5L230.8 863.4L230.8 866.3L230.8 874.8L230.9 875.8L230.9 879.1L230.9 884.4L231.0 889.3L231.0 891.3L231.0 892.3L231.1 897.2L231.1 898.5L231.1 901.5L231.1 901.8L231.2 903.0L231.2 903.2L231.2 906.8L231.2 907.2L231.3 907.9L231.3 909.4L231.3 910.1L231.4 911.4L231.4 911.6L231.4 912.1L231.5 912.7L231.5 913.4L231.5 913.7L231.6 914.3L231.6 914.4L231.6 914.5L231.7 914.9L231.8 915.2L231.8 915.3L231.9 915.4L231.9 915.5L231.9 915.6L232.0 915.7L232.0 915.7L232.1 915.7L232.1 915.7L232.1 915.7L232.2 915.7L232.2 915.7L232.2 915.7L232.3 915.7L232.3 915.6L232.3 915.6L232.4 915.5L232.4 915.4L232.5 915.4L232.5 915.3L232.6 915.2L232.6 915.1L232.6 915.1L232.7 915.0L232.7 914.9L232.7 914.9L232.8 914.8L232.8 914.8L232.9 914.7L232.9 914.6L232.9 914.6L233.0 914.5L233.1 914.5L233.2 914.5L233.3 914.6L233.4 914.7L233.4 914.9L233.5 915.1L233.6 915.4L233.7 915.6L233.7 915.7L233.8 916.0L233.9 916.3L234.0 916.6L234.1 916.8L234.2 917.0L234.2 917.1L234.3 917.2L234.4 917.4L234.4 917.5L234.5 917.6L234.6 917.7L234.7 917.7L234.7 917.8L234.8 917.8L234.9 917.8L235.0 917.9L235.1 917.9L235.2 917.9L235.2 917.9L235.3 917.9L235.4 917.9L235.5 917.9L235.5 917.9L235.6 917.9L235.7 917.9L235.7 917.9L235.8 917.9L235.9 917.9L236.0 917.9L236.1 917.9L236.2 917.9L236.2 917.9L236.3 917.9L236.4 917.9L236.5 917.9L236.6 917.9L236.6 917.9L236.7 917.9L236.7 917.9L237.2 917.9L237.7 917.9L238.3 917.9L238.8 917.9L239.3 917.9L239.8 917.9L240.3 917.9L240.8 917.9L241.3 917.9L241.8 917.9L242.3 917.9L242.8 917.9L243.3 917.9L243.8 917.9L244.4 917.9L244.9 917.9L245.4 917.9L245.9 917.9L246.4 917.9L246.9 917.9L247.4 917.9L247.9 917.9L248.4 917.9L248.9 917.9L249.4 917.9L250.0 917.9L250.5 917.9L251.0 917.8L251.5 917.6L251.5 917.6L251.6 917.5L251.6 917.5L251.7 917.4L251.8 917.4L251.9 917.3L252.0 917.2L252.0 917.2L252.0 917.1L252.1 917.0L252.2 916.9L252.3 916.7L252.4 916.6L252.4 916.4L252.5 916.3L252.5 916.3L252.6 916.0L252.7 915.8L252.7 915.4L252.8 914.9L252.9 914.3L253.0 913.4L253.0 912.9L253.1 912.1L253.1 910.3L253.2 907.9L253.3 904.7L253.4 900.4L253.4 894.8L253.5 888.3L253.5 887.7L253.6 879.0L253.7 868.5L253.8 856.4L253.8 842.8L253.9 827.7L254.0 811.9L254.0 804.4L254.1 795.8L254.1 780.2L254.2 766.1L254.3 754.1L254.4 744.8L254.5 739.0L254.5 737.0L254.6 739.0L254.7 744.8L254.8 754.1L254.8 766.1L254.9 780.2L255.0 795.8L255.0 804.4L255.1 811.9L255.2 827.7L255.2 842.8L255.3 856.4L255.4 868.5L255.5 879.0L255.5 887.7L255.5 888.3L255.6 894.8L255.7 900.4L255.8 904.7L255.9 907.9L255.9 910.3L256.0 912.1L256.1 912.9L256.1 913.4L256.2 914.3L256.2 914.9L256.3 915.4L256.4 915.8L256.5 916.0L256.6 916.3L256.6 916.3L256.6 916.4L256.7 916.6L256.8 916.7L256.9 916.9L256.9 917.0L257.0 917.1L257.1 917.2L257.1 917.2L257.2 917.3L257.3 917.4L257.3 917.4L257.4 917.5L257.5 917.5L257.6 917.6L257.6 917.6L258.1 917.8L258.6 917.9L259.1 917.9L259.6 917.9L260.1 917.9L260.6 917.9L261.1 917.9L261.6 917.9L262.2 917.9L262.7 917.9L263.2 917.9L263.7 917.9L264.2 917.9L264.7 917.9L265.2 917.9L265.7 917.9L266.2 917.9L266.7 917.9L267.2 917.9L267.8 917.9L268.3 917.9L268.8 917.9L269.3 917.9L269.8 917.9L270.3 917.9L270.8 917.9L271.3 917.9L271.8 917.9L272.3 917.9L272.8 917.9L273.3 917.9L273.9 917.9L274.4 917.9L274.9 917.9L275.4 917.9L275.9 917.9L276.4 917.9L276.9 917.9L277.4 917.9L277.9 917.9L278.4 917.9L278.9 917.9L279.5 917.9L280.0 917.9L280.5 917.9L281.0 917.9L281.5 917.9L282.0 917.9L282.5 917.9L283.0 917.9L283.5 917.9L284.0 917.9L284.5 917.9L285.0 917.9L285.6 917.9L286.1 917.9L286.6 917.9L287.1 917.9L287.6 917.9L288.1 917.9L288.6 917.9L289.1 917.9L289.6 917.9L290.1 917.9L290.6 917.9L291.2 917.9L291.7 917.9L292.2 917.9L292.7 917.9L293.2 917.9L293.7 917.9L294.2 917.9L294.7 917.9L295.2 917.9L295.7 917.9L296.2 917.9L296.7 917.9L297.3 917.9L297.8 917.9L298.3 917.9L298.8 917.9L299.3 917.9L299.8 917.9L300.3 917.9L300.8 917.9L301.3 917.9L301.8 917.9L302.3 917.9L302.8 917.9L303.4 917.9L303.9 917.9L304.4 917.9L304.9 917.9L305.4 917.9L305.9 917.9L306.4 917.9L306.9 917.9L307.4 917.9L307.9 917.9L308.4 917.9L309.0 917.9L309.5 917.9L310.0 917.9L310.5 917.9L311.0 917.9L311.5 917.9L312.0 917.9L312.5 917.9L313.0 917.9L313.5 917.9L314.0 917.9L314.5 917.9L315.1 917.9L315.6 917.9L316.1 917.9L316.6 917.9L317.1 917.9L317.6 917.9L318.1 917.9L318.6 917.9L319.1 917.9L319.6 917.9L320.1 917.9L320.7 917.9L321.2 917.9L321.7 917.9L322.2 917.9L322.7 917.9L323.2 917.9L323.7 917.9L324.2 917.9L324.7 917.9L325.2 917.9L325.7 917.9L326.2 917.9L326.8 917.9L327.3 917.9L327.8 917.9L328.3 917.9L328.8 917.9L329.3 917.9L329.8 917.9L330.3 917.9L330.8 917.9L331.3 917.9L331.8 917.9L332.3 917.9L332.9 917.9L333.4 917.9L333.9 917.9L334.4 917.9L334.9 917.9L335.4 917.9L335.9 917.9L336.4 917.9L336.9 917.9L337.4 917.9L337.9 917.9L338.5 917.9L339.0 917.9L339.5 917.9L340.0 917.9L340.5 917.9L341.0 917.9L341.5 917.9L342.0 917.9L342.5 917.9L343.0 917.9L343.5 917.9L344.0 917.9L344.6 917.9L345.1 917.9L345.6 917.9L346.1 917.9L346.6 917.9L347.1 917.9L347.6 917.9L348.1 917.9L348.6 917.9L349.1 917.9L349.6 917.9L350.2 917.9L350.7 917.9L351.2 917.9L351.7 917.9L352.2 917.9L352.7 917.9L353.2 917.9L353.7 917.9L354.2 917.9L354.7 917.9L355.2 917.9L355.7 917.9L356.3 917.9L356.8 917.9L357.3 917.9L357.8 917.9L358.3 917.9L358.8 917.9L359.3 917.9L359.8 917.9L360.3 917.9L360.8 917.9L361.3 917.9L361.8 917.9L362.4 917.9L362.9 917.9L363.4 917.9L363.9 917.9L364.4 917.9L364.9 917.9L365.4 917.9L365.9 917.9L366.4 917.9L366.9 917.9L367.4 917.9L368.0 917.9L368.5 917.9L369.0 917.9L369.5 917.9L370.0 917.9L370.5 917.9L371.0 917.9L371.5 917.9L372.0 917.9L372.5 917.9L373.0 917.9L373.5 917.9L374.1 917.9L374.6 917.9L375.1 917.9L375.6 917.9L376.1 917.9L376.6 917.9L377.1 917.9L377.6 917.9L378.1 917.9L378.6 917.9L379.1 917.9L379.7 917.9L380.2 917.9L380.7 917.9L381.2 917.9L381.7 917.9L382.2 917.9L382.7 917.9L383.2 917.9L383.7 917.9L384.2 917.9L384.7 917.9L385.2 917.9L385.8 917.9L386.3 917.9L386.8 917.9L387.3 917.9L387.8 917.9L388.3 917.9L388.8 917.9L389.3 917.9L389.8 917.9L390.3 917.9L390.8 917.9L391.3 917.9L391.9 917.9L392.4 917.9L392.9 917.9L393.4 917.9L393.9 917.9L394.4 917.9L394.9 917.9L395.4 917.9L395.9 917.9L396.4 917.9L396.9 917.9L397.5 917.9L398.0 917.9L398.5 917.9L399.0 917.9L399.5 917.9L400.0 917.9L400.5 917.9L401.0 917.9L401.5 917.9L402.0 917.9L402.5 917.9L403.0 917.9L403.6 917.9L404.1 917.9L404.6 917.9L405.1 917.9L405.6 917.9L406.1 917.9L406.6 917.9L407.1 917.9L407.6 917.9L408.1 917.9L408.6 917.9L409.2 917.9L409.7 917.9L410.2 917.9L410.7 917.9L411.2 917.9L411.7 917.9L412.2 917.9L412.7 917.9L413.2 917.9L413.7 917.9L414.2 917.9L414.7 917.9L415.3 917.9L415.8 917.9L416.3 917.9L416.8 917.9L417.3 917.9L417.8 917.9L418.3 917.9L418.8 917.9L419.3 917.9L419.8 917.9L420.3 917.9L420.8 917.9L421.4 917.9L421.9 917.9L422.4 917.9L422.9 917.9L423.4 917.9L423.9 917.9L424.4 917.9L424.9 917.9L425.4 917.9L425.9 917.9L426.4 917.9L427.0 917.9L427.5 917.9L428.0 917.9L428.5 917.9L429.0 917.9L429.5 917.9L430.0 917.9L430.5 917.9L431.0 917.9L431.5 917.9L432.0 917.9L432.5 917.9L433.1 917.9L433.6 917.9L434.1 917.9L434.6 917.9L435.1 917.9L435.6 917.9L436.1 917.9L436.6 917.9L437.1 917.9L437.6 917.9L438.1 917.9L438.7 917.9L439.2 917.9L439.7 917.9L440.2 917.9L440.7 917.9L441.2 917.9L441.7 917.9L442.2 917.9L442.7 917.9L443.2 917.9L443.7 917.9L444.2 917.9L444.8 917.9L445.3 917.9L445.8 917.9L446.3 917.9L446.8 917.9L447.3 917.9L447.8 917.9L448.3 917.9L448.8 917.9L449.3 917.9L449.8 917.9L450.3 917.9L450.9 917.9L451.4 917.9L451.9 917.9L452.4 917.9L452.9 917.9L453.4 917.9L453.9 917.9L454.4 917.9L454.9 917.9L455.4 917.9L455.9 917.9L456.5 917.9L457.0 917.9L457.5 917.9L458.0 917.9L458.5 917.9L459.0 917.9L459.5 917.9L460.0 917.9L460.5 917.9" fill="none" stroke="#3a3ab0" stroke-width="1" stroke-linejoin="round"/>
<path d="M58.15 918.3H465.1" stroke="#3a3a3a" stroke-width="1.3" opacity="0.5"/>
<g font-family='"Liberation Serif", serif' font-weight="bold" font-size="10.0" fill="#111" stroke="#111" stroke-width="0.22"><text x="233.8" y="712.45" text-anchor="middle">168.59</text><text x="260.5" y="728.95" text-anchor="middle">192.99</text></g>
<text x="430.2" y="676.32" text-anchor="middle" font-family='"Liberation Serif", serif' font-weight="bold" font-size="14" fill="#111" stroke="#111" stroke-width="0.22">I</text>
<text transform="translate(13.75,732.3) rotate(90)" text-anchor="middle" font-family='"Liberation Serif", serif' font-weight="bold" font-size="10.2" fill="#111" stroke="#111" stroke-width="0.42">Dye Signal</text>
<text x="258.8" y="954.75" text-anchor="middle" font-family='"Liberation Serif", serif' font-weight="bold" font-size="9.6" fill="#111" stroke="#111" stroke-width="0.22">Size (nt)</text>
<polyline points="262.1,955.8 263.3,957.0 264.5,955.8 265.7,957.0 266.9,955.8 268.1,957.0 269.3,955.8 270.5,957.0 271.7,955.8" fill="none" stroke="#e05a5a" stroke-width="0.8" opacity="0.6"/></g>
<g id="pJ"><rect x="537.25" y="659.7" width="415.75" height="266.7" fill="none" stroke="#3a3a3a" stroke-width="1.3"/>
<path d="M537.3 923.8V932.7M547.69 923.4V926.4M558.09 923.4V926.4M568.48 923.4V926.4M578.88 923.4V926.4M589.27 923.8V932.7M599.67 923.4V926.4M610.06 923.4V926.4M620.46 923.4V926.4M630.86 923.4V926.4M641.25 923.8V932.7M651.64 923.4V926.4M662.04 923.4V926.4M672.43 923.4V926.4M682.83 923.4V926.4M693.22 923.8V932.7M703.62 923.4V926.4M714.01 923.4V926.4M724.41 923.4V926.4M734.8 923.4V926.4M745.2 923.8V932.7M755.6 923.4V926.4M765.99 923.4V926.4M776.38 923.4V926.4M786.78 923.4V926.4M797.17 923.8V932.7M807.57 923.4V926.4M817.96 923.4V926.4M828.36 923.4V926.4M838.75 923.4V926.4M849.15 923.8V932.7M859.54 923.4V926.4M869.94 923.4V926.4M880.34 923.4V926.4M890.73 923.4V926.4M901.12 923.8V932.7M911.52 923.4V926.4M921.91 923.4V926.4M932.31 923.4V926.4M942.7 923.4V926.4M953.1 923.8V932.7M534.05 926.4H540.75M537.25 919.25H540.45M537.25 912.1H540.45M537.25 904.95H540.45M537.25 897.79H540.45M534.05 890.64H540.75M537.25 883.49H540.45M537.25 876.34H540.45M537.25 869.19H540.45M537.25 862.04H540.45M534.05 854.89H540.75M537.25 847.73H540.45M537.25 840.58H540.45M537.25 833.43H540.45M537.25 826.28H540.45M534.05 819.13H540.75M537.25 811.98H540.45M537.25 804.83H540.45M537.25 797.67H540.45M537.25 790.52H540.45M534.05 783.37H540.75M537.25 776.22H540.45M537.25 769.07H540.45M537.25 761.92H540.45M537.25 754.77H540.45M534.05 747.61H540.75M537.25 740.46H540.45M537.25 733.31H540.45M537.25 726.16H540.45M537.25 719.01H540.45M534.05 711.86H540.75M537.25 704.71H540.45M537.25 697.55H540.45M537.25 690.4H540.45M537.25 683.25H540.45M534.05 676.1H540.75M537.25 668.95H540.45M537.25 661.8H540.45" stroke="#262626" stroke-width="1.2" fill="none"/>
<g font-family='"Liberation Serif", serif' font-weight="bold" font-size="9.6" fill="#111" stroke="#111" stroke-width="0.1"><text x="536.55" y="943.42" text-anchor="middle">0</text><text x="588.52" y="943.42" text-anchor="middle">50</text><text x="640.5" y="943.42" text-anchor="middle">100</text><text x="692.47" y="943.42" text-anchor="middle">150</text><text x="744.45" y="943.42" text-anchor="middle">200</text><text x="796.42" y="943.42" text-anchor="middle">250</text><text x="848.4" y="943.42" text-anchor="middle">300</text><text x="900.38" y="943.42" text-anchor="middle">350</text><text x="952.35" y="943.42" text-anchor="middle">400</text><text x="528" y="931.72" text-anchor="end" font-size="9.6">0</text><text x="531.1" y="896.21" text-anchor="end" font-size="9.6">5000</text><text x="531.1" y="860.45" text-anchor="end" font-size="9.6">10000</text><text x="531.1" y="824.69" text-anchor="end" font-size="9.6">15000</text><text x="531.1" y="788.94" text-anchor="end" font-size="9.6">20000</text><text x="531.1" y="753.18" text-anchor="end" font-size="9.6">25000</text><text x="531.1" y="717.42" text-anchor="end" font-size="9.6">30000</text><text x="531.1" y="681.67" text-anchor="end" font-size="9.6">35000</text></g>
<path d="M629.9 925.8L629.9 925.6L630.0 925.2L630.0 924.7L630.1 923.9L630.1 922.8L630.2 921.1L630.2 918.7L630.3 915.4L630.3 912.8L630.4 911.0L630.4 905.2L630.5 897.8L630.5 888.6L630.6 877.6L630.6 864.6L630.7 850.0L630.7 834.0L630.8 817.1L630.9 801.8L630.9 799.9L630.9 783.3L631.0 768.1L631.0 755.1L631.1 745.2L631.1 739.0L631.2 736.9L631.3 739.0L631.3 745.2L631.4 755.1L631.4 756.9L631.4 768.1L631.5 783.3L631.5 799.9L631.6 817.1L631.6 834.0L631.7 850.0L631.8 864.6L631.8 877.6L631.9 888.6L631.9 892.6L631.9 897.8L632.0 905.2L632.0 911.0L632.1 915.4L632.2 918.7L632.2 921.1L632.3 922.8L632.3 923.9L632.4 924.7L632.4 925.1L632.4 925.2L632.5 925.6L632.5 925.8M639.5 925.8L639.5 925.6L639.6 925.3L639.7 924.8L639.7 924.7L639.8 924.0L639.8 922.9L639.9 921.3L640.0 919.1L640.1 915.9L640.1 911.7L640.2 906.2L640.2 905.5L640.3 899.1L640.4 890.4L640.4 879.8L640.5 867.5L640.6 853.5L640.7 838.3L640.7 822.1L640.7 821.2L640.8 805.8L640.9 789.9L641.0 775.4L641.0 763.1L641.1 753.6L641.2 747.7L641.2 745.7L641.3 747.7L641.4 753.6L641.5 763.1L641.5 775.4L641.6 789.9L641.7 805.8L641.8 821.2L641.8 822.1L641.8 838.3L641.9 853.5L642.0 867.5L642.1 879.8L642.1 890.4L642.2 899.1L642.3 905.5L642.3 906.2L642.4 911.7L642.4 915.9L642.5 919.1L642.6 921.3L642.7 922.9L642.7 924.0L642.8 924.7L642.8 924.8L642.9 925.3L643.0 925.6L643.0 925.8M660.2 925.8L660.3 925.6L660.4 925.2L660.5 924.7L660.5 924.6L660.5 923.9L660.6 922.8L660.7 921.1L660.8 918.7L660.8 915.4L660.9 910.9L661.0 905.1L661.0 904.4L661.1 897.7L661.1 888.5L661.2 877.4L661.3 864.4L661.4 849.7L661.4 833.6L661.5 816.6L661.5 815.6L661.6 799.4L661.7 782.7L661.7 767.4L661.8 754.4L661.9 744.5L662.0 738.2L662.0 736.1L662.1 738.2L662.2 744.5L662.3 754.4L662.3 767.4L662.4 782.7L662.5 799.4L662.6 815.6L662.6 816.6L662.6 833.6L662.7 849.7L662.8 864.4L662.9 877.4L662.9 888.5L663.0 897.7L663.1 904.4L663.1 905.1L663.2 910.9L663.2 915.4L663.3 918.7L663.4 921.1L663.5 922.8L663.5 923.9L663.6 924.6L663.6 924.7L663.7 925.2L663.8 925.6L663.8 925.8M680.8 925.7L680.8 925.6L680.9 925.3L681.0 924.8L681.1 924.0L681.2 922.9L681.3 921.2L681.3 921.0L681.3 918.9L681.4 915.7L681.5 911.4L681.6 905.8L681.7 898.6L681.8 889.7L681.8 888.7L681.9 878.9L682.0 866.4L682.0 852.2L682.1 836.6L682.2 820.1L682.3 803.5L682.3 802.7L682.4 787.3L682.5 772.5L682.6 760.0L682.7 750.3L682.7 744.3L682.8 742.3L682.9 744.3L683.0 750.3L683.1 760.0L683.2 772.5L683.3 787.3L683.3 802.7L683.4 803.5L683.4 820.1L683.5 836.6L683.6 852.2L683.7 866.4L683.8 878.9L683.9 888.7L683.9 889.7L684.0 898.6L684.1 905.8L684.1 911.4L684.2 915.7L684.3 918.9L684.4 921.0L684.4 921.2L684.5 922.9L684.6 924.0L684.7 924.8L684.8 925.3L684.8 925.6L684.9 925.7M701.5 925.7L701.6 925.6L701.7 925.3L701.8 924.8L701.9 924.0L702.0 922.9L702.0 921.3L702.1 921.0L702.1 919.0L702.2 915.8L702.3 911.5L702.4 905.9L702.5 898.7L702.6 889.8L702.6 888.9L702.7 879.1L702.7 866.6L702.8 852.4L702.9 836.9L703.0 820.6L703.1 803.9L703.1 803.2L703.2 787.9L703.3 773.1L703.4 760.6L703.4 751.0L703.5 745.0L703.6 743.0L703.7 745.0L703.8 751.0L703.9 760.6L704.0 773.1L704.1 787.9L704.1 803.2L704.1 803.9L704.2 820.6L704.3 836.9L704.4 852.4L704.5 866.6L704.6 879.1L704.7 888.9L704.7 889.8L704.8 898.7L704.8 905.9L704.9 911.5L705.0 915.8L705.1 919.0L705.2 921.0L705.2 921.3L705.3 922.9L705.4 924.0L705.5 924.8L705.5 925.3L705.6 925.6L705.7 925.7M722.3 925.7L722.4 925.6L722.5 925.3L722.6 924.8L722.7 924.0L722.8 922.9L722.8 921.2L722.9 921.0L722.9 918.9L723.0 915.7L723.1 911.4L723.2 905.7L723.3 898.5L723.4 889.6L723.4 888.7L723.4 878.8L723.5 866.3L723.6 852.0L723.7 836.4L723.8 819.9L723.9 803.2L723.9 802.4L724.0 787.0L724.1 772.2L724.1 759.6L724.2 750.0L724.3 744.0L724.4 741.9L724.5 744.0L724.6 750.0L724.7 759.6L724.8 772.2L724.8 787.0L724.9 802.4L724.9 803.2L725.0 819.9L725.1 836.4L725.2 852.0L725.3 866.3L725.4 878.8L725.4 888.7L725.5 889.6L725.5 898.5L725.6 905.7L725.7 911.4L725.8 915.7L725.9 918.9L726.0 921.0L726.0 921.2L726.1 922.9L726.2 924.0L726.2 924.8L726.3 925.3L726.4 925.6L726.5 925.7M732.7 925.8L732.8 925.6L732.9 925.3L733.0 924.9L733.1 924.2L733.1 923.1L733.2 921.6L733.2 921.4L733.3 919.5L733.4 916.6L733.5 912.6L733.6 907.4L733.7 900.8L733.8 892.6L733.8 891.8L733.8 882.8L733.9 871.3L734.0 858.2L734.1 843.9L734.2 828.8L734.3 813.5L734.3 812.8L734.4 798.7L734.5 785.1L734.5 773.5L734.6 764.7L734.7 759.2L734.8 757.3L734.9 759.2L735.0 764.7L735.1 773.5L735.2 785.1L735.2 798.7L735.3 812.8L735.3 813.5L735.4 828.8L735.5 843.9L735.6 858.2L735.7 871.3L735.8 882.8L735.8 891.8L735.9 892.6L735.9 900.8L736.0 907.4L736.1 912.6L736.2 916.6L736.3 919.5L736.4 921.4L736.4 921.6L736.5 923.1L736.6 924.2L736.6 924.9L736.7 925.3L736.8 925.6L736.9 925.8M743.1 925.8L743.2 925.6L743.3 925.3L743.4 924.9L743.5 924.2L743.5 923.2L743.6 921.7L743.6 921.4L743.7 919.6L743.8 916.6L743.9 912.7L744.0 907.6L744.1 901.0L744.2 892.9L744.2 892.0L744.2 883.1L744.3 871.6L744.4 858.6L744.5 844.4L744.6 829.4L744.7 814.2L744.7 813.5L744.8 799.5L744.9 786.0L744.9 774.5L745.0 765.7L745.1 760.2L745.2 758.3L745.3 760.2L745.4 765.7L745.5 774.5L745.5 786.0L745.6 799.5L745.7 813.5L745.7 814.2L745.8 829.4L745.9 844.4L746.0 858.6L746.1 871.6L746.2 883.1L746.2 892.0L746.2 892.9L746.3 901.0L746.4 907.6L746.5 912.7L746.6 916.6L746.7 919.6L746.8 921.4L746.8 921.7L746.9 923.2L746.9 924.2L747.0 924.9L747.1 925.3L747.2 925.6L747.3 925.8M763.9 925.8L764.0 925.6L764.1 925.3L764.2 924.9L764.2 924.2L764.3 923.2L764.4 921.7L764.4 921.5L764.5 919.6L764.6 916.7L764.7 912.9L764.8 907.8L764.9 901.3L764.9 893.2L765.0 892.4L765.0 883.5L765.1 872.2L765.2 859.3L765.3 845.3L765.4 830.4L765.5 815.4L765.5 814.7L765.6 800.8L765.6 787.5L765.7 776.1L765.8 767.4L765.9 762.0L766.0 760.1L766.1 762.0L766.2 767.4L766.3 776.1L766.3 787.5L766.4 800.8L766.5 814.7L766.5 815.4L766.6 830.4L766.7 845.3L766.8 859.3L766.9 872.2L767.0 883.5L767.0 892.4L767.0 893.2L767.1 901.3L767.2 907.8L767.3 912.9L767.4 916.7L767.5 919.6L767.5 921.5L767.6 921.7L767.6 923.2L767.7 924.2L767.8 924.9L767.9 925.3L768.0 925.6L768.1 925.8M784.5 925.8L784.6 925.6L784.7 925.4L784.7 925.3L784.8 924.9L784.9 924.2L785.0 923.2L785.1 921.7L785.2 919.6L785.2 918.7L785.3 916.7L785.4 912.8L785.5 907.7L785.6 901.2L785.7 893.2L785.7 884.6L785.8 883.4L785.8 872.1L785.9 859.2L786.0 845.2L786.1 830.3L786.2 815.2L786.3 808.6L786.3 800.6L786.4 787.2L786.5 775.9L786.6 767.2L786.7 761.7L786.8 759.9L786.9 761.7L787.0 767.2L787.1 775.9L787.2 787.2L787.2 800.6L787.3 808.6L787.3 815.2L787.4 830.3L787.5 845.2L787.6 859.2L787.7 872.1L787.8 883.4L787.8 884.6L787.9 893.2L788.0 901.2L788.1 907.7L788.2 912.8L788.3 916.7L788.3 918.7L788.4 919.6L788.5 921.7L788.6 923.2L788.7 924.2L788.7 924.9L788.8 925.3L788.9 925.4L788.9 925.6L789.0 925.8M805.3 925.8L805.4 925.6L805.5 925.4L805.5 925.3L805.6 924.9L805.7 924.2L805.8 923.2L805.9 921.8L806.0 919.7L806.0 918.8L806.1 916.8L806.2 913.0L806.3 907.9L806.4 901.5L806.4 893.5L806.5 885.1L806.5 883.9L806.6 872.7L806.7 860.0L806.8 846.1L806.9 831.4L807.0 816.4L807.1 809.9L807.1 802.0L807.2 788.8L807.3 777.5L807.4 768.9L807.5 763.5L807.6 761.7L807.7 763.5L807.8 768.9L807.9 777.5L807.9 788.8L808.0 802.0L808.1 809.9L808.1 816.4L808.2 831.4L808.3 846.1L808.4 860.0L808.5 872.7L808.6 883.9L808.6 885.1L808.7 893.5L808.8 901.5L808.9 907.9L809.0 913.0L809.1 916.8L809.1 918.8L809.2 919.7L809.3 921.8L809.3 923.2L809.4 924.2L809.5 924.9L809.6 925.3L809.6 925.4L809.7 925.6L809.8 925.8M826.1 925.8L826.2 925.6L826.3 925.5L826.3 925.4L826.4 925.0L826.5 924.3L826.6 923.4L826.7 922.0L826.8 920.1L826.8 919.2L826.9 917.4L827.0 913.7L827.1 909.0L827.1 902.9L827.2 895.4L827.3 887.4L827.3 886.3L827.4 875.8L827.5 863.8L827.6 850.7L827.7 836.8L827.8 822.7L827.8 816.6L827.9 809.1L828.0 796.7L828.1 786.1L828.2 778.0L828.3 772.9L828.4 771.2L828.5 772.9L828.5 778.0L828.6 786.1L828.7 796.7L828.8 809.1L828.9 816.6L828.9 822.7L829.0 836.8L829.1 850.7L829.2 863.8L829.3 875.8L829.4 886.3L829.4 887.4L829.5 895.4L829.6 902.9L829.7 909.0L829.8 913.7L829.9 917.4L829.9 919.2L830.0 920.1L830.0 922.0L830.1 923.4L830.2 924.3L830.3 925.0L830.4 925.4L830.4 925.5L830.5 925.6L830.6 925.8M846.8 925.8L846.9 925.7L847.0 925.4L847.1 925.0L847.1 924.9L847.2 924.4L847.3 923.4L847.4 922.1L847.5 920.1L847.6 917.5L847.6 916.2L847.7 913.9L847.8 909.2L847.9 903.2L848.0 895.8L848.1 886.9L848.1 880.9L848.2 876.4L848.3 864.6L848.4 851.6L848.5 837.9L848.6 824.1L848.6 813.4L848.7 810.6L848.8 798.3L848.9 787.9L849.0 779.9L849.1 774.9L849.1 773.2L849.2 774.9L849.3 779.9L849.4 787.9L849.5 798.3L849.6 810.6L849.7 813.4L849.7 824.1L849.8 837.9L849.9 851.6L850.0 864.6L850.1 876.4L850.2 880.9L850.2 886.9L850.3 895.8L850.4 903.2L850.5 909.2L850.6 913.9L850.7 916.2L850.7 917.5L850.8 920.1L850.9 922.1L851.0 923.4L851.1 924.4L851.2 924.9L851.2 925.0L851.3 925.4L851.4 925.7L851.5 925.8M867.5 925.8L867.6 925.6L867.7 925.4L867.8 924.9L867.9 924.9L867.9 924.3L868.0 923.3L868.1 921.9L868.2 919.9L868.3 917.2L868.4 915.9L868.4 913.5L868.5 908.6L868.6 902.5L868.7 894.8L868.8 885.6L868.9 879.5L868.9 874.8L869.0 862.6L869.1 849.2L869.2 835.1L869.3 820.7L869.4 809.7L869.4 806.9L869.5 794.2L869.6 783.4L869.7 775.1L869.8 769.9L869.9 768.1L870.0 769.9L870.1 775.1L870.2 783.4L870.3 794.2L870.4 806.9L870.5 809.7L870.5 820.7L870.6 835.1L870.7 849.2L870.8 862.6L870.9 874.8L871.0 879.5L871.0 885.6L871.1 894.8L871.2 902.5L871.3 908.6L871.4 913.5L871.5 915.9L871.5 917.2L871.6 919.9L871.7 921.9L871.8 923.3L871.9 924.3L872.0 924.9L872.0 924.9L872.1 925.4L872.2 925.6L872.3 925.8M888.3 925.8L888.4 925.6L888.5 925.4L888.6 924.9L888.7 924.8L888.7 924.3L888.8 923.3L888.9 921.9L889.0 919.9L889.1 917.1L889.2 915.8L889.2 913.3L889.3 908.4L889.4 902.2L889.5 894.4L889.6 885.1L889.7 878.9L889.7 874.2L889.8 861.9L889.9 848.3L890.0 834.0L890.1 819.5L890.2 808.4L890.2 805.5L890.3 792.7L890.4 781.7L890.5 773.4L890.6 768.1L890.7 766.4L890.8 768.1L890.9 773.4L891.0 781.7L891.1 792.7L891.2 805.5L891.2 808.4L891.3 819.5L891.4 834.0L891.5 848.3L891.6 861.9L891.7 874.2L891.8 878.9L891.8 885.1L891.9 894.4L892.0 902.2L892.1 908.4L892.2 913.3L892.3 915.8L892.3 917.1L892.4 919.9L892.5 921.9L892.6 923.3L892.7 924.3L892.8 924.8L892.8 924.9L892.9 925.4L893.0 925.6L893.1 925.8M909.1 925.8L909.2 925.6L909.3 925.4L909.4 924.9L909.4 924.8L909.5 924.3L909.6 923.3L909.7 921.9L909.8 919.9L909.9 917.1L910.0 915.8L910.0 913.3L910.1 908.4L910.2 902.2L910.3 894.4L910.4 885.1L910.5 878.9L910.5 874.2L910.6 861.9L910.7 848.3L910.8 834.0L910.9 819.5L911.0 808.4L911.0 805.5L911.1 792.7L911.2 781.7L911.3 773.4L911.4 768.1L911.5 766.4L911.6 768.1L911.7 773.4L911.8 781.7L911.9 792.7L912.0 805.5L912.0 808.4L912.1 819.5L912.2 834.0L912.3 848.3L912.4 861.9L912.5 874.2L912.6 878.9L912.6 885.1L912.7 894.4L912.8 902.2L912.9 908.4L913.0 913.3L913.1 915.8L913.1 917.1L913.2 919.9L913.3 921.9L913.4 923.3L913.5 924.3L913.6 924.8L913.6 924.9L913.7 925.4L913.8 925.6L913.9 925.8M929.9 925.8L930.0 925.6L930.1 925.4L930.2 925.0L930.2 924.9L930.3 924.3L930.4 923.4L930.5 922.0L930.6 920.0L930.7 917.3L930.8 916.1L930.8 913.7L930.9 908.9L931.0 902.8L931.1 895.2L931.2 886.1L931.3 880.1L931.3 875.5L931.4 863.4L931.5 850.2L931.6 836.3L931.7 822.1L931.8 811.2L931.8 808.4L931.9 795.9L932.0 785.2L932.1 777.1L932.2 772.0L932.3 770.2L932.4 772.0L932.5 777.1L932.6 785.2L932.7 795.9L932.8 808.4L932.8 811.2L932.9 822.1L933.0 836.3L933.1 850.2L933.2 863.4L933.3 875.5L933.3 880.1L933.4 886.1L933.5 895.2L933.6 902.8L933.7 908.9L933.8 913.7L933.9 916.1L933.9 917.3L934.0 920.0L934.1 922.0L934.2 923.4L934.3 924.3L934.4 924.9L934.4 925.0L934.5 925.4L934.6 925.6L934.7 925.8" fill="none" stroke="#a86870" stroke-width="0.9" stroke-linejoin="round"/>
<path d="M537.25 926.4H953" stroke="#3a3a3a" stroke-width="1.3" opacity="0.5"/>
<polyline points="629.8,926.0 630.5,924.8 631.3,924.3 632.0,925.1 632.7,925.7 633.5,926.3 634.2,926.4 634.9,925.6 635.6,926.2 636.4,926.2 637.1,925.5 637.8,926.0 638.5,925.6 639.3,925.8 640.0,925.1 640.7,924.5 641.5,923.7 642.2,924.5 642.9,925.6 643.6,925.7 644.4,925.8 645.1,926.3 645.8,925.7 646.6,925.9 647.3,926.1 648.0,926.4 648.7,925.6 649.5,926.0 650.2,925.7 650.9,925.6 651.6,925.5 652.4,924.6 653.1,925.2 653.8,925.5 654.6,926.0 655.3,925.5 656.0,925.6 656.7,926.3 657.5,926.3 658.2,926.2 658.9,925.5 659.6,926.0 660.4,925.6 661.1,925.2 661.8,924.2 662.6,924.6 663.3,925.5 664.0,925.7 664.7,925.8 665.5,925.6 666.2,925.8 666.9,925.5 667.7,925.6 668.4,925.5 669.1,925.8 669.8,926.2 670.6,925.6 671.3,925.5 672.0,925.6 672.7,925.9 673.5,925.7 674.2,926.2 674.9,925.6 675.7,925.9 676.4,926.1 677.1,926.3 677.8,925.6 678.6,925.5 679.3,926.3 680.0,925.6 680.8,925.9 681.5,925.8 682.2,924.8 682.9,923.9 683.7,924.5 684.4,926.1 685.1,925.8 685.8,926.4 686.6,925.7 687.3,926.1 688.0,925.6 688.8,925.5 689.5,925.9 690.2,925.5 690.9,926.0 691.7,925.9 692.4,924.8 693.1,924.9 693.8,925.0 694.6,925.4 695.3,925.6 696.0,926.2 696.8,926.4 697.5,925.6 698.2,926.1 698.9,925.5 699.7,925.6 700.4,926.0 701.1,925.8 701.9,925.2 702.6,923.8 703.3,922.8 704.0,922.9 704.8,924.1 705.5,924.9 706.2,925.8 706.9,926.0 707.7,925.7 708.4,926.2 709.1,926.1 709.9,925.5 710.6,925.9 711.3,925.9 712.0,926.4 712.8,926.0 713.5,925.9 714.2,926.4 715.0,925.6 715.7,924.7 716.4,925.1 717.1,925.5 717.9,925.9 718.6,925.8 719.3,926.1 720.0,925.7 720.8,925.7 721.5,926.4 722.2,926.2 723.0,925.1 723.7,923.9 724.4,924.0 725.1,924.4 725.9,925.2 726.6,926.0 727.3,926.0 728.0,926.1 728.8,926.1 729.5,925.8 730.2,926.1 731.0,926.0 731.7,925.7 732.4,926.3 733.1,925.6 733.9,924.8 734.6,924.4 735.3,924.7 736.1,925.1 736.8,926.1 737.5,926.2 738.2,926.0 739.0,925.8 739.7,926.3 740.4,926.1 741.1,926.1 741.9,925.6 742.6,926.0 743.3,925.5 744.1,925.5 744.8,924.5 745.5,924.1 746.2,924.8 747.0,925.8 747.7,926.2 748.4,926.3 749.2,925.9 749.9,926.2 750.6,925.6 751.3,925.6 752.1,926.2 752.8,926.1 753.5,925.6 754.2,925.7 755.0,925.0 755.7,925.0 756.4,925.8 757.2,926.1 757.9,925.7 758.6,926.1 759.3,926.1 760.1,926.0 760.8,926.0 761.5,926.0 762.2,925.5 763.0,926.0 763.7,925.6 764.4,923.6 765.2,922.1 765.9,921.2 766.6,922.2 767.3,923.1 768.1,924.5 768.8,925.9 769.5,925.6 770.3,925.6 771.0,925.8 771.7,925.9 772.4,926.1 773.2,926.1 773.9,926.2 774.6,926.2 775.3,925.4 776.1,925.1 776.8,924.7 777.5,925.9 778.3,925.5 779.0,925.7 779.7,925.5 780.4,925.6 781.2,925.6 781.9,925.9 782.6,926.4 783.3,925.7 784.1,926.2 784.8,926.0 785.5,925.2 786.3,924.4 787.0,924.3 787.7,924.6 788.4,925.6 789.2,926.1 789.9,926.2 790.6,925.6 791.4,926.0 792.1,925.7 792.8,926.1 793.5,926.2 794.3,925.9 795.0,925.6 795.7,926.1 796.4,924.8 797.2,923.8 797.9,924.7 798.6,925.5 799.4,926.4 800.1,925.8 800.8,925.6 801.5,926.4 802.3,926.1 803.0,926.2 803.7,925.9 804.5,926.0 805.2,925.9 805.9,925.4 806.6,925.4 807.4,924.6 808.1,924.8 808.8,925.7 809.5,926.2 810.3,925.5 811.0,925.6 811.7,926.3 812.5,925.9 813.2,926.1 813.9,926.1 814.6,926.1 815.4,925.8 816.1,925.9 816.8,926.1 817.5,926.2 818.3,926.1 819.0,926.3 819.7,925.9 820.5,925.7 821.2,926.0 821.9,926.3 822.6,926.2 823.4,926.1 824.1,925.8 824.8,925.7 825.6,926.0 826.3,925.6 827.0,925.3 827.7,924.6 828.5,924.3 829.2,924.9 829.9,925.4 830.6,926.0 831.4,925.8 832.1,926.0 832.8,926.2 833.6,925.9 834.3,925.8 835.0,926.3 835.7,926.0 836.5,926.0 837.2,925.6 837.9,925.5 838.7,926.1 839.4,925.6 840.1,925.7 840.8,926.2 841.6,926.0 842.3,926.3 843.0,925.6 843.7,925.8 844.5,925.6 845.2,925.7 845.9,925.8 846.7,925.7 847.4,925.7 848.1,925.5 848.8,924.2 849.6,924.8 850.3,925.6 851.0,925.5 851.7,926.3 852.5,926.3 853.2,926.3 853.9,925.6 854.7,926.2 855.4,926.4 856.1,925.6 856.8,926.3 857.6,925.6 858.3,925.8 859.0,925.6 859.8,925.5 860.5,925.9 861.2,925.7 861.9,926.4 862.7,925.7 863.4,925.9 864.1,925.7 864.8,926.3 865.6,925.7 866.3,925.5 867.0,926.3 867.8,926.0 868.5,925.5 869.2,924.4 869.9,924.4 870.7,925.0 871.4,925.8 872.1,925.8 872.9,925.7 873.6,926.0 874.3,926.1 875.0,926.0 875.8,926.1 876.5,926.0 877.2,926.3 877.9,925.9 878.7,925.5 879.4,926.0 880.1,925.7 880.9,926.3 881.6,925.8 882.3,925.7 883.0,925.8 883.8,925.9 884.5,926.0 885.2,925.8 885.9,925.6 886.7,926.3 887.4,926.3 888.1,925.7 888.9,925.4 889.6,925.2 890.3,924.4 891.0,924.1 891.8,925.4 892.5,926.0 893.2,926.2 894.0,925.9 894.7,926.1 895.4,926.2 896.1,925.8 896.9,925.5 897.6,926.1 898.3,925.7 899.0,926.0 899.8,925.6 900.5,925.9 901.2,926.2 902.0,926.2 902.7,926.4 903.4,926.0 904.1,926.0 904.9,926.2 905.6,926.1 906.3,926.1 907.1,925.7 907.8,926.3 908.5,925.5 909.2,925.9 910.0,925.5 910.7,924.9 911.4,923.9 912.1,924.3 912.9,925.4 913.6,925.9 914.3,925.7 915.1,925.6 915.8,926.0 916.5,925.7 917.2,925.5 918.0,926.0 918.7,926.2 919.4,926.2 920.1,925.7 920.9,925.8 921.6,925.5 922.3,925.6 923.1,926.2 923.8,926.2 924.5,926.2 925.2,926.2 926.0,925.7 926.7,925.6 927.4,925.6 928.2,926.2 928.9,925.6 929.6,926.1 930.3,925.9 931.1,925.1 931.8,924.8 932.5,924.6 933.2,924.7 934.0,925.9 934.7,926.0 935.4,925.9 936.2,925.8 936.9,926.4" fill="none" stroke="#23235e" stroke-width="1.3" stroke-linejoin="round"/>
<g font-family='"Liberation Serif", serif' font-weight="bold" font-size="6.8" fill="#111" stroke="#111" stroke-width="0.1"><text x="633.4" y="733.88" text-anchor="middle">90.33</text><text x="643" y="742.88" text-anchor="middle">100</text><text x="663.3" y="732.28" text-anchor="middle">120</text><text x="683.9" y="740.38" text-anchor="middle">140</text><text x="705.1" y="740.28" text-anchor="middle">160</text><text x="726.1" y="739.18" text-anchor="middle">180</text><text x="736.5" y="755.38" text-anchor="middle">190</text><text x="747" y="755.88" text-anchor="middle">200</text><text x="766.9" y="757.28" text-anchor="middle">220</text><text x="787.6" y="757.28" text-anchor="middle">240</text><text x="808" y="759.18" text-anchor="middle">260</text><text x="829.5" y="768.28" text-anchor="middle">280</text><text x="849.9" y="771.58" text-anchor="middle">300</text><text x="870.7" y="766.48" text-anchor="middle">320</text><text x="891.5" y="763.28" text-anchor="middle">340</text><text x="912.3" y="763.68" text-anchor="middle">360</text><text x="933.3" y="767.28" text-anchor="middle">380</text></g>
<text x="896.2" y="684.62" text-anchor="middle" font-family='"Liberation Serif", serif' font-weight="bold" font-size="14" fill="#111" stroke="#111" stroke-width="0.1">J</text>
<text transform="translate(492.9,787.3) rotate(90)" text-anchor="middle" font-family='"Liberation Serif", serif' font-weight="normal" font-size="12.0" fill="#111" stroke="#111" stroke-width="0.15">Dye Signal</text>
<text x="747" y="950.02" text-anchor="middle" font-family='"Liberation Serif", serif' font-weight="bold" font-size="9.1" fill="#111" stroke="#111" stroke-width="0.1">Size (nt)</text></g>
<g id="pK"><rect x="1018.4" y="649.9" width="427" height="274.6" fill="none" stroke="#3a3a3a" stroke-width="1.3"/>
<path d="M1018.5 920.5V929.5M1029.17 921.5V924.5M1039.85 921.5V924.5M1050.52 921.5V924.5M1061.19 921.5V924.5M1071.86 920.5V929.5M1082.54 921.5V924.5M1093.21 921.5V924.5M1103.88 921.5V924.5M1114.55 921.5V924.5M1125.22 920.5V929.5M1135.9 921.5V924.5M1146.57 921.5V924.5M1157.24 921.5V924.5M1167.91 921.5V924.5M1178.59 920.5V929.5M1189.26 921.5V924.5M1199.93 921.5V924.5M1210.61 921.5V924.5M1221.28 921.5V924.5M1231.95 920.5V929.5M1242.62 921.5V924.5M1253.3 921.5V924.5M1263.97 921.5V924.5M1274.64 921.5V924.5M1285.31 920.5V929.5M1295.99 921.5V924.5M1306.66 921.5V924.5M1317.33 921.5V924.5M1328 921.5V924.5M1338.68 920.5V929.5M1349.35 921.5V924.5M1360.02 921.5V924.5M1370.69 921.5V924.5M1381.37 921.5V924.5M1392.04 920.5V929.5M1402.71 921.5V924.5M1413.38 921.5V924.5M1424.06 921.5V924.5M1434.73 921.5V924.5M1445.4 920.5V929.5M1015.4 924.5H1021.9M1018.4 918.4H1021.9M1018.4 912.3H1021.9M1018.4 906.19H1021.9M1018.4 900.09H1021.9M1015.4 893.99H1021.9M1018.4 887.89H1021.9M1018.4 881.78H1021.9M1018.4 875.68H1021.9M1018.4 869.58H1021.9M1015.4 863.48H1021.9M1018.4 857.38H1021.9M1018.4 851.27H1021.9M1018.4 845.17H1021.9M1018.4 839.07H1021.9M1015.4 832.97H1021.9M1018.4 826.86H1021.9M1018.4 820.76H1021.9M1018.4 814.66H1021.9M1018.4 808.56H1021.9M1015.4 802.46H1021.9M1018.4 796.35H1021.9M1018.4 790.25H1021.9M1018.4 784.15H1021.9M1018.4 778.05H1021.9M1015.4 771.94H1021.9M1018.4 765.84H1021.9M1018.4 759.74H1021.9M1018.4 753.64H1021.9M1018.4 747.54H1021.9M1015.4 741.43H1021.9M1018.4 735.33H1021.9M1018.4 729.23H1021.9M1018.4 723.13H1021.9M1018.4 717.02H1021.9M1015.4 710.92H1021.9M1018.4 704.82H1021.9M1018.4 698.72H1021.9M1018.4 692.62H1021.9M1018.4 686.51H1021.9M1015.4 680.41H1021.9M1018.4 674.31H1021.9M1018.4 668.21H1021.9M1018.4 662.1H1021.9M1018.4 656H1021.9M1015.4 649.9H1021.9" stroke="#262626" stroke-width="1.2" fill="none"/>
<g font-family='"Liberation Serif", serif' font-weight="bold" font-size="10.1" fill="#111" stroke="#111" stroke-width="0.22"><text x="1017.9" y="941.38" text-anchor="middle">0</text><text x="1071.26" y="941.38" text-anchor="middle">50</text><text x="1124.62" y="941.38" text-anchor="middle">100</text><text x="1177.99" y="941.38" text-anchor="middle">150</text><text x="1231.35" y="941.38" text-anchor="middle">200</text><text x="1284.71" y="941.38" text-anchor="middle">250</text><text x="1338.08" y="941.38" text-anchor="middle">300</text><text x="1391.44" y="941.38" text-anchor="middle">350</text><text x="1444.8" y="941.38" text-anchor="middle">400</text><text x="1009.5" y="929.68" text-anchor="end" font-size="10.1">0</text><text x="1014.6" y="898.97" text-anchor="end" font-size="10.1">25000</text><text x="1014.6" y="868.46" text-anchor="end" font-size="10.1">50000</text><text x="1014.6" y="837.95" text-anchor="end" font-size="10.1">75000</text><text x="1014.6" y="807.44" text-anchor="end" font-size="10.1">100000</text><text x="1014.6" y="776.93" text-anchor="end" font-size="10.1">125000</text><text x="1014.6" y="746.42" text-anchor="end" font-size="10.1">150000</text><text x="1014.6" y="715.91" text-anchor="end" font-size="10.1">175000</text><text x="1014.6" y="685.39" text-anchor="end" font-size="10.1">200000</text><text x="1014.6" y="654.88" text-anchor="end" font-size="10.1">225000</text></g>
<path d="M1119.4 924.1L1119.9 924.1L1120.4 924.1L1121.0 924.1L1121.5 924.1L1122.0 924.1L1122.6 924.1L1123.1 924.1L1123.6 924.1L1124.2 924.1L1124.7 924.1L1125.2 924.1L1125.2 924.1L1125.3 924.1L1125.3 924.1L1125.4 924.1L1125.5 924.1L1125.6 924.1L1125.7 924.1L1125.8 924.1L1125.8 924.1L1125.8 924.1L1125.9 924.1L1126.0 924.1L1126.1 924.1L1126.2 924.1L1126.3 924.1L1126.3 924.1L1126.3 924.1L1126.4 924.1L1126.5 924.1L1126.6 924.1L1126.7 924.1L1126.8 924.1L1126.8 924.0L1126.8 924.0L1126.9 924.0L1127.0 923.9L1127.1 923.9L1127.2 923.8L1127.3 923.7L1127.3 923.5L1127.4 923.5L1127.4 923.4L1127.5 923.2L1127.6 922.9L1127.7 922.6L1127.8 922.3L1127.8 922.0L1127.9 921.8L1127.9 921.7L1128.0 921.4L1128.1 921.1L1128.2 920.8L1128.3 920.6L1128.3 920.5L1128.4 920.5L1128.5 920.5L1128.6 920.6L1128.7 920.8L1128.8 921.1L1128.8 921.4L1128.9 921.7L1129.0 921.8L1129.0 922.0L1129.1 922.3L1129.2 922.6L1129.3 922.9L1129.3 923.2L1129.4 923.4L1129.5 923.5L1129.5 923.5L1129.6 923.7L1129.7 923.8L1129.8 923.9L1129.8 923.9L1129.9 924.0L1130.0 924.0L1130.0 924.0L1130.1 924.1L1130.2 924.1L1130.3 924.1L1130.3 924.1L1130.4 924.1L1130.5 924.1L1130.6 924.1L1130.6 924.1L1130.7 924.1L1130.8 924.1L1130.8 924.1L1130.9 924.1L1131.0 924.1L1131.1 924.1L1131.1 924.1L1131.2 924.1L1131.3 924.1L1131.3 924.1L1131.4 924.1L1131.5 924.1L1131.6 924.1L1131.6 924.1L1131.7 924.1L1132.2 924.1L1132.7 924.1L1133.2 924.1L1133.8 924.1L1134.3 924.1L1134.8 924.1L1135.4 924.1L1135.9 924.1L1135.9 924.1L1135.9 924.1L1136.0 924.1L1136.1 924.1L1136.2 924.1L1136.3 924.1L1136.4 924.1L1136.4 924.1L1136.4 924.1L1136.5 924.1L1136.6 924.1L1136.7 924.1L1136.8 924.1L1136.9 924.1L1136.9 924.1L1137.0 924.1L1137.0 924.1L1137.1 924.0L1137.2 924.0L1137.3 924.0L1137.4 924.0L1137.4 923.9L1137.5 923.9L1137.5 923.9L1137.6 923.8L1137.7 923.7L1137.8 923.5L1137.9 923.3L1137.9 923.1L1138.0 922.7L1138.0 922.7L1138.1 922.3L1138.2 921.8L1138.3 921.2L1138.4 920.6L1138.4 919.9L1138.5 919.1L1138.6 918.7L1138.6 918.4L1138.7 917.6L1138.8 917.0L1138.8 916.4L1138.9 916.0L1139.0 915.7L1139.1 915.6L1139.2 915.7L1139.3 916.0L1139.3 916.4L1139.4 917.0L1139.5 917.6L1139.6 918.4L1139.6 918.7L1139.7 919.1L1139.8 919.9L1139.8 920.6L1139.9 921.2L1140.0 921.8L1140.1 922.3L1140.2 922.7L1140.2 922.7L1140.3 923.1L1140.3 923.3L1140.4 923.5L1140.5 923.7L1140.6 923.8L1140.7 923.9L1140.7 923.9L1140.8 923.9L1140.8 924.0L1140.9 924.0L1141.0 924.0L1141.1 924.0L1141.2 924.1L1141.2 924.1L1141.3 924.1L1141.3 924.1L1141.4 924.1L1141.5 924.1L1141.6 924.1L1141.7 924.1L1141.8 924.1L1141.8 924.1L1141.8 924.1L1141.9 924.1L1142.0 924.1L1142.1 924.1L1142.2 924.1L1142.3 924.1L1142.3 924.1L1142.3 924.1L1142.8 924.1L1143.4 924.0L1143.8 923.7L1143.9 923.7L1143.9 923.7L1144.0 923.6L1144.1 923.5L1144.2 923.5L1144.2 923.4L1144.3 923.3L1144.4 923.2L1144.4 923.1L1144.5 923.0L1144.5 922.9L1144.6 922.8L1144.7 922.6L1144.8 922.4L1144.9 922.2L1144.9 922.0L1145.0 921.8L1145.0 921.6L1145.1 921.2L1145.2 920.7L1145.3 919.9L1145.3 918.9L1145.4 917.4L1145.5 915.4L1145.5 914.9L1145.6 912.7L1145.6 908.9L1145.7 904.0L1145.8 897.6L1145.9 889.5L1146.0 879.6L1146.0 867.5L1146.0 866.8L1146.1 853.6L1146.2 837.8L1146.3 820.6L1146.3 802.5L1146.4 784.1L1146.5 766.4L1146.6 759.1L1146.6 759.1L1146.7 759.1L1146.7 759.1L1146.8 759.1L1146.9 759.1L1147.0 759.1L1147.0 759.1L1147.1 759.1L1147.1 759.1L1147.2 759.1L1147.3 766.4L1147.4 784.1L1147.4 802.5L1147.5 820.6L1147.6 837.8L1147.6 847.1L1147.7 853.6L1147.7 867.5L1147.8 879.4L1147.9 889.5L1148.0 897.6L1148.1 904.0L1148.1 908.9L1148.2 910.6L1148.2 912.7L1148.3 915.4L1148.4 917.4L1148.5 918.9L1148.5 919.9L1148.6 920.7L1148.7 921.2L1148.7 921.3L1148.8 921.6L1148.8 922.0L1148.9 922.2L1149.0 922.4L1149.1 922.6L1149.2 922.8L1149.2 922.9L1149.2 922.9L1149.3 923.0L1149.4 923.2L1149.5 923.3L1149.5 923.4L1149.6 923.5L1149.7 923.5L1149.8 923.6L1149.8 923.6L1149.9 923.7L1149.9 923.7L1150.3 924.0L1150.8 924.1L1151.4 924.1L1151.9 924.1L1152.4 924.1L1153.0 924.1L1153.5 924.1L1154.0 924.1L1154.6 924.1L1155.1 924.1L1155.6 924.1L1156.2 924.1L1156.7 924.1L1157.2 924.1L1157.8 923.9L1158.0 923.7L1158.1 923.7L1158.2 923.6L1158.3 923.5L1158.3 923.5L1158.4 923.5L1158.4 923.4L1158.5 923.3L1158.6 923.2L1158.7 923.0L1158.7 922.9L1158.8 922.8L1158.8 922.7L1158.9 922.6L1159.0 922.4L1159.1 922.2L1159.1 922.0L1159.2 921.6L1159.3 921.2L1159.4 920.7L1159.4 920.6L1159.4 919.9L1159.5 918.9L1159.6 917.4L1159.7 915.4L1159.8 912.7L1159.8 908.9L1159.9 904.2L1159.9 904.0L1160.0 897.6L1160.1 889.5L1160.1 879.6L1160.2 867.5L1160.3 853.6L1160.4 837.8L1160.4 824.3L1160.5 820.6L1160.5 802.5L1160.6 784.1L1160.7 766.4L1160.8 759.1L1160.9 759.1L1160.9 759.1L1161.0 759.1L1161.0 759.1L1161.1 759.1L1161.2 759.1L1161.2 759.1L1161.3 759.1L1161.4 759.1L1161.5 766.4L1161.5 774.5L1161.6 784.1L1161.6 802.5L1161.7 820.6L1161.8 837.8L1161.9 853.6L1161.9 867.5L1162.0 879.4L1162.0 882.8L1162.1 889.5L1162.2 897.6L1162.3 904.0L1162.3 908.9L1162.4 912.7L1162.5 915.4L1162.6 917.4L1162.6 917.7L1162.6 918.9L1162.7 919.9L1162.8 920.7L1162.9 921.2L1163.0 921.6L1163.0 922.0L1163.1 922.2L1163.1 922.2L1163.2 922.4L1163.3 922.6L1163.3 922.8L1163.4 922.9L1163.5 923.0L1163.6 923.2L1163.6 923.3L1163.7 923.3L1163.7 923.4L1163.8 923.5L1163.9 923.5L1164.0 923.6L1164.1 923.7L1164.1 923.7L1164.2 923.8L1164.7 924.0L1165.2 924.1L1165.8 924.1L1166.3 924.1L1166.8 924.1L1167.4 924.1L1167.9 924.1L1168.4 924.1L1169.0 924.1L1169.5 924.1L1170.0 924.0L1170.3 923.8L1170.4 923.8L1170.5 923.7L1170.5 923.7L1170.6 923.7L1170.6 923.6L1170.7 923.6L1170.8 923.5L1170.9 923.4L1170.9 923.3L1171.0 923.2L1171.1 923.1L1171.1 923.1L1171.2 923.0L1171.3 922.8L1171.3 922.7L1171.4 922.5L1171.5 922.2L1171.6 921.9L1171.6 921.5L1171.7 921.5L1171.7 921.0L1171.8 920.2L1171.9 919.1L1172.0 917.5L1172.0 915.5L1172.1 912.6L1172.2 909.1L1172.2 908.9L1172.3 904.1L1172.3 898.0L1172.4 890.5L1172.5 881.3L1172.6 870.8L1172.7 858.9L1172.7 848.7L1172.7 845.9L1172.8 832.2L1172.9 818.3L1173.0 804.9L1173.0 792.4L1173.1 782.0L1173.2 774.0L1173.3 770.5L1173.3 769.0L1173.4 767.3L1173.4 769.0L1173.5 774.0L1173.6 782.0L1173.7 792.4L1173.7 804.9L1173.8 811.0L1173.8 818.3L1173.9 832.2L1174.0 845.9L1174.1 858.9L1174.1 870.8L1174.2 881.3L1174.3 890.4L1174.3 892.9L1174.4 898.0L1174.5 904.1L1174.5 908.9L1174.6 912.6L1174.7 915.5L1174.8 917.5L1174.8 919.1L1174.9 919.3L1174.9 920.2L1175.0 921.0L1175.1 921.5L1175.2 921.9L1175.2 922.2L1175.3 922.5L1175.4 922.7L1175.4 922.7L1175.5 922.8L1175.5 923.0L1175.6 923.1L1175.7 923.2L1175.8 923.3L1175.9 923.4L1175.9 923.5L1175.9 923.5L1176.0 923.6L1176.1 923.6L1176.2 923.7L1176.2 923.7L1176.3 923.8L1176.4 923.8L1176.5 923.9L1177.0 924.1L1177.5 924.1L1178.1 924.1L1178.6 924.1L1179.1 924.1L1179.7 924.1L1180.2 923.9L1180.5 923.7L1180.5 923.7L1180.6 923.6L1180.7 923.5L1180.7 923.5L1180.8 923.5L1180.8 923.4L1180.9 923.3L1181.0 923.2L1181.1 923.0L1181.2 922.9L1181.2 922.8L1181.3 922.7L1181.3 922.6L1181.4 922.4L1181.5 922.2L1181.5 922.0L1181.6 921.6L1181.7 921.2L1181.8 920.7L1181.8 920.6L1181.9 919.9L1181.9 918.9L1182.0 917.4L1182.1 915.4L1182.2 912.7L1182.2 908.9L1182.3 904.2L1182.3 904.0L1182.4 897.6L1182.5 889.5L1182.6 879.6L1182.6 867.5L1182.7 853.6L1182.8 837.8L1182.9 824.3L1182.9 820.6L1183.0 802.5L1183.0 784.1L1183.1 766.4L1183.2 759.1L1183.3 759.1L1183.3 759.1L1183.4 759.1L1183.4 759.1L1183.5 759.1L1183.6 759.1L1183.7 759.1L1183.7 759.1L1183.8 759.1L1183.9 766.4L1183.9 774.5L1184.0 784.1L1184.0 802.5L1184.1 820.6L1184.2 837.8L1184.3 853.6L1184.4 867.5L1184.4 879.4L1184.5 882.8L1184.5 889.5L1184.6 897.6L1184.7 904.0L1184.7 908.9L1184.8 912.6L1184.9 915.4L1185.0 917.4L1185.0 917.7L1185.1 918.9L1185.1 919.9L1185.2 920.6L1185.2 920.7L1185.3 921.2L1185.3 921.3L1185.4 921.6L1185.4 921.8L1185.4 921.9L1185.5 922.2L1185.5 922.2L1185.5 922.2L1185.6 922.4L1185.6 922.4L1185.7 922.6L1185.7 922.7L1185.8 922.8L1185.8 922.9L1185.8 922.9L1185.9 923.0L1185.9 923.1L1186.0 923.2L1186.0 923.2L1186.1 923.2L1186.1 923.3L1186.1 923.3L1186.2 923.4L1186.2 923.5L1186.2 923.5L1186.3 923.5L1186.3 923.6L1186.4 923.6L1186.5 923.7L1186.5 923.7L1186.5 923.7L1186.6 923.7L1186.6 923.8L1186.7 923.8L1186.8 923.9L1186.9 923.9L1187.0 923.9L1187.1 924.0L1187.1 924.0L1187.2 924.0L1187.3 924.0L1187.4 924.0L1187.5 924.0L1187.6 924.0L1187.7 924.0L1187.7 923.9L1187.8 923.9L1187.9 923.8L1188.0 923.7L1188.1 923.6L1188.2 923.6L1188.2 923.5L1188.3 923.4L1188.4 923.2L1188.5 923.1L1188.6 922.9L1188.7 922.8L1188.7 922.8L1188.8 922.6L1188.9 922.5L1189.1 922.4L1189.2 922.3L1189.3 922.3L1189.4 922.3L1189.5 922.4L1189.6 922.5L1189.7 922.6L1189.8 922.8L1189.8 922.8L1189.9 922.9L1190.0 923.1L1190.1 923.2L1190.2 923.4L1190.3 923.5L1190.3 923.6L1190.4 923.7L1190.5 923.8L1190.6 923.8L1190.7 923.9L1190.8 924.0L1190.9 924.0L1190.9 924.0L1191.0 924.0L1191.1 924.1L1191.2 924.1L1191.3 924.1L1191.4 924.1L1191.4 924.1L1191.5 924.1L1191.7 924.1L1191.8 924.1L1191.9 924.1L1191.9 924.1L1192.0 924.1L1192.1 924.1L1192.2 924.1L1192.3 924.1L1192.4 924.1L1192.5 924.1L1192.5 924.1L1192.6 924.1L1192.7 924.1L1192.8 924.1L1192.9 924.1L1193.0 924.1L1193.0 924.1L1193.1 924.1L1193.2 924.1L1193.3 924.1L1193.5 924.1L1194.1 924.1L1194.6 924.1L1195.1 924.1L1195.7 924.1L1196.2 924.1L1196.7 924.0L1196.7 923.9L1196.8 923.9L1196.8 923.9L1196.9 923.9L1197.0 923.8L1197.1 923.8L1197.1 923.7L1197.2 923.7L1197.3 923.7L1197.3 923.6L1197.4 923.6L1197.5 923.5L1197.5 923.4L1197.6 923.3L1197.7 923.3L1197.8 923.1L1197.8 923.1L1197.8 923.0L1197.9 922.8L1198.0 922.5L1198.1 922.2L1198.2 921.7L1198.2 921.0L1198.3 920.1L1198.3 919.9L1198.4 918.8L1198.5 917.1L1198.5 914.8L1198.6 911.9L1198.7 908.1L1198.8 903.5L1198.9 898.0L1198.9 897.6L1198.9 891.5L1199.0 884.2L1199.1 876.3L1199.2 867.9L1199.3 859.4L1199.3 851.2L1199.4 844.4L1199.4 843.6L1199.5 837.2L1199.6 832.3L1199.6 829.3L1199.7 828.2L1199.8 829.3L1199.9 832.3L1199.9 835.8L1200.0 837.2L1200.0 843.7L1200.1 851.2L1200.2 859.4L1200.3 867.9L1200.3 876.3L1200.4 884.2L1200.5 888.5L1200.5 891.5L1200.6 898.0L1200.7 903.5L1200.7 908.1L1200.8 911.9L1200.9 914.8L1201.0 917.1L1201.0 917.9L1201.0 918.8L1201.1 920.1L1201.2 921.0L1201.3 921.7L1201.4 922.2L1201.4 922.5L1201.5 922.8L1201.5 922.8L1201.6 923.0L1201.7 923.1L1201.7 923.2L1201.8 923.3L1201.9 923.4L1202.0 923.5L1202.1 923.5L1202.1 923.5L1202.1 923.6L1202.2 923.6L1202.3 923.7L1202.4 923.7L1202.5 923.7L1202.5 923.8L1202.6 923.8L1202.6 923.8L1202.7 923.8L1202.8 923.8L1203.1 923.7L1203.2 923.7L1203.3 923.6L1203.3 923.6L1203.4 923.5L1203.5 923.4L1203.6 923.3L1203.7 923.2L1203.7 923.2L1203.7 923.1L1203.8 923.0L1203.9 922.9L1204.0 922.8L1204.0 922.6L1204.1 922.4L1204.2 922.2L1204.2 922.2L1204.3 921.9L1204.4 921.6L1204.4 921.2L1204.5 920.7L1204.6 919.9L1204.7 918.9L1204.7 917.7L1204.7 917.4L1204.8 915.4L1204.9 912.7L1205.0 908.9L1205.1 904.0L1205.1 897.6L1205.2 889.5L1205.3 882.8L1205.3 879.4L1205.4 867.5L1205.4 853.6L1205.5 837.8L1205.6 820.6L1205.7 802.5L1205.8 784.1L1205.8 774.5L1205.8 766.4L1205.9 759.1L1206.0 759.1L1206.1 759.1L1206.2 759.1L1206.2 759.1L1206.3 759.1L1206.3 759.1L1206.4 759.1L1206.5 759.1L1206.5 759.1L1206.6 766.4L1206.7 784.1L1206.8 802.5L1206.9 820.6L1206.9 824.3L1206.9 837.8L1207.0 853.6L1207.1 867.5L1207.2 879.6L1207.2 889.5L1207.3 897.6L1207.4 904.0L1207.4 904.2L1207.5 908.9L1207.6 912.7L1207.6 915.4L1207.7 917.4L1207.8 918.9L1207.9 919.9L1207.9 920.6L1207.9 920.7L1208.0 921.2L1208.1 921.6L1208.2 922.0L1208.3 922.2L1208.3 922.4L1208.4 922.6L1208.5 922.7L1208.5 922.8L1208.6 922.9L1208.6 923.0L1208.7 923.2L1208.8 923.3L1208.9 923.4L1209.0 923.5L1209.0 923.5L1209.0 923.5L1209.1 923.6L1209.2 923.7L1209.3 923.7L1209.5 923.9L1210.1 924.1L1210.6 924.1L1211.1 924.1L1211.2 924.1L1211.3 924.1L1211.4 924.1L1211.5 924.1L1211.6 924.1L1211.7 924.1L1211.7 924.1L1211.8 924.1L1211.9 924.1L1212.0 924.1L1212.1 924.1L1212.2 924.1L1212.2 924.1L1212.3 924.1L1212.3 924.1L1212.4 924.1L1212.5 924.1L1212.6 924.1L1212.7 924.1L1212.7 924.1L1212.8 924.0L1212.9 924.0L1213.0 924.0L1213.1 924.0L1213.2 923.9L1213.3 923.8L1213.3 923.8L1213.4 923.7L1213.5 923.6L1213.6 923.4L1213.7 923.1L1213.8 922.8L1213.8 922.6L1213.8 922.5L1213.9 922.1L1214.0 921.6L1214.1 921.1L1214.2 920.6L1214.3 920.0L1214.3 919.9L1214.4 919.5L1214.5 919.0L1214.6 918.6L1214.7 918.3L1214.8 918.1L1214.9 918.0L1215.0 918.1L1215.1 918.3L1215.2 918.6L1215.2 919.0L1215.3 919.5L1215.4 919.9L1215.4 920.0L1215.5 920.6L1215.6 921.1L1215.7 921.6L1215.8 922.1L1215.9 922.5L1215.9 922.6L1216.0 922.8L1216.1 923.1L1216.2 923.4L1216.3 923.6L1216.4 923.7L1216.5 923.8L1216.5 923.8L1216.6 923.9L1216.7 924.0L1216.7 924.0L1216.8 924.0L1216.9 924.0L1217.0 924.1L1217.0 924.1L1217.1 924.1L1217.2 924.1L1217.3 924.1L1217.4 924.1L1217.5 924.1L1217.5 924.1L1217.6 924.1L1217.7 924.1L1217.8 924.1L1217.9 924.1L1218.0 924.1L1218.1 924.1L1218.1 924.1L1218.2 924.1L1218.2 924.1L1218.3 924.1L1218.4 924.1L1218.5 924.1L1218.6 924.1L1219.1 924.1L1219.7 924.1L1220.2 924.1L1220.7 924.1L1221.3 924.1L1221.5 924.0L1221.6 924.0L1221.7 924.0L1221.8 924.0L1221.8 923.9L1221.8 923.9L1221.9 923.9L1222.0 923.9L1222.0 923.8L1222.1 923.8L1222.2 923.8L1222.3 923.7L1222.3 923.7L1222.3 923.6L1222.4 923.6L1222.5 923.5L1222.6 923.4L1222.6 923.3L1222.7 923.2L1222.8 923.0L1222.8 922.8L1222.9 922.7L1222.9 922.5L1223.0 922.0L1223.1 921.4L1223.1 920.5L1223.2 919.3L1223.3 917.7L1223.4 915.6L1223.4 913.6L1223.4 913.1L1223.5 909.9L1223.6 906.1L1223.6 901.6L1223.7 896.6L1223.8 891.1L1223.9 885.3L1223.9 879.5L1223.9 878.6L1224.0 873.7L1224.1 868.5L1224.2 864.1L1224.2 860.7L1224.3 858.6L1224.4 857.9L1224.4 858.6L1224.5 859.4L1224.5 860.7L1224.6 864.1L1224.7 868.5L1224.7 873.7L1224.8 879.5L1224.9 885.3L1225.0 891.1L1225.0 895.5L1225.0 896.6L1225.1 901.6L1225.2 906.1L1225.2 909.9L1225.3 912.6L1225.3 913.1L1225.4 914.9L1225.4 915.7L1225.4 916.9L1225.5 917.7L1225.5 918.4L1225.5 919.3L1225.5 919.4L1225.6 919.6L1225.6 920.5L1225.6 920.6L1225.7 921.3L1225.7 921.3L1225.7 921.9L1225.8 922.0L1225.8 922.3L1225.8 922.4L1225.9 922.6L1225.9 922.8L1225.9 922.9L1226.0 923.0L1226.0 923.1L1226.0 923.2L1226.1 923.2L1226.1 923.2L1226.1 923.3L1226.1 923.3L1226.2 923.4L1226.2 923.4L1226.2 923.4L1226.3 923.4L1226.3 923.5L1226.3 923.5L1226.4 923.5L1226.4 923.5L1226.4 923.5L1226.5 923.5L1226.5 923.5L1226.6 923.5L1226.6 923.5L1226.6 923.5L1226.6 923.5L1226.6 923.5L1226.7 923.4L1226.7 923.4L1226.7 923.3L1226.8 923.3L1226.8 923.2L1226.8 923.1L1226.9 923.0L1226.9 922.8L1226.9 922.8L1227.0 922.5L1227.1 922.1L1227.1 922.0L1227.1 921.7L1227.1 921.6L1227.1 921.5L1227.2 921.3L1227.2 921.0L1227.2 920.8L1227.3 920.3L1227.4 919.9L1227.4 919.5L1227.5 919.1L1227.6 918.8L1227.6 918.7L1227.7 918.6L1227.7 918.7L1227.8 918.9L1227.9 919.1L1227.9 919.5L1228.0 919.9L1228.1 920.4L1228.1 920.9L1228.2 921.4L1228.2 921.6L1228.2 921.8L1228.3 922.3L1228.4 922.6L1228.4 922.9L1228.5 923.2L1228.6 923.4L1228.6 923.6L1228.7 923.7L1228.7 923.8L1228.7 923.8L1228.8 923.9L1228.9 923.9L1228.9 924.0L1229.0 924.0L1229.1 924.0L1229.1 924.0L1229.2 924.0L1229.2 924.0L1229.3 924.0L1229.3 924.0L1229.4 924.0L1229.4 924.0L1229.5 924.0L1229.6 923.9L1229.6 923.9L1229.7 923.9L1229.7 923.9L1229.8 923.8L1229.8 923.8L1229.9 923.8L1229.9 923.8L1230.0 923.7L1230.0 923.7L1230.1 923.7L1230.1 923.7L1230.1 923.6L1230.1 923.6L1230.2 923.5L1230.3 923.5L1230.3 923.4L1230.4 923.4L1230.4 923.3L1230.5 923.2L1230.6 923.0L1230.7 922.9L1230.8 922.8L1230.8 922.6L1230.9 922.5L1230.9 922.4L1231.0 922.2L1231.1 922.0L1231.1 921.6L1231.2 921.2L1231.3 920.7L1231.4 919.9L1231.4 919.5L1231.5 918.9L1231.5 917.4L1231.6 915.4L1231.7 912.7L1231.8 908.9L1231.8 904.0L1231.9 897.6L1232.0 895.2L1232.0 889.5L1232.1 879.4L1232.2 867.5L1232.2 853.6L1232.3 837.8L1232.4 820.6L1232.5 802.5L1232.5 799.5L1232.5 784.1L1232.6 766.4L1232.7 759.1L1232.8 759.1L1232.9 759.1L1232.9 759.1L1233.0 759.1L1233.1 759.1L1233.2 759.1L1233.3 759.1L1233.3 759.1L1233.4 766.4L1233.5 784.1L1233.6 799.5L1233.6 802.5L1233.6 820.6L1233.7 837.8L1233.8 853.6L1233.9 867.5L1234.0 879.4L1234.0 889.5L1234.1 895.2L1234.1 897.6L1234.2 904.0L1234.3 908.9L1234.3 912.7L1234.4 915.4L1234.5 917.4L1234.6 918.9L1234.6 919.5L1234.7 919.9L1234.7 920.7L1234.8 921.2L1234.9 921.6L1235.0 922.0L1235.0 922.2L1235.1 922.4L1235.2 922.5L1235.2 922.6L1235.3 922.8L1235.4 922.9L1235.4 923.0L1235.5 923.2L1235.6 923.3L1235.7 923.4L1235.7 923.4L1235.7 923.5L1235.8 923.5L1235.9 923.6L1236.0 923.7L1236.1 923.7L1236.2 923.8L1236.8 924.0L1237.3 924.1L1237.8 924.1L1238.4 924.1L1238.9 924.1L1239.4 924.1L1240.0 924.1L1240.5 924.1L1241.0 924.1L1241.6 924.1L1242.1 924.1L1242.6 924.1L1243.2 924.2L1243.7 924.2L1244.2 924.2L1244.8 924.2L1245.3 924.2L1245.8 924.2L1246.4 924.2L1246.9 924.2L1247.4 924.2L1248.0 924.2L1248.5 924.2L1249.0 924.2L1249.6 924.2L1250.1 924.2L1250.6 924.2L1251.2 924.2L1251.7 924.1L1252.2 924.1L1252.8 924.1L1253.3 924.1L1253.8 924.1L1254.4 924.1L1254.9 924.1L1255.4 924.1L1256.0 924.1L1256.5 924.1L1257.0 924.1L1257.6 923.9L1257.8 923.7L1257.9 923.7L1258.0 923.6L1258.1 923.5L1258.1 923.5L1258.1 923.5L1258.2 923.4L1258.3 923.3L1258.4 923.2L1258.5 923.0L1258.5 922.9L1258.6 922.8L1258.6 922.7L1258.7 922.6L1258.8 922.4L1258.8 922.2L1258.9 922.0L1259.0 921.6L1259.1 921.2L1259.2 920.7L1259.2 920.6L1259.2 919.9L1259.3 918.9L1259.4 917.4L1259.5 915.4L1259.5 912.7L1259.6 908.9L1259.7 904.2L1259.7 904.0L1259.8 897.6L1259.9 889.5L1259.9 879.6L1260.0 867.5L1260.1 853.6L1260.2 837.8L1260.2 824.3L1260.2 820.6L1260.3 802.5L1260.4 784.1L1260.5 766.4L1260.6 759.1L1260.6 759.1L1260.7 759.1L1260.8 759.1L1260.8 759.1L1260.9 759.1L1261.0 759.1L1261.0 759.1L1261.1 759.1L1261.2 759.1L1261.3 766.4L1261.3 774.5L1261.3 784.1L1261.4 802.5L1261.5 820.6L1261.6 837.8L1261.7 853.6L1261.7 867.5L1261.8 879.4L1261.8 882.8L1261.9 889.5L1262.0 897.6L1262.0 904.0L1262.1 908.9L1262.2 912.7L1262.3 915.4L1262.4 917.4L1262.4 917.7L1262.4 918.9L1262.5 919.9L1262.6 920.7L1262.7 921.2L1262.7 921.6L1262.8 922.0L1262.9 922.2L1262.9 922.2L1263.0 922.4L1263.1 922.6L1263.1 922.8L1263.2 922.9L1263.3 923.0L1263.4 923.2L1263.4 923.3L1263.4 923.3L1263.5 923.4L1263.6 923.5L1263.7 923.5L1263.8 923.6L1263.8 923.7L1263.9 923.7L1264.0 923.8L1264.5 924.0L1265.0 924.1L1265.6 924.1L1266.1 924.1L1266.6 924.1L1267.2 924.1L1267.7 924.1L1268.2 924.1L1268.8 924.1L1269.3 924.1L1269.8 924.1" fill="none" stroke="#2e2ec8" stroke-width="1.05" stroke-linejoin="round"/>
<path d="M1018.4 924.5H1445.4" stroke="#3a3a3a" stroke-width="1.3" opacity="0.5"/>
<g font-family='"Liberation Serif", serif' font-weight="bold" font-size="8.4" fill="#111" stroke="#111" stroke-width="0.22"><text x="1149.5" y="723.21" text-anchor="middle">118.03</text><text x="1163.5" y="716.51" text-anchor="middle">131.26</text><text x="1185.9" y="723.81" text-anchor="middle">152.30</text><text x="1209" y="718.81" text-anchor="middle">173.54</text><text x="1235.6" y="732.41" text-anchor="middle">198.50</text><text x="1263.4" y="730.11" text-anchor="middle">224.63</text><text x="1175.5" y="765.61" text-anchor="middle">142.76</text><text x="1201.8" y="826.21" text-anchor="middle">167.22</text><text x="1226.2" y="855.61" text-anchor="middle">190.26</text></g>
<text x="1404.8" y="675.92" text-anchor="middle" font-family='"Liberation Serif", serif' font-weight="bold" font-size="14" fill="#111" stroke="#111" stroke-width="0.22">K</text>
<text transform="translate(967.3,727.9) rotate(90)" text-anchor="middle" font-family='"Liberation Serif", serif' font-weight="bold" font-size="11.1" fill="#111" stroke="#111" stroke-width="0.42">Dye Signal</text>
<text x="1238.9" y="949.18" text-anchor="middle" font-family='"Liberation Serif", serif' font-weight="bold" font-size="10.1" fill="#111" stroke="#111" stroke-width="0.22">Size (nt)</text>
<polyline points="1242.4,950.3 1243.6,951.5 1244.8,950.3 1246.0,951.5 1247.2,950.3 1248.4,951.5 1249.6,950.3 1250.8,951.5 1252.0,950.3 1253.2,951.5" fill="none" stroke="#e05a5a" stroke-width="0.8" opacity="0.6"/></g>
</g>
</svg></body></html>
